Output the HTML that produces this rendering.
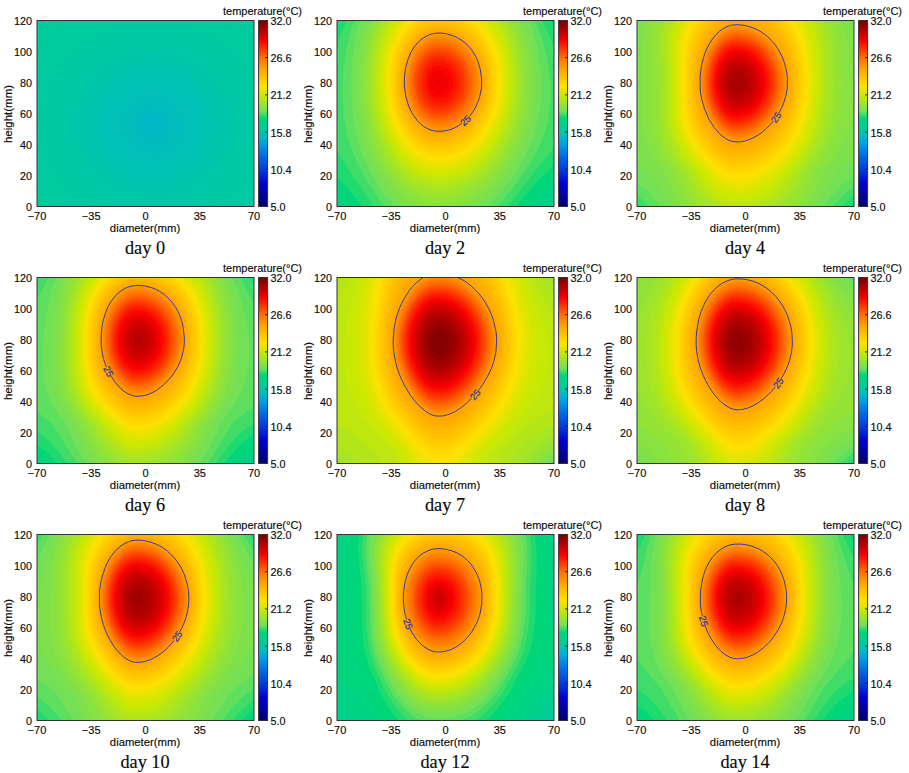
<!DOCTYPE html>
<html><head><meta charset="utf-8"><title>temperature</title>
<style>html,body{margin:0;padding:0;background:#fff;width:909px;height:773px;overflow:hidden}svg{display:block}text{fill:#0a0a0a;stroke:#0a0a0a;stroke-width:0.15px}</style>
</head><body>
<svg width="909" height="773" viewBox="0 0 909 773">
<defs><linearGradient id="cb" x1="0" y1="0" x2="0" y2="1"><stop offset="0.000" stop-color="#730000"/><stop offset="0.110" stop-color="#fa0000"/><stop offset="0.200" stop-color="#ff6e00"/><stop offset="0.270" stop-color="#ffaa00"/><stop offset="0.353" stop-color="#ffe100"/><stop offset="0.400" stop-color="#cde800"/><stop offset="0.490" stop-color="#6ee05a"/><stop offset="0.525" stop-color="#00d778"/><stop offset="0.600" stop-color="#00c8a5"/><stop offset="0.635" stop-color="#00b4d2"/><stop offset="0.674" stop-color="#0096e6"/><stop offset="0.725" stop-color="#006ee6"/><stop offset="0.800" stop-color="#003cdc"/><stop offset="0.875" stop-color="#0000d2"/><stop offset="1.000" stop-color="#00006e"/></linearGradient>
<clipPath id="pc"><rect x="0" y="0" width="217" height="186"/></clipPath></defs>
<g transform="translate(0,0)"><g transform="translate(37,20.5)" clip-path="url(#pc)"><rect x="0" y="0" width="217" height="186" fill="#00b8c9"/><path d="M217.0 186.0L0.0 186.0L0.0 0.0L217.0 0.0L217.0 186.0ZM117.0 110.0L120.1 108.0L121.0 106.0L121.0 104.0L119.0 100.9L117.0 100.0L115.0 100.0L111.9 102.0L111.0 104.0L111.0 106.0L113.0 109.1L115.0 110.0L117.0 110.0Z" fill="#00b9c6"/><path d="M217.0 186.0L0.0 186.0L0.0 0.0L217.0 0.0L217.0 186.0ZM118.6 114.0L122.0 112.2L124.3 109.5L125.4 106.0L125.1 102.5L123.5 99.3L120.5 96.8L117.0 95.7L113.5 96.0L110.0 97.8L107.7 100.5L106.6 104.0L106.9 107.5L108.5 110.7L111.5 113.2L115.0 114.3L118.6 114.0Z" fill="#00bbc3"/><path d="M217.0 186.0L0.0 186.0L0.0 0.0L217.0 0.0L217.0 186.0ZM116.7 118.0L122.0 116.6L125.9 113.5L128.5 109.0L129.1 104.0L127.6 99.0L124.5 95.1L120.0 92.6L115.0 92.0L110.0 93.4L106.1 96.5L103.5 101.0L102.9 106.0L104.4 111.0L107.5 114.9L112.0 117.4L116.7 118.0Z" fill="#00bcc0"/><path d="M217.0 186.0L0.0 186.0L0.0 0.0L217.0 0.0L217.0 186.0ZM119.9 121.5L126.0 118.8L130.5 114.0L132.0 111.0L133.0 107.5L132.7 101.0L129.8 95.0L125.0 90.6L118.5 88.2L112.0 88.5L106.0 91.2L101.5 96.0L100.0 99.0L99.0 102.5L99.3 109.0L102.2 115.0L107.0 119.4L113.5 121.8L119.9 121.5Z" fill="#00bdbd"/><path d="M217.0 186.0L0.0 186.0L0.0 0.0L217.0 0.0L217.0 186.0ZM120.5 126.5L124.5 125.3L128.5 123.2L132.0 120.4L134.8 117.0L136.9 113.0L138.0 109.0L138.4 104.5L137.9 100.5L136.7 96.5L134.4 92.5L131.5 89.1L128.0 86.5L124.0 84.5L120.0 83.4L115.5 83.1L111.0 83.6L107.0 84.9L103.2 87.0L100.0 89.6L97.2 93.0L95.1 97.0L94.0 101.0L93.6 105.5L94.1 109.5L95.3 113.5L97.5 117.4L100.1 120.5L103.5 123.2L107.5 125.3L111.5 126.5L116.0 126.9L120.5 126.5Z" fill="#00beba"/><path d="M217.0 186.0L0.0 186.0L0.0 0.0L217.0 0.0L217.0 186.0ZM119.3 134.0L125.0 132.9L130.7 130.5L135.5 127.3L139.9 123.0L143.0 118.3L145.2 113.0L146.2 107.5L146.1 101.5L144.9 96.0L142.3 90.5L139.0 86.0L134.5 81.9L129.5 78.9L124.0 76.9L118.0 75.9L112.0 76.1L106.5 77.3L101.0 79.6L96.1 83.0L92.0 87.2L88.8 92.0L86.8 97.0L85.8 102.5L85.9 108.5L87.1 114.0L89.4 119.0L92.5 123.5L97.0 127.7L102.0 130.9L107.5 133.0L113.5 134.1L119.3 134.0Z" fill="#00c0b8"/><path d="M217.0 186.0L0.0 186.0L0.0 0.0L217.0 0.0L217.0 186.0ZM121.7 142.5L129.5 140.6L136.5 137.5L142.8 133.0L148.0 127.5L152.0 121.0L154.6 114.0L155.7 106.5L155.3 99.0L153.1 91.5L149.8 85.0L144.9 79.0L139.0 74.1L132.0 70.3L124.5 68.0L117.0 67.1L109.0 67.7L101.5 69.7L94.7 73.0L88.7 77.5L83.6 83.0L79.7 89.5L77.3 96.5L76.3 103.5L76.7 111.0L78.7 118.0L82.0 124.6L86.6 130.5L92.5 135.6L99.0 139.2L106.5 141.8L114.0 142.8L121.7 142.5Z" fill="#00c1b5"/><path d="M217.0 186.0L0.0 186.0L0.0 0.0L217.0 0.0L217.0 186.0ZM122.9 150.5L132.5 148.2L141.0 144.3L148.5 139.0L155.0 132.1L160.0 124.0L163.0 115.5L164.2 106.5L163.6 97.5L161.1 88.5L156.8 80.5L151.0 73.3L143.9 67.5L135.5 62.9L126.5 60.1L117.0 59.0L107.5 59.7L98.5 62.2L90.0 66.3L82.5 71.9L76.6 78.5L72.0 86.1L69.0 94.5L67.8 103.5L68.4 112.5L70.8 121.0L74.8 129.0L80.5 136.1L87.5 142.1L95.5 146.6L104.5 149.6L113.5 150.9L122.9 150.5Z" fill="#00c2b2"/><path d="M217.0 186.0L0.0 186.0L0.0 0.0L217.0 0.0L217.0 186.0ZM122.3 158.0L133.0 155.8L143.4 151.5L152.4 145.5L160.0 138.0L166.0 129.0L169.9 119.5L171.8 109.0L171.6 98.5L169.1 88.0L164.6 78.5L158.3 70.0L150.0 62.6L140.5 57.0L130.5 53.5L119.5 51.8L108.5 52.1L98.0 54.5L88.0 58.8L79.0 65.0L71.6 72.5L65.7 81.5L62.0 91.0L60.2 101.0L60.4 111.5L62.7 121.5L67.1 131.0L73.5 139.7L81.5 147.0L90.5 152.5L101.0 156.4L111.5 158.2L122.3 158.0Z" fill="#00c4af"/><path d="M217.0 186.0L0.0 186.0L0.0 0.0L217.0 0.0L217.0 186.0ZM122.2 165.0L134.5 162.7L146.0 158.1L156.3 151.5L165.1 143.0L172.1 133.0L176.7 122.0L179.0 110.5L178.9 98.5L176.4 87.0L171.5 76.0L164.5 66.3L155.5 57.9L145.0 51.4L133.5 47.1L121.0 44.9L108.5 45.1L96.5 47.6L85.0 52.4L75.0 59.1L66.4 67.5L59.9 77.0L55.3 88.0L53.0 99.5L53.1 111.5L55.6 123.0L60.5 134.0L67.3 143.5L76.0 151.7L86.0 158.1L97.5 162.7L109.5 165.0L122.2 165.0Z" fill="#00c5ac"/><path d="M217.0 186.0L0.0 186.0L0.0 0.0L217.0 0.0L217.0 186.0ZM118.0 172.0L132.0 170.3L145.0 166.1L157.0 159.5L167.2 151.0L175.7 140.5L181.7 129.0L183.9 122.5L185.4 116.0L186.3 103.0L184.6 90.0L180.2 77.5L173.2 66.0L164.0 56.0L153.0 48.0L140.5 42.2L127.0 38.8L113.5 38.0L100.0 39.7L86.8 44.0L75.0 50.5L64.5 59.3L56.0 70.0L50.1 81.5L46.6 94.0L45.7 107.0L47.4 120.0L51.8 132.5L58.5 143.6L67.5 153.6L78.5 161.7L91.0 167.7L104.5 171.1L118.0 172.0Z" fill="#00c6a9"/><path d="M217.0 186.0L0.0 186.0L0.0 0.0L217.0 0.0L217.0 186.0ZM121.6 178.5L129.0 177.6L136.5 176.1L144.0 173.7L151.0 170.7L157.5 167.2L163.7 163.0L169.5 158.2L174.7 153.0L179.5 147.1L183.5 141.0L186.9 134.5L189.5 128.0L191.5 121.0L192.9 113.5L193.4 106.5L193.1 99.0L192.1 91.5L190.3 84.5L187.8 77.5L184.7 71.0L181.0 65.0L176.5 59.0L171.3 53.5L165.7 48.5L159.5 44.1L153.0 40.3L146.0 37.1L139.0 34.6L131.5 32.8L124.0 31.7L109.0 31.6L101.5 32.6L94.0 34.3L87.0 36.7L80.0 39.8L67.5 47.6L62.0 52.2L56.8 57.5L52.1 63.5L48.2 69.5L44.9 76.0L42.3 82.5L40.4 89.5L39.1 96.5L38.6 103.5L38.9 111.0L39.8 118.0L41.5 125.0L44.0 132.0L47.1 138.5L50.7 144.5L55.1 150.5L60.1 156.0L65.7 161.0L71.5 165.3L78.0 169.2L85.0 172.5L92.0 175.1L106.5 178.1L114.0 178.7L121.6 178.5Z" fill="#00c7a6"/><path d="M217.0 186.0L0.0 186.0L0.0 0.0L217.0 0.0L217.0 186.0ZM124.5 185.0L133.0 183.8L141.0 181.8L148.5 179.2L156.0 175.8L163.5 171.5L170.0 166.8L176.1 161.5L181.7 155.5L186.7 149.0L191.0 142.0L194.3 135.0L197.1 127.5L199.0 120.0L200.1 112.0L200.4 104.0L199.9 96.0L198.5 88.0L196.4 80.5L193.5 73.0L189.8 66.0L185.5 59.3L180.4 53.0L174.5 47.0L168.0 41.6L161.1 37.0L154.0 33.2L146.5 30.0L138.5 27.5L130.5 25.8L122.0 24.8L113.5 24.6L105.5 25.2L97.5 26.5L89.5 28.7L82.0 31.4L74.4 35.0L67.5 39.2L61.0 44.0L54.9 49.5L49.5 55.5L44.7 62.0L40.8 68.5L37.5 75.5L34.8 83.0L33.0 90.5L31.8 98.5L31.6 106.5L32.1 114.0L33.5 122.0L35.6 129.5L38.5 136.9L42.0 143.7L46.4 150.5L51.2 156.5L57.0 162.5L63.0 167.6L70.0 172.4L77.0 176.3L84.5 179.6L92.0 182.1L100.0 184.0L108.0 185.1L116.5 185.4L124.5 185.0Z" fill="#00c8a4"/><path d="M217.0 186.0L150.2 186.0L164.5 179.1L177.0 170.2L188.0 159.0L196.5 146.8L202.8 133.0L206.6 118.5L207.7 103.5L206.0 88.5L201.7 74.0L194.9 60.5L185.9 48.5L174.5 37.8L161.5 29.2L147.0 22.8L131.5 19.0L116.0 17.7L100.5 19.0L85.0 22.8L70.5 29.2L57.5 37.8L46.1 48.5L37.1 60.5L30.3 74.0L26.0 88.5L24.3 103.5L25.4 118.5L29.2 133.0L35.5 146.8L44.0 159.0L55.0 170.2L67.5 179.1L81.8 186.0L0.0 186.0L0.0 0.0L217.0 0.0L217.0 186.0Z" fill="#00c9a3"/><path d="M217.0 186.0L167.1 186.0L175.0 181.0L182.5 175.1L189.0 169.0L195.1 162.0L200.5 154.5L205.1 146.5L209.0 138.0L211.8 129.5L213.9 120.5L215.0 111.5L215.2 102.5L214.5 93.5L212.8 84.5L210.4 76.0L207.1 67.5L202.9 59.5L195.9 49.0L187.5 39.5L177.5 30.9L166.5 23.7L154.5 17.9L142.0 13.8L129.0 11.3L116.0 10.5L100.0 11.8L84.5 15.4L69.5 21.5L56.0 29.8L44.0 40.0L33.9 52.0L25.9 65.5L20.3 80.0L17.3 95.0L17.0 110.5L19.2 125.5L23.8 140.0L31.0 153.7L40.5 166.3L52.0 177.2L64.9 186.0L0.0 186.0L0.0 0.0L217.0 0.0L217.0 186.0Z" fill="#00c9a2"/><path d="M50.5 186.0L0.0 186.0L0.0 0.0L217.0 0.0L217.0 70.7L211.5 58.5L204.3 47.0L195.5 36.5L185.5 27.2L174.0 19.1L162.0 12.7L149.0 7.8L135.5 4.6L121.5 3.0L107.5 3.2L93.5 5.1L80.0 8.8L67.0 14.2L55.0 21.0L44.0 29.3L34.5 38.6L28.0 46.6L22.2 55.5L17.3 65.0L13.7 74.5L10.9 84.5L9.3 95.0L8.8 105.5L9.3 115.5L10.9 125.5L13.7 135.5L17.3 145.0L22.2 154.5L28.0 163.4L34.5 171.4L41.5 178.5L50.5 186.0ZM217.0 186.0L181.3 186.0L193.0 176.1L202.8 165.0L210.9 152.5L217.0 139.3L217.0 186.0Z" fill="#00caa0"/><path d="M37.0 186.0L0.0 186.0L0.0 0.0L80.0 0.0L66.0 5.3L53.0 12.3L41.0 20.8L30.0 30.9L20.7 42.0L12.9 54.5L6.9 67.5L2.8 81.0L0.5 95.0L0.1 109.5L1.7 123.5L5.2 137.5L10.6 151.0L17.6 163.5L26.3 175.0L37.0 186.0ZM217.0 50.7L211.3 42.0L204.8 34.0L197.5 26.4L189.5 19.6L181.0 13.5L171.5 8.0L162.0 3.6L152.0 0.0L217.0 0.0L217.0 50.7ZM217.0 186.0L194.8 186.0L207.0 173.5L217.0 159.3L217.0 186.0Z" fill="#00ca9f"/><path d="M0.0 58.7L0.0 0.0L55.4 0.0L46.5 5.2L38.0 11.0L30.0 17.6L22.5 24.9L15.9 32.5L9.7 41.0L4.5 49.5L0.0 58.7ZM217.0 33.6L208.2 23.5L198.5 14.6L188.0 6.8L176.6 0.0L217.0 0.0L217.0 33.6ZM23.0 186.0L0.0 186.0L0.0 151.3L4.5 160.5L9.7 169.0L15.1 176.5L23.0 186.0ZM217.0 186.0L208.7 186.0L217.0 176.4L217.0 186.0Z" fill="#00ca9e"/><path d="M0.0 35.1L0.0 0.0L34.2 0.0L24.5 7.5L15.4 16.0L7.4 25.0L0.0 35.1ZM217.0 16.4L208.0 8.0L197.8 0.0L217.0 0.0L217.0 16.4ZM8.0 186.0L0.0 186.0L0.0 174.9L8.0 186.0Z" fill="#00cb9c"/><path d="M0.0 11.8L0.0 0.0L11.7 0.0L0.0 11.8Z" fill="#00cb9b"/></g><rect x="37" y="20.5" width="217" height="186" fill="none" stroke="#333" stroke-width="1"/><rect x="258.6" y="20.5" width="9" height="186" fill="url(#cb)" stroke="#333" stroke-width="1"/><line x1="265.1" x2="267.6" y1="57.7" y2="57.7" stroke="#222" stroke-width="1"/><line x1="265.1" x2="267.6" y1="94.9" y2="94.9" stroke="#222" stroke-width="1"/><line x1="265.1" x2="267.6" y1="132.1" y2="132.1" stroke="#222" stroke-width="1"/><line x1="265.1" x2="267.6" y1="169.3" y2="169.3" stroke="#222" stroke-width="1"/><text x="270.5" y="25.0" font-size="10.8" text-anchor="start" font-family="Liberation Sans">32.0</text><text x="270.5" y="62.2" font-size="10.8" text-anchor="start" font-family="Liberation Sans">26.6</text><text x="270.5" y="99.4" font-size="10.8" text-anchor="start" font-family="Liberation Sans">21.2</text><text x="270.5" y="136.6" font-size="10.8" text-anchor="start" font-family="Liberation Sans">15.8</text><text x="270.5" y="173.8" font-size="10.8" text-anchor="start" font-family="Liberation Sans">10.4</text><text x="270.5" y="211.0" font-size="10.8" text-anchor="start" font-family="Liberation Sans">5.0</text><text x="302.0" y="15.2" font-size="11" text-anchor="end" font-family="Liberation Sans">temperature(°C)</text><text x="32.1" y="211.0" font-size="10.8" text-anchor="end" font-family="Liberation Sans">0</text><text x="32.1" y="180.0" font-size="10.8" text-anchor="end" font-family="Liberation Sans">20</text><text x="32.1" y="149.0" font-size="10.8" text-anchor="end" font-family="Liberation Sans">40</text><text x="32.1" y="118.0" font-size="10.8" text-anchor="end" font-family="Liberation Sans">60</text><text x="32.1" y="87.0" font-size="10.8" text-anchor="end" font-family="Liberation Sans">80</text><text x="32.1" y="56.0" font-size="10.8" text-anchor="end" font-family="Liberation Sans">100</text><text x="32.1" y="25.0" font-size="10.8" text-anchor="end" font-family="Liberation Sans">120</text><text x="37.0" y="220.2" font-size="11" text-anchor="middle" font-family="Liberation Sans">−70</text><text x="91.2" y="220.2" font-size="11" text-anchor="middle" font-family="Liberation Sans">−35</text><text x="145.5" y="220.2" font-size="11" text-anchor="middle" font-family="Liberation Sans">0</text><text x="199.8" y="220.2" font-size="11" text-anchor="middle" font-family="Liberation Sans">35</text><text x="254.0" y="220.2" font-size="11" text-anchor="middle" font-family="Liberation Sans">70</text><text x="145.0" y="232.4" font-size="11.3" text-anchor="middle" font-family="Liberation Sans">diameter(mm)</text><text transform="translate(11.8,114) rotate(-90)" font-size="11.5" text-anchor="middle" font-family="Liberation Sans">height(mm)</text><text x="145.0" y="253.7" font-size="18.3" text-anchor="middle" font-family="Liberation Serif">day 0</text></g>
<g transform="translate(300,0)"><g transform="translate(37,20.5)" clip-path="url(#pc)"><rect x="0" y="0" width="217" height="186" fill="#00cd96"/><path d="M214.5 186.0L0.0 186.0L0.0 0.0L217.0 0.0L217.0 183.8L214.5 186.0Z" fill="#00cf90"/><path d="M208.5 186.0L0.0 186.0L0.0 0.0L217.0 0.0L217.0 178.5L208.5 186.0Z" fill="#00d18a"/><path d="M202.0 186.0L0.0 186.0L0.0 0.0L217.0 0.0L217.0 172.5L202.0 186.0Z" fill="#00d384"/><path d="M195.0 186.0L3.8 186.0L0.0 182.4L0.0 0.0L217.0 0.0L217.0 165.4L206.5 174.3L195.0 186.0Z" fill="#00d57e"/><path d="M187.5 186.0L14.6 186.0L0.0 171.4L0.0 0.0L217.0 0.0L217.0 156.9L203.0 169.0L187.5 186.0Z" fill="#00d778"/><path d="M179.0 186.0L25.7 186.0L11.5 168.4L0.0 156.5L0.0 0.0L213.7 0.0L217.0 5.3L217.0 145.5L209.0 152.4L200.5 160.9L190.0 172.8L179.5 186.0L179.0 186.0Z" fill="#1fda6f"/><path d="M170.5 186.0L36.8 186.0L17.2 158.0L0.0 130.6L0.0 24.5L9.4 0.0L205.4 0.0L217.0 25.4L217.0 126.9L170.5 186.0Z" fill="#3fdc67"/><path d="M161.0 186.0L47.5 186.0L44.8 182.5L31.2 163.0L20.7 143.5L12.3 122.0L9.8 112.5L7.9 102.0L6.3 88.5L5.5 75.0L5.6 63.0L6.5 49.0L8.1 35.5L10.3 23.5L13.3 11.5L17.1 0.0L198.2 0.0L203.2 12.5L207.3 25.5L210.4 38.5L212.6 52.5L213.7 64.5L213.8 75.5L212.8 88.0L210.8 101.0L208.4 110.5L205.2 119.5L201.0 128.5L194.3 140.5L179.7 162.5L161.0 186.0Z" fill="#5edf5e"/><path d="M150.5 186.0L58.2 186.0L50.0 176.9L42.2 166.5L31.9 149.0L23.6 129.5L18.4 111.5L15.2 92.0L13.8 68.0L15.0 40.5L18.1 19.0L20.4 9.5L23.4 0.0L191.9 0.0L196.3 11.5L199.7 23.5L202.2 36.5L203.8 50.0L204.6 64.0L204.3 76.0L202.9 89.5L200.6 102.5L197.8 113.0L193.9 123.5L189.8 132.5L182.2 146.5L175.3 157.0L167.1 168.0L158.5 178.0L150.5 186.0Z" fill="#73e055"/><path d="M138.5 186.0L69.6 186.0L62.0 179.7L54.5 172.0L47.5 163.2L41.2 153.5L33.9 139.0L26.8 120.0L22.7 102.5L20.2 83.0L19.5 62.0L20.9 35.5L23.9 16.5L28.8 0.0L186.4 0.0L190.6 11.0L193.9 23.0L196.2 36.0L197.7 50.5L198.2 65.0L197.7 78.0L195.9 92.0L193.2 105.0L189.7 116.5L185.2 127.5L178.3 141.0L171.8 151.5L164.0 162.1L155.5 171.7L147.0 179.6L138.5 186.0Z" fill="#7ee14b"/><path d="M121.5 186.0L84.5 186.0L76.5 182.3L66.0 175.0L56.0 165.0L47.4 153.5L39.9 140.0L33.4 124.5L29.0 109.5L25.8 92.5L24.2 74.0L24.2 51.5L25.8 31.0L28.9 14.5L33.6 0.0L181.3 0.0L185.9 11.5L189.4 24.5L191.8 39.0L193.0 55.0L193.2 69.0L192.1 83.0L189.6 97.5L186.0 111.0L180.8 124.5L173.7 138.5L166.7 149.5L159.0 159.4L150.0 168.8L140.5 176.5L131.0 182.2L121.5 186.0Z" fill="#88e241"/><path d="M108.5 182.0L98.0 182.2L88.0 180.4L78.0 176.2L68.5 169.9L59.5 161.4L51.3 151.0L44.7 140.0L38.2 125.5L33.7 112.0L30.4 97.0L28.4 80.5L27.7 64.0L28.3 44.0L30.1 27.5L33.2 13.0L37.9 0.0L176.7 0.0L180.5 8.5L184.4 21.0L187.1 34.5L188.6 49.5L189.1 66.0L188.2 79.5L186.0 93.5L182.8 106.5L178.3 119.0L172.6 131.0L164.8 144.0L156.7 154.5L148.0 163.4L138.5 170.9L129.0 176.3L119.0 180.0L108.5 182.0Z" fill="#93e337"/><path d="M104.0 176.5L94.5 176.0L85.0 173.5L76.0 169.0L67.5 162.8L59.5 154.7L52.6 145.5L45.8 133.5L40.7 122.0L36.7 109.5L33.7 96.0L31.7 81.0L30.9 65.5L31.4 47.0L32.8 31.5L35.4 18.0L39.2 6.0L41.8 0.0L172.3 0.0L177.8 12.0L181.6 25.0L184.1 39.5L185.4 56.0L185.3 71.0L183.7 85.5L180.7 100.0L176.1 114.0L170.2 127.0L162.4 140.0L154.5 150.2L145.5 159.2L136.0 166.3L125.5 171.8L115.0 175.1L104.0 176.5Z" fill="#9de42d"/><path d="M108.0 171.0L98.0 171.2L88.5 169.4L79.0 165.3L70.4 159.5L62.5 152.0L55.0 142.4L47.9 130.0L42.7 118.0L38.5 104.0L35.6 89.0L34.1 73.0L33.9 56.0L34.9 39.0L37.1 24.5L40.6 11.5L45.6 0.0L168.2 0.0L171.9 7.0L175.0 14.5L178.3 25.5L180.6 38.0L182.0 52.0L182.2 67.0L181.2 79.5L179.1 92.0L176.0 104.0L171.7 115.5L166.0 127.0L159.0 138.0L152.0 146.9L144.5 154.3L136.0 160.8L127.0 165.8L117.5 169.2L108.0 171.0Z" fill="#a8e523"/><path d="M105.0 166.5L96.0 166.2L87.5 164.2L79.5 160.7L71.5 155.2L64.0 148.1L57.6 140.0L51.2 129.5L46.3 119.0L42.3 107.5L39.4 95.0L37.4 81.5L36.5 68.0L36.6 51.5L37.8 37.0L39.9 24.5L43.2 13.0L49.1 0.0L164.2 0.0L170.0 10.5L174.2 22.0L177.2 35.0L178.9 49.5L179.3 65.0L178.3 79.0L175.8 93.0L171.8 106.5L166.7 118.5L160.2 130.0L152.1 141.0L144.0 149.4L135.0 156.4L125.5 161.5L115.5 164.9L105.0 166.5Z" fill="#b3e619"/><path d="M107.0 162.0L97.5 162.1L88.5 160.1L80.0 156.4L71.5 150.4L63.6 142.5L56.7 133.0L50.9 122.5L46.1 110.5L42.3 96.5L39.9 81.5L38.9 66.0L39.2 49.0L40.7 34.5L43.4 21.5L47.3 10.0L52.5 0.0L160.4 0.0L166.1 9.5L170.7 20.5L173.5 31.0L175.5 42.5L176.5 55.5L176.5 68.5L175.4 80.0L173.2 91.5L170.3 102.0L166.2 112.5L161.1 122.5L155.2 131.5L148.0 140.4L140.5 147.5L132.5 153.3L124.5 157.5L116.0 160.4L107.0 162.0Z" fill="#bde70f"/><path d="M106.0 158.0L98.0 158.0L90.0 156.5L82.5 153.5L75.0 148.8L68.0 142.5L61.5 134.7L55.8 126.0L51.1 116.5L47.3 106.0L44.4 95.0L42.4 83.0L41.3 70.5L41.2 56.0L42.0 42.0L43.9 30.0L46.6 19.5L50.7 9.0L55.9 0.0L156.6 0.0L162.6 9.0L167.4 19.5L170.8 31.0L173.1 44.0L174.1 59.0L173.7 72.5L171.8 86.0L168.4 99.0L163.8 111.0L158.0 121.9L151.0 131.9L143.0 140.7L134.5 147.6L125.5 152.8L116.0 156.3L106.0 158.0Z" fill="#c8e805"/><path d="M107.5 154.0L98.0 154.2L89.5 152.4L81.0 148.6L73.1 143.0L66.0 135.7L59.0 126.0L53.4 115.5L49.1 104.0L45.8 90.5L43.8 76.0L43.2 60.5L44.0 44.0L46.0 31.0L49.1 19.5L53.5 9.0L59.2 0.0L152.8 0.0L157.1 5.5L160.8 11.5L164.0 18.1L166.7 25.5L169.2 35.5L170.9 46.0L171.7 57.5L171.5 69.0L170.4 79.5L168.3 90.0L165.4 100.0L161.8 109.0L157.1 118.0L151.5 126.4L145.5 133.6L138.2 140.5L131.0 145.7L123.5 149.7L115.5 152.5L107.5 154.0Z" fill="#d2e700"/><path d="M106.0 150.5L97.5 150.5L89.0 148.6L80.5 144.5L73.0 138.8L65.7 131.0L59.5 121.9L54.3 111.5L50.3 100.0L47.2 86.5L45.6 72.5L45.3 57.0L46.3 42.0L48.5 29.5L51.9 18.5L56.6 8.5L62.5 0.0L149.0 0.0L154.1 6.0L158.6 13.0L162.2 20.5L165.2 29.0L167.4 38.5L168.9 49.0L169.4 60.0L169.1 70.5L167.9 80.5L165.8 90.5L162.8 100.0L158.9 109.0L154.3 117.5L148.6 125.5L142.5 132.4L135.7 138.5L129.0 143.0L121.5 146.8L114.0 149.2L106.0 150.5Z" fill="#dde600"/><path d="M106.5 147.0L98.0 147.1L89.5 145.2L81.5 141.4L74.0 135.8L67.0 128.3L60.7 119.0L55.5 108.5L51.6 97.0L48.8 84.0L47.4 70.0L47.3 54.5L48.6 40.0L51.1 28.0L54.7 17.5L59.7 8.0L65.8 0.0L145.2 0.0L151.2 6.5L156.3 14.0L160.4 22.5L163.5 31.5L165.5 40.5L166.8 50.5L167.3 61.5L166.9 71.0L165.7 80.5L163.5 90.0L160.6 99.0L156.9 107.5L152.5 115.5L147.2 123.0L141.4 129.5L135.0 135.1L128.5 139.6L121.5 143.2L114.0 145.7L106.5 147.0Z" fill="#e8e400"/><path d="M107.5 143.5L98.5 143.8L90.5 142.1L82.5 138.4L74.6 132.5L67.6 125.0L61.6 116.0L56.8 106.0L53.0 94.5L50.4 81.5L49.1 67.5L49.3 52.5L50.8 38.5L53.5 27.0L57.5 16.5L62.8 7.5L69.2 0.0L141.2 0.0L148.0 6.6L153.8 14.5L158.3 23.5L161.7 33.5L163.6 42.0L164.8 51.5L165.2 62.0L164.8 71.0L163.6 80.0L161.6 89.0L158.8 97.5L155.3 105.5L151.0 113.1L146.0 120.2L140.5 126.4L134.5 131.8L128.0 136.3L121.5 139.7L114.5 142.2L107.5 143.5Z" fill="#f2e300"/><path d="M105.0 140.5L96.5 140.3L88.5 138.0L80.5 133.7L73.5 127.8L67.0 120.1L61.5 111.0L57.2 101.0L53.8 89.5L51.6 76.5L50.8 63.0L51.4 48.5L53.3 35.5L56.4 24.5L60.7 15.0L66.0 7.0L72.7 0.0L137.0 0.0L145.0 7.0L151.9 16.0L157.0 26.2L160.7 38.0L162.2 46.5L163.1 56.0L163.2 65.0L162.5 74.0L161.0 82.5L158.7 91.0L155.8 99.0L152.1 106.5L147.9 113.5L142.9 120.0L137.5 125.6L131.5 130.5L125.0 134.6L118.5 137.6L112.0 139.5L105.0 140.5Z" fill="#fde100"/><path d="M102.0 137.5L96.0 137.0L90.0 135.4L84.5 132.9L79.0 129.2L74.0 124.7L69.1 119.0L65.0 112.8L61.4 106.0L58.4 98.5L56.0 90.5L54.2 82.0L53.0 73.0L52.7 54.0L53.6 44.5L55.1 36.0L58.4 25.0L63.2 15.0L69.4 6.5L76.5 0.0L132.5 0.0L140.5 6.0L147.4 13.5L152.9 22.5L157.0 32.5L159.9 44.5L161.2 57.5L160.9 70.0L159.0 82.0L155.6 93.5L150.9 104.0L144.9 113.5L137.5 122.0L129.5 128.5L120.5 133.5L111.5 136.4L102.0 137.5Z" fill="#ffdc00"/><path d="M107.5 134.0L98.5 134.3L90.5 132.4L82.7 128.5L75.5 122.6L69.1 115.0L63.7 106.0L59.4 95.5L56.4 84.0L54.6 71.0L54.3 57.5L55.5 44.0L58.0 32.0L61.8 22.0L67.0 13.0L73.4 5.5L80.6 0.0L127.5 0.0L129.5 1.0L134.5 4.2L139.5 8.3L143.6 12.5L147.5 17.6L153.5 29.0L157.5 42.5L159.3 58.5L158.5 74.0L155.0 89.0L149.2 102.5L145.5 108.6L141.0 114.6L136.0 119.9L131.0 124.1L125.5 127.8L119.5 130.8L113.5 132.8L107.5 134.0Z" fill="#ffd500"/><path d="M107.5 131.0L99.0 131.3L91.0 129.5L83.0 125.5L76.0 119.7L69.5 111.7L64.3 102.5L60.2 92.0L57.4 80.0L56.0 67.0L56.2 53.5L57.7 41.0L60.8 29.5L65.0 20.0L70.8 11.5L77.5 4.9L85.5 0.0L121.6 0.0L131.5 5.0L140.5 12.5L147.5 21.7L152.8 33.0L156.2 46.0L157.5 61.0L156.4 75.5L152.7 89.5L147.0 102.0L139.0 113.2L129.5 121.9L124.5 125.2L119.0 127.9L113.5 129.8L107.5 131.0Z" fill="#ffce00"/><path d="M107.5 128.1L98.5 128.3L90.5 126.3L82.5 121.9L75.5 115.7L69.3 107.5L64.2 97.5L60.5 86.2L58.3 74.0L57.6 61.0L58.4 47.5L60.8 35.5L64.5 25.3L69.5 16.5L76.1 9.0L83.5 3.6L92.1 0.0L114.5 0.3L125.0 4.0L134.5 10.1L142.3 18.0L148.3 27.5L152.5 38.5L155.0 51.0L155.6 65.0L154.0 78.0L150.2 90.5L144.5 101.9L137.0 111.8L128.0 119.8L118.0 125.2L107.5 128.1Z" fill="#ffc800"/><path d="M103.0 125.5L94.5 124.6L86.5 121.4L79.0 115.8L72.2 108.0L66.8 98.5L62.8 88.0L60.2 76.0L59.2 63.5L59.8 50.5L61.8 38.5L65.4 28.0L70.3 19.0L76.5 11.5L84.0 5.8L92.5 2.3L101.0 1.0L112.0 2.1L122.0 5.2L131.0 10.3L139.0 17.5L145.1 26.0L149.8 36.5L152.7 48.0L153.8 60.5L153.0 72.5L150.3 84.5L145.7 95.5L139.3 105.5L131.5 113.8L122.5 120.1L113.0 124.0L103.0 125.5Z" fill="#ffc100"/><path d="M104.5 122.5L96.5 122.2L88.5 119.4L81.0 114.4L74.5 107.4L69.0 98.6L64.9 88.5L62.0 77.0L60.8 65.0L61.2 52.5L63.0 41.0L66.3 30.5L71.0 21.5L77.0 14.0L84.0 8.4L92.0 4.8L100.5 3.3L110.5 4.1L120.5 7.0L129.5 12.0L137.0 18.5L143.0 26.6L147.7 36.5L150.7 47.5L152.0 59.0L151.5 70.5L149.1 82.0L144.9 92.5L139.0 102.2L132.0 110.1L123.5 116.4L114.0 120.7L104.5 122.5Z" fill="#ffbb00"/><path d="M105.5 119.6L97.5 119.4L90.0 117.1L82.6 112.5L76.2 106.0L70.7 97.5L66.6 88.0L63.8 77.5L62.5 66.0L62.7 54.0L64.4 42.5L67.5 32.4L72.0 23.5L77.9 16.0L84.5 10.7L92.0 7.1L100.0 5.6L109.5 6.2L119.0 8.9L127.5 13.3L135.0 19.6L141.0 27.3L145.6 36.5L148.7 47.0L150.1 58.0L149.8 69.0L147.7 80.0L143.7 90.5L138.3 99.5L131.5 107.2L123.5 113.4L114.5 117.6L105.5 119.6Z" fill="#ffb400"/><path d="M106.5 116.5L98.5 116.7L91.5 114.8L84.5 110.8L78.0 104.6L72.5 96.6L68.3 87.5L65.6 77.5L64.1 66.5L64.2 55.0L65.8 44.0L68.8 34.0L73.0 25.6L78.5 18.4L85.0 12.9L92.5 9.3L100.0 7.9L109.5 8.5L118.2 11.0L126.5 15.4L133.5 21.2L139.3 28.5L143.7 37.0L146.8 47.0L148.3 57.5L148.1 68.0L146.1 78.5L142.6 88.0L137.5 96.8L131.0 104.4L123.5 110.3L115.0 114.5L106.5 116.5Z" fill="#ffad00"/><path d="M107.0 113.6L99.5 113.9L92.5 112.2L85.5 108.4L79.5 102.9L74.2 95.5L70.1 87.0L67.3 77.5L65.8 67.0L65.8 56.0L67.2 45.5L70.0 36.0L74.0 27.6L79.0 20.8L85.0 15.5L92.0 11.8L99.5 10.2L108.5 10.7L117.0 13.0L124.9 17.0L131.7 22.5L137.4 29.5L141.8 37.5L144.9 47.0L146.4 57.0L146.4 67.0L144.6 77.0L141.4 86.0L136.5 94.5L130.5 101.6L123.5 107.2L115.5 111.3L107.0 113.6Z" fill="#ffa600"/><path d="M103.0 111.0L96.0 110.4L89.5 107.8L83.0 103.1L77.7 97.0L73.3 89.5L70.1 81.5L68.1 73.0L67.2 63.0L67.7 53.0L69.7 42.5L72.6 34.5L76.7 27.0L82.0 20.7L88.0 16.2L94.0 13.5L101.0 12.4L109.5 13.2L117.5 15.6L125.5 20.1L132.0 26.0L136.9 32.5L141.3 41.5L143.9 51.0L144.8 60.5L144.3 69.5L141.9 79.5L138.3 87.5L132.9 95.5L126.5 101.9L119.0 106.8L111.0 109.9L103.0 111.0Z" fill="#ff9d00"/><path d="M106.0 109.0L99.0 109.2L92.6 107.5L86.5 104.0L81.0 98.9L76.4 92.5L72.5 84.5L69.8 75.5L68.5 66.0L68.6 56.0L70.0 46.5L72.5 38.0L76.4 30.0L81.3 23.5L87.0 18.7L93.5 15.5L100.0 14.2L108.0 14.6L116.0 16.8L123.5 20.8L129.8 26.0L135.0 32.5L139.0 40.0L141.8 48.5L143.2 58.0L143.1 67.0L141.4 76.0L138.2 84.5L133.7 92.0L128.0 98.4L121.4 103.5L114.0 107.1L106.0 109.0Z" fill="#ff9500"/><path d="M104.0 107.5L97.5 107.2L91.5 105.2L85.7 101.5L80.5 96.1L76.0 89.1L72.7 81.5L70.6 73.0L69.6 64.0L69.9 54.5L71.5 45.5L74.1 37.5L78.0 30.1L82.9 24.0L88.5 19.6L94.5 16.9L101.0 15.8L109.0 16.5L116.5 18.9L123.5 22.8L129.5 28.1L134.5 34.6L138.4 42.5L140.8 51.0L141.8 60.0L141.3 69.0L139.4 77.5L135.9 85.5L131.3 92.5L125.5 98.5L119.0 103.0L111.5 106.2L104.0 107.5Z" fill="#ff8c00"/><path d="M106.5 105.5L100.0 105.8L94.0 104.5L88.3 101.5L83.0 96.8L78.5 90.8L74.9 83.5L72.4 75.5L71.0 66.5L70.9 57.5L72.1 48.5L74.5 40.2L78.0 32.8L82.5 26.6L87.8 22.0L93.5 19.0L100.0 17.6L107.5 18.0L115.0 20.1L121.5 23.5L127.5 28.4L132.5 34.5L136.3 41.5L138.9 49.5L140.2 57.5L140.1 66.0L138.8 74.0L136.0 81.9L132.0 89.0L126.5 95.4L120.5 100.2L113.5 103.7L106.5 105.5Z" fill="#ff8300"/><path d="M103.0 104.0L97.0 103.5L91.5 101.5L86.0 97.6L81.5 92.6L77.5 86.1L74.7 79.0L72.8 71.0L72.1 63.0L72.5 54.5L74.0 46.2L76.5 38.9L80.0 32.4L84.5 26.8L89.5 22.9L95.0 20.4L101.0 19.4L108.5 20.0L115.5 22.3L122.0 26.0L127.5 30.9L132.1 37.0L135.5 44.0L137.8 52.0L138.7 60.5L138.2 68.5L136.4 76.5L133.1 84.0L128.7 90.5L123.3 96.0L117.0 100.2L110.0 102.9L103.0 104.0Z" fill="#ff7b00"/><path d="M104.5 102.0L99.0 102.0L93.5 100.4L88.0 97.1L83.5 92.7L79.5 86.8L76.5 80.0L74.4 72.5L73.4 64.5L73.6 56.0L75.0 48.0L77.2 41.0L80.5 34.4L84.5 29.2L89.5 25.0L95.0 22.3L100.5 21.3L107.5 21.8L114.5 23.9L120.5 27.2L126.0 31.9L130.5 37.8L133.9 44.5L136.0 51.5L137.0 59.5L136.8 67.0L135.2 74.5L132.5 81.5L128.5 88.0L123.5 93.5L117.5 97.8L111.0 100.7L104.5 102.0Z" fill="#ff7200"/><path d="M105.0 100.0L99.5 100.1L94.0 98.6L89.0 95.7L84.7 91.5L80.8 86.0L77.8 79.5L75.8 72.5L74.8 65.0L74.9 57.0L76.1 49.5L78.2 42.5L81.4 36.0L85.5 30.6L90.0 26.8L95.0 24.3L100.5 23.2L107.0 23.7L113.5 25.6L119.5 28.8L124.4 33.0L128.8 38.5L132.0 44.6L134.2 51.5L135.3 59.0L135.1 66.5L133.7 73.5L131.0 80.5L127.4 86.5L122.9 91.5L117.5 95.6L111.5 98.5L105.0 100.0Z" fill="#ff6800"/><path d="M104.0 98.0L99.0 97.9L94.0 96.5L89.2 93.5L85.0 89.2L81.5 84.0L78.9 78.0L77.0 71.0L76.2 64.0L76.4 56.5L77.6 49.5L79.7 43.0L82.7 37.0L86.5 32.2L91.0 28.5L96.0 26.1L101.0 25.3L107.0 25.8L113.0 27.6L118.5 30.6L123.6 35.0L127.5 40.0L130.6 46.0L132.7 53.0L133.5 60.0L133.2 67.0L131.7 74.0L129.0 80.4L125.5 85.8L121.0 90.6L115.5 94.5L110.0 96.8L104.0 98.0Z" fill="#fe5c00"/><path d="M106.5 95.5L101.0 96.0L96.5 95.2L92.0 93.1L88.0 89.8L84.1 85.0L81.2 79.5L79.0 73.0L77.9 66.5L77.7 59.5L78.5 52.5L80.3 46.0L83.0 39.9L86.5 34.9L90.5 31.2L95.0 28.7L100.0 27.5L106.0 27.8L111.5 29.3L116.5 31.8L121.2 35.5L125.0 40.0L128.2 45.5L130.3 51.5L131.5 58.0L131.6 64.5L130.5 71.0L128.5 77.0L125.5 82.4L121.5 87.3L117.0 91.1L112.0 93.8L106.5 95.5Z" fill="#fe4f00"/><path d="M104.0 93.5L99.5 93.5L95.0 92.2L91.0 89.8L87.5 86.4L84.4 82.0L81.9 76.5L80.2 70.5L79.4 64.0L79.5 57.5L80.5 51.2L82.3 45.5L85.0 40.2L88.2 36.0L92.0 32.8L96.5 30.6L101.0 29.8L106.5 30.2L111.5 31.7L116.5 34.5L120.6 38.0L124.1 42.5L127.0 48.0L128.8 54.0L129.6 60.0L129.4 66.0L128.1 72.0L125.9 77.5L122.9 82.5L119.0 86.7L114.5 90.1L109.5 92.4L104.0 93.5Z" fill="#fd4300"/><path d="M104.5 91.0L100.0 91.1L96.0 90.1L92.5 88.1L89.0 85.0L86.0 80.9L83.6 76.0L82.0 70.5L81.1 64.5L81.1 58.5L82.0 52.5L83.7 47.0L86.0 42.3L89.0 38.3L92.5 35.2L96.5 33.1L100.5 32.2L105.5 32.5L110.5 34.0L115.0 36.4L119.0 39.7L122.4 44.0L124.8 48.5L126.6 54.0L127.4 59.5L127.3 65.0L126.3 70.5L124.5 75.5L121.5 80.5L118.0 84.5L114.0 87.6L109.5 89.8L104.5 91.0Z" fill="#fd3700"/><path d="M102.5 88.5L99.0 88.3L95.4 87.0L92.0 84.7L89.0 81.5L86.5 77.5L84.6 73.0L83.4 68.0L82.9 62.5L83.2 57.0L84.1 52.0L85.9 47.0L88.1 43.0L91.0 39.5L94.2 37.0L98.0 35.4L101.5 34.9L106.0 35.3L110.5 36.8L114.5 39.2L118.0 42.3L121.0 46.4L123.2 51.0L124.6 56.0L125.1 61.0L124.8 66.5L123.5 71.5L121.5 76.0L118.8 80.0L115.5 83.3L111.5 86.0L107.0 87.8L102.5 88.5Z" fill="#fc2b00"/><path d="M103.5 85.5L100.0 85.5L97.0 84.7L94.0 83.0L91.0 80.1L88.5 76.5L86.7 72.5L85.0 63.5L85.8 54.0L89.0 46.0L91.5 42.6L94.5 40.0L97.5 38.5L101.0 37.8L105.0 38.1L109.0 39.3L112.5 41.2L115.8 44.0L118.5 47.5L120.5 51.3L121.9 55.5L122.5 60.0L122.4 64.5L121.5 69.2L119.8 73.5L117.5 77.3L114.5 80.5L111.1 83.0L107.5 84.6L103.5 85.5Z" fill="#fb1f00"/><path d="M104.5 82.0L101.0 82.3L98.5 81.8L95.7 80.5L93.3 78.5L89.4 72.5L87.4 64.5L87.8 56.0L90.5 48.6L92.5 45.7L95.0 43.4L97.5 41.9L100.5 41.2L104.0 41.3L107.5 42.2L110.5 43.7L113.4 46.0L117.6 52.0L119.6 59.5L119.0 67.3L116.0 74.2L111.0 79.3L108.0 81.0L104.5 82.0Z" fill="#fb1200"/><path d="M105.0 78.0L100.0 78.3L95.5 76.0L92.0 71.2L90.1 65.0L90.2 58.0L92.3 51.5L96.0 47.0L100.5 45.0L106.0 45.7L110.7 48.5L114.2 53.0L116.1 59.0L116.0 65.1L113.8 71.0L110.0 75.5L105.0 78.0Z" fill="#fa0600"/><path d="M102.5 73.5L99.5 73.2L96.5 71.0L94.2 67.0L93.4 62.5L93.8 58.0L95.5 53.7L98.1 51.0L101.5 49.9L105.5 50.7L108.7 53.0L111.0 56.6L112.0 61.0L111.5 65.5L109.5 69.4L106.5 72.2L102.5 73.5Z" fill="#f40000"/><path d="M102.0 64.6L100.5 64.1L99.6 62.0L100.0 59.9L101.5 58.8L103.2 59.5L104.1 61.5L103.6 63.5L102.0 64.6Z" fill="#e80000"/><mask id="m1" maskUnits="userSpaceOnUse" x="-10" y="-10" width="240" height="210"><rect x="-10" y="-10" width="240" height="210" fill="#fff"/><rect x="-4.8" y="-3.8" width="9.6" height="7.6" fill="#000" transform="translate(128.5,99.9428) rotate(-43.1527)"/></mask><path d="M106.0 110.6L99.5 110.8L96.5 110.3L93.0 109.3L89.5 107.6L86.5 105.8L83.5 103.4L80.2 100.0L75.2 93.0L71.3 84.5L68.7 75.5L67.4 65.5L67.3 60.5L67.6 55.0L68.7 47.0L71.3 38.0L73.2 33.5L75.3 29.5L78.3 25.0L80.4 22.5L84.0 19.1L86.5 17.3L92.5 14.2L96.0 13.2L99.5 12.6L104.0 12.6L108.5 13.1L116.0 15.2L120.5 17.2L124.0 19.3L128.0 22.3L130.9 25.0L134.3 29.0L136.7 32.5L138.7 36.0L140.8 40.5L143.3 49.0L144.6 58.5L144.7 63.5L144.3 68.5L142.4 77.5L139.2 85.5L136.7 90.0L134.3 93.5L131.9 96.5L128.0 100.4L121.5 105.2L117.5 107.4L114.0 108.8L110.5 109.8L106.0 110.6Z" fill="none" stroke="#3838a4" stroke-width="1.0" mask="url(#m1)"/><text x="0" y="3.4" font-size="9.5" text-anchor="middle" font-family="Liberation Sans" style="fill:#3838a4;stroke:#3838a4;stroke-width:0.3" transform="translate(128.5,99.9428) rotate(-43.1527)">25</text></g><rect x="37" y="20.5" width="217" height="186" fill="none" stroke="#333" stroke-width="1"/><rect x="258.6" y="20.5" width="9" height="186" fill="url(#cb)" stroke="#333" stroke-width="1"/><line x1="265.1" x2="267.6" y1="57.7" y2="57.7" stroke="#222" stroke-width="1"/><line x1="265.1" x2="267.6" y1="94.9" y2="94.9" stroke="#222" stroke-width="1"/><line x1="265.1" x2="267.6" y1="132.1" y2="132.1" stroke="#222" stroke-width="1"/><line x1="265.1" x2="267.6" y1="169.3" y2="169.3" stroke="#222" stroke-width="1"/><text x="270.5" y="25.0" font-size="10.8" text-anchor="start" font-family="Liberation Sans">32.0</text><text x="270.5" y="62.2" font-size="10.8" text-anchor="start" font-family="Liberation Sans">26.6</text><text x="270.5" y="99.4" font-size="10.8" text-anchor="start" font-family="Liberation Sans">21.2</text><text x="270.5" y="136.6" font-size="10.8" text-anchor="start" font-family="Liberation Sans">15.8</text><text x="270.5" y="173.8" font-size="10.8" text-anchor="start" font-family="Liberation Sans">10.4</text><text x="270.5" y="211.0" font-size="10.8" text-anchor="start" font-family="Liberation Sans">5.0</text><text x="302.0" y="15.2" font-size="11" text-anchor="end" font-family="Liberation Sans">temperature(°C)</text><text x="32.1" y="211.0" font-size="10.8" text-anchor="end" font-family="Liberation Sans">0</text><text x="32.1" y="180.0" font-size="10.8" text-anchor="end" font-family="Liberation Sans">20</text><text x="32.1" y="149.0" font-size="10.8" text-anchor="end" font-family="Liberation Sans">40</text><text x="32.1" y="118.0" font-size="10.8" text-anchor="end" font-family="Liberation Sans">60</text><text x="32.1" y="87.0" font-size="10.8" text-anchor="end" font-family="Liberation Sans">80</text><text x="32.1" y="56.0" font-size="10.8" text-anchor="end" font-family="Liberation Sans">100</text><text x="32.1" y="25.0" font-size="10.8" text-anchor="end" font-family="Liberation Sans">120</text><text x="37.0" y="220.2" font-size="11" text-anchor="middle" font-family="Liberation Sans">−70</text><text x="91.2" y="220.2" font-size="11" text-anchor="middle" font-family="Liberation Sans">−35</text><text x="145.5" y="220.2" font-size="11" text-anchor="middle" font-family="Liberation Sans">0</text><text x="199.8" y="220.2" font-size="11" text-anchor="middle" font-family="Liberation Sans">35</text><text x="254.0" y="220.2" font-size="11" text-anchor="middle" font-family="Liberation Sans">70</text><text x="145.0" y="232.4" font-size="11.3" text-anchor="middle" font-family="Liberation Sans">diameter(mm)</text><text transform="translate(11.8,114) rotate(-90)" font-size="11.5" text-anchor="middle" font-family="Liberation Sans">height(mm)</text><text x="145.0" y="253.7" font-size="18.3" text-anchor="middle" font-family="Liberation Serif">day 2</text></g>
<g transform="translate(600,0)"><g transform="translate(37,20.5)" clip-path="url(#pc)"><rect x="0" y="0" width="217" height="186" fill="#00d778"/><path d="M212.5 186.0L0.0 186.0L0.0 0.0L217.0 0.0L217.0 182.0L212.5 186.0Z" fill="#1fda6f"/><path d="M204.5 186.0L2.1 186.0L0.0 184.1L0.0 0.0L217.0 0.0L217.0 174.9L204.5 186.0Z" fill="#3fdc67"/><path d="M196.0 186.0L12.4 186.0L0.0 174.4L0.0 0.0L217.0 0.0L217.0 166.2L207.0 174.5L196.0 186.0Z" fill="#5edf5e"/><path d="M187.0 186.0L23.5 186.0L11.5 171.7L0.0 161.7L0.0 0.0L217.0 0.0L217.0 154.6L209.5 160.1L203.0 166.2L196.5 173.6L187.0 186.0Z" fill="#73e055"/><path d="M178.0 186.0L34.5 186.0L19.5 162.7L11.6 151.5L0.0 142.1L0.0 0.0L214.7 0.0L217.0 4.8L217.0 137.4L209.0 143.2L200.0 151.0L178.0 186.0Z" fill="#7ee14b"/><path d="M168.5 186.0L44.5 186.0L33.8 167.0L26.6 151.0L18.9 141.0L12.9 131.0L8.7 121.5L6.0 111.5L4.8 102.5L4.4 92.0L5.4 29.0L6.3 14.0L8.6 0.0L204.9 0.0L208.7 13.0L211.8 27.0L214.4 42.0L216.2 57.5L216.9 67.5L216.8 77.0L214.2 98.0L210.8 110.5L205.6 122.5L197.3 136.5L186.4 151.0L178.6 169.0L172.8 179.5L168.5 186.0Z" fill="#88e241"/><path d="M159.5 186.0L53.5 186.0L42.9 168.0L35.4 151.0L28.7 142.0L23.7 133.5L19.6 124.0L16.9 114.0L15.7 106.0L15.2 97.0L15.7 57.5L14.4 23.5L14.8 11.0L16.4 0.0L197.6 0.0L200.3 11.0L202.3 23.0L204.4 52.0L204.8 66.0L204.4 77.0L203.2 89.0L201.2 101.0L197.4 115.5L191.8 129.0L185.6 140.0L177.7 151.0L174.4 160.0L170.2 169.0L164.7 178.5L159.5 186.0Z" fill="#93e337"/><path d="M150.0 186.0L61.7 186.0L57.7 180.5L48.9 166.0L42.0 151.0L35.1 142.0L29.7 133.0L25.6 123.5L22.8 113.0L21.1 96.5L21.6 58.0L20.1 23.5L20.6 11.0L22.2 0.0L191.7 0.0L194.3 11.0L196.2 23.0L197.3 36.5L197.9 54.0L198.0 68.0L197.4 79.5L195.9 92.0L193.8 103.5L189.3 119.0L183.3 132.5L177.7 142.0L171.0 151.0L166.7 161.5L161.2 171.5L155.0 180.4L150.0 186.0Z" fill="#9de42d"/><path d="M140.5 186.0L69.6 186.0L64.0 179.4L58.7 172.0L52.7 162.0L47.4 151.0L41.4 143.5L36.7 136.5L32.2 128.0L29.0 119.5L26.9 110.5L25.7 100.5L25.4 89.0L25.9 58.0L24.5 22.0L25.2 10.5L27.1 0.0L186.7 0.0L189.6 11.5L191.4 24.0L192.5 38.5L193.0 57.5L193.0 70.0L192.2 82.0L190.5 94.5L188.1 106.0L183.0 122.0L175.8 136.5L170.8 144.0L165.4 151.0L160.6 161.0L154.7 170.5L147.8 179.0L140.5 186.0Z" fill="#a8e523"/><path d="M129.0 186.0L78.1 186.0L70.5 179.0L63.5 170.5L57.5 161.2L52.1 151.0L43.8 140.5L37.6 130.5L34.2 123.0L31.7 115.0L29.9 106.0L29.1 96.5L29.4 59.0L28.1 23.0L29.0 11.0L31.3 0.0L182.3 0.0L185.4 12.0L187.5 25.5L188.6 41.0L189.1 62.0L188.8 74.0L187.6 86.5L185.6 98.5L183.0 109.5L178.8 121.5L173.8 132.0L167.8 141.5L160.2 151.0L152.5 164.4L147.0 171.4L141.0 177.5L134.5 182.8L129.0 186.0Z" fill="#b3e619"/><path d="M113.0 186.0L89.7 186.0L83.5 183.1L77.5 178.8L71.0 172.5L65.0 165.0L56.5 151.0L49.8 143.0L44.4 135.5L38.0 123.5L35.5 116.5L33.7 109.0L32.5 100.5L32.0 91.5L32.3 59.5L31.3 23.5L32.5 11.0L35.2 0.0L178.2 0.0L181.6 12.0L184.0 26.0L185.2 42.0L185.7 63.5L185.2 76.5L183.6 90.0L181.2 102.5L177.7 114.5L173.1 125.5L167.6 135.5L161.9 143.5L155.4 151.0L150.5 159.0L144.5 166.6L137.5 173.4L129.5 179.2L121.0 183.5L113.0 186.0Z" fill="#bde70f"/><path d="M102.0 182.0L94.5 181.6L87.5 179.4L80.5 175.2L74.0 169.5L68.0 162.5L60.5 151.0L48.1 135.5L43.0 127.0L39.1 118.0L36.2 107.0L34.8 95.0L35.0 58.5L34.0 31.0L35.1 14.5L36.6 7.0L38.8 0.0L174.3 0.0L178.2 12.0L180.8 26.0L182.2 42.5L182.7 64.0L182.0 78.0L180.2 92.0L177.3 105.0L173.3 117.0L168.5 127.5L162.2 137.5L157.0 144.2L150.7 151.0L144.5 159.7L138.0 166.5L130.0 172.7L121.0 177.6L111.5 180.7L102.0 182.0Z" fill="#c8e805"/><path d="M106.0 176.5L98.0 176.9L91.0 175.6L84.0 172.2L77.5 167.2L71.2 160.5L64.5 151.0L52.0 136.0L46.3 127.0L41.9 117.5L38.9 106.5L37.4 94.5L37.3 58.5L36.6 34.0L37.6 17.0L39.1 9.5L41.2 2.5L42.2 0.0L170.7 0.0L174.8 11.5L177.6 25.0L179.3 40.5L180.0 59.5L179.6 73.5L178.0 87.5L175.3 101.0L171.7 113.0L166.6 124.5L160.2 135.0L154.0 142.9L146.1 151.0L138.0 160.5L131.0 166.4L123.0 171.3L114.5 174.7L106.0 176.5Z" fill="#d2e700"/><path d="M103.5 172.0L96.5 172.0L90.0 170.4L83.5 166.9L77.5 162.0L54.3 134.5L48.3 125.0L44.0 115.5L41.1 105.0L39.6 93.0L38.9 36.0L40.0 19.0L41.5 11.5L43.7 4.5L45.5 0.0L167.1 0.0L171.5 11.0L174.6 23.5L176.5 38.0L177.4 56.0L177.2 71.0L175.8 85.0L173.1 99.0L169.3 111.5L163.9 123.5L156.9 134.5L149.8 143.0L135.0 157.8L128.0 163.3L120.0 167.7L112.0 170.6L103.5 172.0Z" fill="#dde600"/><path d="M104.0 167.5L97.0 167.7L91.0 166.3L85.0 163.3L79.0 158.6L64.1 142.5L56.8 133.5L50.7 124.0L46.1 114.0L43.3 103.5L41.8 91.5L41.2 39.0L42.1 22.0L43.5 14.5L45.6 7.5L48.8 0.0L163.6 0.0L168.2 10.5L171.5 22.0L173.7 35.5L174.9 52.0L175.0 67.5L173.8 81.5L171.3 95.5L167.5 108.5L163.4 118.5L158.0 128.0L151.5 136.7L143.5 145.0L131.0 156.1L123.5 161.2L114.0 165.4L104.0 167.5Z" fill="#e8e400"/><path d="M101.5 163.5L95.5 163.2L90.0 161.6L84.5 158.5L79.1 154.0L67.0 141.7L58.6 131.5L52.2 121.5L47.8 111.5L45.2 101.5L43.8 90.0L43.2 40.5L44.2 23.5L45.6 16.5L47.7 9.5L52.0 0.0L160.1 0.0L165.0 10.0L168.7 21.5L171.2 34.5L172.6 50.0L172.8 66.0L171.8 79.5L169.2 94.0L165.4 107.0L160.9 117.5L155.3 127.0L148.5 135.8L140.5 143.7L127.5 154.0L120.5 158.4L111.0 162.0L101.5 163.5Z" fill="#f2e300"/><path d="M101.0 159.5L94.5 159.0L88.5 156.7L83.0 153.1L74.0 145.1L65.9 136.5L58.9 127.5L53.7 119.0L49.8 110.0L47.8 103.0L46.4 95.5L45.4 76.5L45.5 33.0L46.8 22.0L49.3 12.5L52.0 6.0L55.2 0.0L156.5 0.0L161.8 9.5L165.8 20.5L168.6 33.0L170.2 47.5L170.7 63.5L169.9 77.0L167.5 91.0L163.9 104.0L159.5 114.5L154.0 124.1L147.5 132.6L139.5 140.7L130.5 147.8L119.0 154.9L110.0 158.2L101.0 159.5Z" fill="#fde100"/><path d="M102.5 155.5L96.5 155.5L90.5 153.7L83.5 149.5L76.5 143.7L68.4 135.5L61.2 126.5L55.9 118.0L52.1 109.5L49.9 102.5L48.4 95.0L47.2 76.5L47.4 35.5L48.5 25.0L50.9 15.5L54.1 7.5L58.5 0.0L152.8 0.0L158.5 9.0L162.7 19.0L165.8 30.5L167.8 44.0L168.6 59.5L168.2 73.0L166.1 87.0L162.7 100.0L158.6 110.5L153.5 120.0L147.4 128.5L139.8 136.5L130.5 144.0L121.0 149.8L111.5 153.8L102.5 155.5Z" fill="#ffdc00"/><path d="M104.5 151.5L98.0 151.8L92.5 150.7L86.5 147.8L79.5 142.7L71.5 135.0L64.3 126.5L58.7 118.0L54.5 109.3L52.2 102.5L50.5 95.0L49.0 77.5L49.2 38.5L50.1 28.5L52.1 19.5L56.0 9.5L61.8 0.0L149.1 0.0L154.8 8.0L159.5 17.6L162.9 28.5L165.3 41.0L166.5 55.5L166.4 69.5L164.8 82.5L161.9 95.0L158.0 105.9L153.2 115.5L147.5 124.0L140.5 131.9L132.0 139.1L122.5 145.3L113.5 149.3L104.5 151.5Z" fill="#ffd500"/><path d="M102.5 148.0L96.5 148.0L91.0 146.4L85.0 143.2L78.5 138.1L71.3 131.0L64.9 123.0L59.8 115.0L56.0 106.8L53.8 100.0L52.2 92.5L50.8 74.5L51.0 40.0L52.0 30.0L53.9 21.5L58.5 10.2L65.3 0.0L145.0 0.0L151.2 7.5L156.2 16.5L160.1 27.0L162.8 39.0L164.4 53.0L164.6 67.0L163.2 80.0L160.3 92.5L156.4 103.5L151.5 113.4L145.5 122.1L138.5 129.8L130.0 136.8L120.5 142.6L111.5 146.3L102.5 148.0Z" fill="#ffce00"/><path d="M105.5 144.0L98.0 144.4L92.0 143.1L85.0 139.5L77.5 133.5L69.6 125.0L63.2 116.0L58.6 107.0L55.4 97.5L53.4 86.5L52.5 73.0L52.5 48.5L53.5 34.0L55.5 24.3L58.7 15.5L63.0 7.5L68.9 0.0L140.7 0.0L146.9 6.5L152.0 14.0L156.0 22.5L159.2 32.5L161.1 41.5L162.3 51.0L162.7 61.5L162.4 70.5L161.2 79.5L159.2 88.5L156.5 97.0L153.0 105.3L149.0 112.5L144.5 119.0L139.0 125.3L133.0 130.8L126.5 135.5L119.4 139.5L112.5 142.3L105.5 144.0Z" fill="#ffc800"/><path d="M104.5 140.5L97.5 140.8L91.0 139.1L84.0 135.1L77.0 129.2L69.8 121.0L63.7 112.0L59.5 103.1L56.6 93.5L54.8 82.0L54.1 67.0L54.3 47.0L55.7 33.5L58.0 23.8L61.6 15.0L66.6 7.0L72.7 0.0L136.0 0.0L143.5 6.9L149.7 15.5L154.6 25.5L158.2 37.5L159.7 46.0L160.6 55.0L160.8 64.0L160.2 72.5L158.8 81.0L156.8 89.0L154.0 97.0L150.5 104.7L146.5 111.6L142.0 117.7L136.7 123.5L131.0 128.5L124.5 133.0L118.0 136.5L111.0 139.1L104.5 140.5Z" fill="#ffc100"/><path d="M103.0 137.0L97.5 137.1L92.5 136.0L87.5 133.7L82.0 129.8L76.3 124.5L70.8 118.0L66.1 111.0L62.5 104.0L58.2 91.0L56.1 75.0L55.9 51.0L57.8 33.5L60.6 23.5L64.8 14.5L70.4 6.5L76.9 0.0L130.6 0.0L138.0 5.6L144.5 12.7L149.8 21.0L154.0 31.0L157.0 42.5L158.6 55.0L158.7 67.0L157.1 79.0L154.2 90.0L149.8 100.5L144.5 109.7L137.9 118.0L130.0 125.3L121.0 131.2L112.0 135.1L103.0 137.0Z" fill="#ffbb00"/><path d="M105.0 133.1L97.5 133.4L91.0 131.7L84.5 127.9L77.5 121.7L70.8 113.5L65.5 104.5L61.6 95.0L59.2 85.0L57.7 72.0L57.5 56.5L58.5 42.5L60.5 31.5L63.8 22.0L68.5 13.5L74.5 6.0L81.7 0.0L124.2 0.0L129.0 2.6L134.0 6.2L138.5 10.3L142.5 14.8L146.1 20.0L151.8 32.0L155.5 46.0L156.9 61.0L155.8 75.0L152.0 89.3L146.0 102.2L138.0 113.5L133.2 118.5L128.0 122.8L122.5 126.5L116.5 129.7L110.5 131.9L105.0 133.1Z" fill="#ffb400"/><path d="M103.0 129.5L96.0 129.4L89.3 127.0L82.5 122.3L75.5 115.0L69.5 106.4L65.0 97.1L62.0 87.5L60.0 76.5L59.2 63.5L59.7 49.5L61.3 38.0L64.1 28.0L68.5 18.5L74.0 10.7L80.5 4.4L87.8 0.0L115.7 0.0L124.1 3.5L132.0 8.6L140.5 17.0L146.9 27.0L151.6 39.0L154.2 52.0L154.8 65.5L153.0 78.0L148.8 91.0L142.3 103.0L134.0 113.3L124.5 121.2L114.0 126.8L108.5 128.6L103.0 129.5Z" fill="#ffad00"/><path d="M103.5 125.5L96.0 125.5L89.0 122.8L81.5 117.1L74.6 109.0L69.0 99.5L65.0 89.5L62.4 78.5L61.1 66.0L61.3 53.0L63.0 40.8L66.0 30.1L70.2 21.0L76.0 12.7L83.0 6.3L90.5 2.3L98.5 0.7L109.0 1.6L119.0 4.7L128.5 10.0L136.4 17.0L143.0 25.8L148.0 36.0L151.2 47.0L152.7 59.0L152.2 70.5L149.7 81.5L145.2 92.5L139.0 102.6L131.5 111.1L122.5 118.3L113.0 123.2L103.5 125.5Z" fill="#ffa600"/><path d="M102.5 121.5L96.0 121.4L89.5 118.9L83.0 114.0L76.6 106.5L71.2 97.5L66.7 86.5L64.2 76.5L62.9 65.0L63.2 54.0L65.2 41.5L68.7 30.5L72.6 22.5L77.5 15.5L84.5 9.0L91.0 5.5L98.0 4.0L107.0 4.6L117.0 7.5L125.5 12.1L134.2 19.5L140.9 28.0L145.8 37.5L149.3 49.0L150.5 59.5L150.3 68.0L147.9 79.5L143.4 90.0L137.4 99.5L129.2 108.5L120.0 115.5L110.5 119.9L102.5 121.5Z" fill="#ff9d00"/><path d="M101.0 120.0L94.5 119.3L88.0 116.3L81.9 111.0L76.0 103.5L71.0 94.5L67.2 84.5L64.8 74.0L63.9 63.5L64.3 52.5L66.3 41.5L69.5 31.5L73.7 23.0L79.0 15.8L85.0 10.4L92.0 6.8L99.0 5.6L108.5 6.5L118.0 9.7L126.5 14.6L134.1 21.5L140.5 30.0L145.1 39.5L148.1 50.0L149.3 61.0L148.5 71.5L145.8 81.5L141.1 91.5L135.0 100.3L127.0 108.5L118.6 114.5L110.0 118.4L101.0 120.0Z" fill="#ff9500"/><path d="M101.0 118.5L94.5 117.9L88.5 115.1L82.5 110.0L76.5 102.4L71.6 93.5L68.0 84.0L65.7 74.0L64.8 63.5L65.3 52.5L67.1 42.0L70.1 32.5L74.5 23.7L79.5 17.0L85.7 11.5L92.0 8.3L99.0 7.0L108.5 8.0L117.5 11.0L126.0 16.0L133.2 22.5L139.2 30.5L143.9 40.0L146.9 50.5L148.0 61.0L147.3 71.0L144.6 81.0L140.2 90.5L134.0 99.5L126.5 107.3L118.5 113.0L110.0 116.9L101.0 118.5Z" fill="#ff8c00"/><path d="M101.0 117.0L94.5 116.3L88.5 113.5L82.5 108.3L77.1 101.5L72.4 93.0L68.8 83.5L66.6 73.5L65.7 63.5L66.1 53.0L68.0 42.5L71.0 33.1L75.0 25.0L80.0 18.2L86.0 12.9L92.5 9.6L99.0 8.5L108.0 9.4L117.0 12.3L125.0 17.0L132.5 23.8L138.5 31.9L142.9 41.0L145.7 51.0L146.7 61.0L145.9 71.0L143.4 80.5L139.0 90.0L133.2 98.5L126.0 106.0L118.0 111.7L109.5 115.5L101.0 117.0Z" fill="#ff8300"/><path d="M100.0 115.5L94.0 114.6L88.0 111.5L82.4 106.5L77.0 99.3L72.6 91.0L69.4 82.0L67.4 72.5L66.6 62.5L67.2 52.5L69.0 42.5L72.0 33.5L76.0 25.5L81.0 18.9L86.5 14.2L92.5 11.1L99.0 10.0L108.0 10.9L116.5 13.7L124.5 18.4L131.5 24.8L137.3 32.5L141.7 41.5L144.4 51.5L145.4 61.5L144.5 71.5L141.8 81.0L137.5 90.0L131.5 98.5L124.4 105.5L116.5 110.9L108.5 114.2L100.0 115.5Z" fill="#ff7b00"/><path d="M104.5 113.5L97.5 113.8L92.0 112.2L86.0 108.3L80.6 102.5L75.5 94.5L71.7 86.0L69.1 76.5L67.7 66.5L67.8 56.5L69.1 46.5L71.8 37.0L75.5 28.7L80.0 22.0L85.5 16.6L91.5 13.1L98.0 11.6L106.5 12.2L114.5 14.5L122.5 18.8L129.3 24.5L135.0 31.6L139.6 40.0L142.5 49.0L143.9 58.5L143.7 67.5L141.9 76.5L138.4 85.5L133.5 93.7L127.3 101.0L120.0 107.1L112.5 111.2L104.5 113.5Z" fill="#ff7200"/><path d="M103.5 112.0L97.0 112.1L91.5 110.3L86.0 106.5L80.6 100.5L76.0 93.1L72.3 84.5L69.8 75.0L68.7 65.5L68.9 55.5L70.3 46.0L72.9 37.0L76.5 29.3L81.0 22.8L86.5 17.6L92.5 14.3L98.5 13.1L106.5 13.8L114.5 16.2L122.0 20.3L128.6 26.0L134.2 33.0L138.4 41.0L141.3 50.0L142.5 59.0L142.2 68.0L140.3 77.0L136.9 85.5L132.0 93.4L126.0 100.3L118.9 106.0L111.5 109.9L103.5 112.0Z" fill="#ff6800"/><path d="M101.5 110.5L96.0 110.2L90.5 108.0L85.0 103.7L80.0 97.6L75.9 90.5L72.6 82.0L70.5 73.0L69.6 64.0L70.0 54.5L71.5 45.5L74.1 37.0L77.8 29.5L82.5 23.1L87.5 18.7L93.0 15.8L99.0 14.8L107.0 15.5L115.0 18.2L122.0 22.3L128.4 28.0L133.7 35.0L137.6 43.0L140.1 51.5L141.1 60.5L140.6 69.5L138.5 78.0L134.7 86.5L129.7 94.0L123.5 100.6L116.5 105.7L109.0 109.1L101.5 110.5Z" fill="#fe5c00"/><path d="M103.5 108.6L97.5 108.7L92.0 107.0L87.0 103.7L82.0 98.2L77.5 91.0L74.1 83.0L71.9 74.5L70.8 65.5L70.9 56.5L72.2 47.5L74.6 39.0L78.0 31.6L82.5 25.1L87.5 20.5L93.0 17.6L98.5 16.5L106.0 17.1L113.5 19.3L120.5 23.2L126.5 28.3L131.5 34.5L135.6 42.0L138.4 50.5L139.6 59.0L139.3 67.5L137.6 76.0L134.4 84.0L130.0 91.1L124.5 97.5L117.8 103.0L111.0 106.6L103.5 108.6Z" fill="#fe4f00"/><path d="M101.0 107.0L95.5 106.6L90.5 104.3L85.5 100.2L81.3 95.0L77.5 88.3L74.5 80.5L72.6 72.0L71.8 63.5L72.1 55.0L73.6 46.5L76.0 38.7L79.5 31.6L83.6 26.0L88.5 21.7L93.5 19.2L99.0 18.2L106.5 18.9L113.5 21.2L120.1 25.0L126.3 30.5L131.2 37.0L134.9 44.5L137.2 52.5L138.1 61.0L137.5 69.5L135.5 77.4L132.1 85.0L127.4 92.0L121.5 98.1L115.0 102.7L108.0 105.8L101.0 107.0Z" fill="#fd4300"/><path d="M102.5 105.0L97.0 105.0L92.5 103.5L87.5 100.1L83.0 95.1L79.0 88.5L76.0 81.3L74.0 73.5L73.0 65.0L73.1 56.5L74.3 48.5L76.5 40.9L79.7 34.0L83.5 28.4L88.1 24.0L93.0 21.2L98.5 20.0L105.5 20.6L112.5 22.7L119.0 26.3L124.5 31.1L129.2 37.0L133.0 44.1L135.5 52.0L136.5 60.0L136.1 68.0L134.4 75.5L131.3 83.0L127.0 89.9L121.5 95.9L115.5 100.4L109.0 103.5L102.5 105.0Z" fill="#fd3700"/><path d="M103.0 103.0L97.5 103.1L93.0 101.8L88.5 98.8L84.0 94.0L80.2 88.0L77.2 81.0L75.2 73.5L74.2 65.5L74.3 57.5L75.4 49.5L77.5 42.0L80.5 35.3L84.1 30.0L88.5 25.8L93.5 23.0L98.5 21.9L105.5 22.5L112.0 24.5L118.0 27.9L123.4 32.5L128.0 38.3L131.5 45.0L133.7 52.0L134.8 59.5L134.6 67.0L133.0 74.5L130.2 81.5L126.3 88.0L121.5 93.5L115.5 98.3L109.5 101.3L103.0 103.0Z" fill="#fc2b00"/><path d="M102.5 101.0L97.5 101.1L93.0 99.7L88.5 96.6L84.5 92.2L81.0 86.5L78.1 79.5L76.3 72.5L75.4 65.0L75.5 57.5L76.6 50.0L78.5 43.0L81.5 36.5L85.0 31.4L89.1 27.5L93.5 25.0L98.5 23.9L105.0 24.4L111.0 26.2L117.0 29.5L122.0 33.7L126.5 39.3L129.8 45.5L132.0 52.5L133.0 59.5L132.9 66.5L131.5 73.5L128.8 80.5L125.0 86.7L120.4 92.0L114.8 96.5L108.8 99.5L102.5 101.0Z" fill="#fb1f00"/><path d="M101.5 99.0L97.0 98.9L92.5 97.2L88.5 94.2L84.9 90.0L81.5 84.3L79.1 78.0L77.4 71.0L76.7 64.0L76.9 56.5L78.0 49.7L80.0 43.1L82.7 37.5L86.0 32.8L90.0 29.1L94.5 26.7L99.0 25.9L105.0 26.5L111.0 28.4L116.5 31.6L121.5 36.0L125.5 41.3L128.5 47.3L130.5 54.0L131.3 60.5L130.9 67.5L129.4 74.0L126.7 80.5L123.0 86.3L118.5 91.2L113.0 95.2L107.5 97.8L101.5 99.0Z" fill="#fb1200"/><path d="M103.0 96.6L98.5 96.8L94.5 95.9L90.5 93.5L86.6 89.5L83.3 84.5L80.7 78.5L79.0 72.1L78.1 65.5L78.1 58.5L79.0 52.0L80.7 45.5L83.1 40.0L86.4 35.0L90.0 31.5L94.0 29.2L98.5 28.1L104.0 28.5L109.5 30.1L114.9 33.0L119.5 36.9L123.3 41.5L126.3 47.0L128.3 53.0L129.3 59.5L129.1 66.0L128.0 72.0L125.8 78.0L122.5 83.6L118.4 88.5L113.5 92.4L108.5 95.1L103.0 96.6Z" fill="#fa0600"/><path d="M103.5 94.1L98.5 94.4L95.0 93.6L91.5 91.7L88.0 88.3L85.0 84.0L82.4 78.5L80.6 72.5L79.6 66.0L79.5 59.5L80.2 53.5L81.7 47.5L84.0 41.9L87.0 37.2L90.5 33.7L94.5 31.4L98.5 30.4L104.0 30.8L109.0 32.3L113.9 35.0L118.0 38.4L121.7 43.0L124.4 48.0L126.3 53.5L127.2 59.0L127.2 65.0L126.1 71.0L124.2 76.5L121.4 81.5L117.8 86.0L113.5 89.7L108.5 92.6L103.5 94.1Z" fill="#f40000"/><path d="M103.5 91.5L99.0 91.9L95.5 91.2L92.0 89.3L89.0 86.4L86.0 82.2L83.8 77.5L82.1 72.0L81.2 66.0L81.1 60.0L81.7 54.0L83.1 48.5L85.2 43.5L88.0 39.1L91.0 36.1L94.5 33.9L98.5 32.9L103.5 33.3L108.0 34.6L112.5 36.9L116.2 40.0L119.6 44.0L122.2 48.5L124.0 53.5L125.0 59.0L125.0 64.5L124.1 70.0L122.4 75.0L119.7 80.0L116.5 84.0L112.5 87.5L108.0 90.1L103.5 91.5Z" fill="#e80000"/><path d="M101.5 89.1L98.0 89.1L95.0 88.2L92.0 86.2L89.0 83.1L86.5 79.0L84.7 74.5L83.4 69.5L82.8 64.0L83.6 53.5L85.0 48.6L87.0 44.3L89.5 40.7L92.5 37.9L95.5 36.3L99.0 35.6L103.5 36.0L107.5 37.2L111.5 39.4L115.2 42.5L118.0 46.0L120.5 50.7L122.0 55.5L122.7 60.5L122.5 65.5L121.5 70.5L119.5 75.5L117.0 79.6L114.0 83.0L110.0 86.1L106.0 88.0L101.5 89.1Z" fill="#db0000"/><path d="M101.5 86.0L98.5 86.1L95.5 85.3L93.0 83.7L90.4 81.0L88.1 77.5L86.4 73.5L84.6 64.0L85.3 54.5L86.6 50.0L88.5 46.1L90.7 43.0L93.4 40.5L96.0 39.1L99.0 38.5L103.0 38.9L106.7 40.0L110.3 42.0L113.5 44.8L116.1 48.0L118.2 52.0L119.5 56.0L120.1 60.5L120.0 65.0L119.1 69.5L117.5 73.6L115.1 77.5L112.5 80.5L109.0 83.3L105.5 85.0L101.5 86.0Z" fill="#cf0000"/><path d="M101.5 82.6L96.5 82.2L94.0 80.7L91.8 78.5L88.3 72.0L86.7 64.0L87.4 55.5L89.9 48.5L94.0 43.7L96.5 42.4L99.0 41.8L105.5 43.1L108.5 44.7L111.3 47.0L115.3 53.0L117.1 60.5L116.4 68.0L113.1 75.0L108.0 80.0L105.0 81.6L101.5 82.6Z" fill="#c30000"/><path d="M101.0 78.6L98.5 78.6L96.5 78.0L93.0 75.0L90.4 70.0L89.2 63.5L89.6 57.0L91.6 51.5L95.0 47.3L99.0 45.8L104.5 46.8L109.0 50.0L112.3 55.0L113.7 61.0L113.0 67.0L110.5 72.5L106.4 76.5L101.0 78.6Z" fill="#b70000"/><path d="M102.0 73.0L98.5 73.4L96.0 72.0L93.8 69.0L92.6 65.0L92.5 60.0L93.5 55.8L95.7 52.5L98.5 50.9L102.0 51.2L105.2 53.0L107.7 56.0L109.1 60.0L109.1 64.0L107.7 68.0L105.4 71.0L102.0 73.0Z" fill="#aa0000"/><mask id="m2" maskUnits="userSpaceOnUse" x="-10" y="-10" width="240" height="210"><rect x="-10" y="-10" width="240" height="210" fill="#fff"/><rect x="-4.8" y="-3.8" width="9.6" height="7.6" fill="#000" transform="translate(139,96.9228) rotate(-55.1055)"/></mask><path d="M104.0 121.2L97.0 121.3L93.0 120.3L90.5 119.2L86.0 116.3L83.0 113.7L77.2 107.0L72.1 99.0L67.7 89.0L64.7 78.5L63.7 73.0L63.1 67.0L63.2 55.0L64.7 44.0L67.6 33.5L69.7 28.5L72.2 23.5L74.7 19.5L77.7 15.5L81.5 11.6L84.5 9.2L87.0 7.6L91.0 5.7L94.5 4.7L98.5 4.2L102.5 4.3L109.0 5.2L113.0 6.3L118.0 8.1L123.0 10.7L127.5 13.7L130.5 16.1L134.4 20.0L138.3 24.5L140.7 28.0L145.3 36.5L147.3 42.0L148.7 47.0L149.8 52.5L150.4 58.0L150.2 67.5L149.3 73.5L148.3 77.5L146.3 83.5L144.3 88.0L141.3 93.5L138.3 98.0L134.3 103.0L129.5 107.9L125.0 111.8L121.5 114.3L118.0 116.4L113.0 118.8L108.5 120.3L104.0 121.2Z" fill="none" stroke="#3838a4" stroke-width="1.0" mask="url(#m2)"/><text x="0" y="3.4" font-size="9.5" text-anchor="middle" font-family="Liberation Sans" style="fill:#3838a4;stroke:#3838a4;stroke-width:0.3" transform="translate(139,96.9228) rotate(-55.1055)">25</text></g><rect x="37" y="20.5" width="217" height="186" fill="none" stroke="#333" stroke-width="1"/><rect x="258.6" y="20.5" width="9" height="186" fill="url(#cb)" stroke="#333" stroke-width="1"/><line x1="265.1" x2="267.6" y1="57.7" y2="57.7" stroke="#222" stroke-width="1"/><line x1="265.1" x2="267.6" y1="94.9" y2="94.9" stroke="#222" stroke-width="1"/><line x1="265.1" x2="267.6" y1="132.1" y2="132.1" stroke="#222" stroke-width="1"/><line x1="265.1" x2="267.6" y1="169.3" y2="169.3" stroke="#222" stroke-width="1"/><text x="270.5" y="25.0" font-size="10.8" text-anchor="start" font-family="Liberation Sans">32.0</text><text x="270.5" y="62.2" font-size="10.8" text-anchor="start" font-family="Liberation Sans">26.6</text><text x="270.5" y="99.4" font-size="10.8" text-anchor="start" font-family="Liberation Sans">21.2</text><text x="270.5" y="136.6" font-size="10.8" text-anchor="start" font-family="Liberation Sans">15.8</text><text x="270.5" y="173.8" font-size="10.8" text-anchor="start" font-family="Liberation Sans">10.4</text><text x="270.5" y="211.0" font-size="10.8" text-anchor="start" font-family="Liberation Sans">5.0</text><text x="302.0" y="15.2" font-size="11" text-anchor="end" font-family="Liberation Sans">temperature(°C)</text><text x="32.1" y="211.0" font-size="10.8" text-anchor="end" font-family="Liberation Sans">0</text><text x="32.1" y="180.0" font-size="10.8" text-anchor="end" font-family="Liberation Sans">20</text><text x="32.1" y="149.0" font-size="10.8" text-anchor="end" font-family="Liberation Sans">40</text><text x="32.1" y="118.0" font-size="10.8" text-anchor="end" font-family="Liberation Sans">60</text><text x="32.1" y="87.0" font-size="10.8" text-anchor="end" font-family="Liberation Sans">80</text><text x="32.1" y="56.0" font-size="10.8" text-anchor="end" font-family="Liberation Sans">100</text><text x="32.1" y="25.0" font-size="10.8" text-anchor="end" font-family="Liberation Sans">120</text><text x="37.0" y="220.2" font-size="11" text-anchor="middle" font-family="Liberation Sans">−70</text><text x="91.2" y="220.2" font-size="11" text-anchor="middle" font-family="Liberation Sans">−35</text><text x="145.5" y="220.2" font-size="11" text-anchor="middle" font-family="Liberation Sans">0</text><text x="199.8" y="220.2" font-size="11" text-anchor="middle" font-family="Liberation Sans">35</text><text x="254.0" y="220.2" font-size="11" text-anchor="middle" font-family="Liberation Sans">70</text><text x="145.0" y="232.4" font-size="11.3" text-anchor="middle" font-family="Liberation Sans">diameter(mm)</text><text transform="translate(11.8,114) rotate(-90)" font-size="11.5" text-anchor="middle" font-family="Liberation Sans">height(mm)</text><text x="145.0" y="253.7" font-size="18.3" text-anchor="middle" font-family="Liberation Serif">day 4</text></g>
<g transform="translate(0,257)"><g transform="translate(37,20.5)" clip-path="url(#pc)"><rect x="0" y="0" width="217" height="186" fill="#00cf90"/><path d="M212.5 186.0L0.0 186.0L0.0 0.0L217.0 0.0L217.0 182.4L212.5 186.0Z" fill="#00d18a"/><path d="M207.0 186.0L0.0 186.0L0.0 0.0L217.0 0.0L217.0 177.4L207.0 186.0Z" fill="#00d384"/><path d="M201.0 186.0L3.2 186.0L0.0 183.2L0.0 0.0L217.0 0.0L217.0 171.8L209.0 178.3L201.0 186.0Z" fill="#00d57e"/><path d="M194.0 186.0L11.4 186.0L0.0 175.7L0.0 0.0L217.0 0.0L217.0 165.2L206.0 173.9L194.0 186.0Z" fill="#00d778"/><path d="M187.0 186.0L20.6 186.0L10.5 175.2L0.0 166.4L0.0 0.0L217.0 0.0L217.0 157.1L209.0 162.7L202.0 168.7L195.0 176.1L187.0 186.0Z" fill="#1fda6f"/><path d="M179.0 186.0L30.3 186.0L22.0 174.9L14.5 166.2L7.5 159.5L0.0 154.0L0.0 0.0L212.4 0.0L217.0 6.4L217.0 146.1L207.5 152.1L199.0 159.9L191.0 169.4L179.0 186.0Z" fill="#3fdc67"/><path d="M171.0 186.0L39.9 186.0L15.6 147.0L0.0 134.0L0.0 23.0L11.1 0.0L203.3 0.0L217.0 26.4L217.0 128.8L207.0 135.9L194.9 146.5L171.0 186.0Z" fill="#5edf5e"/><path d="M162.5 186.0L49.0 186.0L36.8 165.0L32.5 156.0L28.7 146.5L20.7 136.5L14.4 126.0L10.2 116.0L7.4 104.5L6.2 93.0L5.9 78.0L6.4 63.5L7.8 47.0L9.8 33.5L12.3 21.5L15.4 10.5L19.4 0.0L195.7 0.0L200.7 12.0L204.6 24.0L208.1 37.5L210.6 51.0L212.2 63.5L212.5 72.5L212.0 82.5L210.4 93.5L207.1 107.0L201.9 119.5L193.6 133.0L183.0 146.5L179.1 156.5L174.6 166.0L168.4 177.0L162.5 186.0Z" fill="#73e055"/><path d="M154.0 186.0L57.5 186.0L56.0 183.9L49.6 174.0L44.3 164.5L40.3 156.0L36.6 146.5L29.6 137.5L24.2 128.5L19.9 118.0L17.1 106.5L15.9 95.5L15.5 82.0L15.9 57.5L16.8 40.0L18.1 28.5L19.9 18.5L22.5 9.0L25.8 0.0L189.4 0.0L193.4 10.0L196.6 21.0L198.9 32.0L200.6 45.0L201.7 60.0L201.8 72.0L200.9 84.5L199.1 96.5L195.3 111.5L189.7 125.0L183.2 136.0L175.2 146.5L171.3 157.0L166.7 166.5L160.8 176.5L154.0 186.0Z" fill="#7ee14b"/><path d="M145.0 186.0L65.6 186.0L59.5 178.1L53.8 169.5L47.7 158.5L42.6 146.5L34.7 136.5L29.0 126.5L24.8 115.5L22.3 103.5L21.4 93.0L21.1 80.5L21.5 52.5L22.3 37.0L23.6 26.5L25.3 17.5L27.8 8.5L31.0 0.0L183.9 0.0L187.8 9.5L190.9 20.0L193.2 31.5L194.7 44.5L195.5 61.0L195.4 73.5L194.3 86.5L192.1 99.5L187.8 115.0L181.7 128.5L176.1 137.5L169.1 146.5L164.5 158.0L158.4 169.0L151.6 178.5L145.0 186.0Z" fill="#88e241"/><path d="M135.0 186.0L73.8 186.0L66.7 178.5L59.8 169.5L53.2 158.5L47.5 146.5L40.2 137.5L34.5 128.5L30.0 118.0L27.1 106.5L25.6 93.5L25.4 76.0L25.8 47.0L27.3 29.5L30.4 14.0L35.6 0.0L179.1 0.0L183.2 9.5L186.4 20.0L188.6 31.5L190.1 45.0L190.8 62.0L190.6 75.0L189.2 89.0L186.7 102.5L183.2 114.5L178.2 126.0L171.9 136.5L164.0 146.5L160.3 155.0L156.0 162.7L151.4 169.5L146.0 176.0L140.0 182.1L135.0 186.0Z" fill="#93e337"/><path d="M123.0 186.0L83.3 186.0L80.0 183.8L71.5 176.4L63.7 167.0L57.5 157.5L51.9 146.5L42.2 134.5L35.7 123.0L31.6 111.0L29.3 97.0L28.7 82.0L29.1 50.0L30.1 34.5L32.0 22.0L35.2 10.5L39.7 0.0L174.7 0.0L177.6 6.0L181.3 16.0L184.1 27.5L185.9 40.0L186.9 55.5L187.0 70.0L186.0 83.5L184.0 97.0L181.0 109.0L177.2 119.5L172.4 129.0L166.5 138.0L159.4 146.5L154.6 156.0L149.0 164.4L143.0 171.5L136.5 177.6L129.5 182.7L123.0 186.0Z" fill="#9de42d"/><path d="M104.5 185.0L96.5 184.9L89.0 182.8L81.5 178.7L74.0 172.5L65.8 163.0L60.8 155.5L55.9 146.5L44.9 133.0L40.6 126.0L37.2 118.5L34.0 108.0L32.3 96.5L31.7 84.0L31.8 60.5L32.2 44.5L33.3 32.5L35.3 21.5L38.2 11.5L43.4 0.0L170.6 0.0L175.8 10.5L179.6 22.5L182.1 35.5L183.5 51.0L183.7 68.5L182.6 84.0L180.1 99.5L176.2 113.0L171.9 123.0L166.5 132.4L161.3 139.5L155.1 146.5L147.0 159.6L140.0 167.7L132.0 174.6L123.0 180.0L114.0 183.3L104.5 185.0Z" fill="#a8e523"/><path d="M106.5 179.5L98.5 179.8L91.0 178.2L83.5 174.5L76.5 169.1L69.0 160.9L64.4 154.5L59.6 146.5L48.6 133.5L43.8 126.0L40.2 118.5L37.5 110.5L35.6 101.5L34.6 91.5L34.3 78.5L34.5 53.5L35.2 39.0L37.1 26.0L40.0 15.0L43.2 7.0L46.9 0.0L166.7 0.0L172.1 10.0L176.1 21.0L178.8 33.5L180.4 48.0L180.9 65.5L180.0 81.0L177.7 96.5L174.1 110.0L169.6 121.0L163.9 131.0L158.0 138.9L150.9 146.5L145.4 155.0L139.1 162.5L131.5 169.1L123.5 174.2L115.0 177.7L106.5 179.5Z" fill="#b3e619"/><path d="M103.0 175.0L96.0 174.7L89.5 172.8L83.0 169.2L76.5 163.9L69.6 156.0L63.2 146.5L56.3 139.0L50.8 132.0L45.7 124.0L41.8 115.5L39.0 106.0L37.3 95.0L36.7 83.0L36.7 62.0L37.1 47.0L38.0 35.5L39.8 25.5L42.4 16.0L45.9 7.5L50.1 0.0L163.0 0.0L168.6 9.5L173.0 20.5L175.9 32.5L177.7 47.0L178.3 65.0L177.4 80.5L175.0 96.0L171.3 109.5L166.8 120.5L160.5 131.0L155.5 137.5L146.9 146.5L141.5 154.0L136.0 159.9L128.5 166.0L120.5 170.6L112.0 173.6L103.0 175.0Z" fill="#bde70f"/><path d="M104.5 170.5L97.5 170.5L91.0 168.9L84.5 165.6L78.5 160.9L73.5 155.7L66.7 146.5L53.9 132.0L48.6 124.0L44.5 115.5L41.8 107.5L40.1 99.0L39.1 89.5L38.8 77.0L38.9 55.5L39.6 41.5L41.3 29.5L44.0 19.0L48.0 9.0L53.3 0.0L159.4 0.0L165.3 9.0L169.9 19.5L173.1 31.5L175.0 45.0L175.9 62.5L175.2 77.5L173.2 92.5L169.6 106.5L164.8 118.5L158.3 129.5L152.0 137.5L142.9 146.5L135.2 155.5L128.0 161.5L120.5 166.0L112.5 169.0L104.5 170.5Z" fill="#c8e805"/><path d="M103.0 166.5L97.0 166.3L91.0 164.7L85.0 161.6L79.0 156.8L56.2 131.0L50.5 122.5L46.4 114.0L43.9 106.5L42.2 98.0L41.2 88.5L40.8 76.5L40.9 56.0L41.6 43.0L43.1 31.5L45.7 21.0L50.1 10.0L56.4 0.0L155.9 0.0L162.2 9.0L167.0 19.0L170.4 30.5L172.6 43.5L173.6 60.0L173.1 75.5L171.2 90.5L167.7 104.5L162.8 117.0L155.9 128.5L148.5 137.4L133.5 152.3L126.5 158.1L119.0 162.4L111.0 165.3L103.0 166.5Z" fill="#d2e700"/><path d="M104.0 162.5L98.0 162.6L92.0 161.1L86.5 158.4L81.0 154.4L65.5 138.3L59.0 130.8L52.9 122.0L48.5 113.2L45.9 105.5L44.2 97.5L43.2 88.5L42.7 77.5L42.7 58.0L43.3 45.0L44.8 33.5L47.1 23.5L52.2 11.0L59.4 0.0L152.4 0.0L159.0 8.5L164.0 18.0L167.7 29.0L170.1 41.5L171.4 57.0L171.2 72.5L169.5 87.5L166.2 101.5L162.4 112.0L157.5 121.5L151.6 130.0L144.4 138.0L129.5 151.4L123.0 156.1L113.5 160.6L104.0 162.5Z" fill="#dde600"/><path d="M106.5 158.5L99.5 159.0L93.5 157.9L87.0 154.9L81.0 150.3L67.0 136.5L58.5 126.3L52.0 115.6L47.8 104.5L45.6 93.5L44.6 79.5L44.6 55.0L45.9 38.5L48.2 27.0L51.7 17.0L56.4 8.0L62.3 0.0L148.9 0.0L154.2 6.0L158.9 13.0L162.5 20.5L165.4 29.0L167.5 38.5L168.9 49.0L169.4 61.0L169.2 72.0L168.0 83.0L166.1 93.5L163.4 103.0L160.0 111.8L156.0 119.5L151.0 126.8L145.3 133.5L138.5 140.0L126.5 149.6L121.0 153.3L114.0 156.6L106.5 158.5Z" fill="#e8e400"/><path d="M106.0 155.0L98.0 155.3L91.0 153.3L84.7 149.5L74.5 140.7L65.1 131.0L57.9 121.5L52.7 112.0L49.3 102.0L47.2 90.5L46.3 76.0L46.4 54.0L47.8 38.0L50.2 27.0L54.0 16.8L59.0 7.8L65.3 0.0L145.3 0.0L151.5 6.4L156.5 13.5L160.7 22.0L163.9 31.5L165.8 40.5L167.0 51.0L167.5 62.5L167.1 73.0L165.9 83.5L163.9 93.5L161.3 102.5L157.9 111.0L153.8 118.5L149.0 125.5L143.3 132.0L136.5 138.3L129.5 143.7L119.5 150.4L113.0 153.3L106.0 155.0Z" fill="#f2e300"/><path d="M106.0 151.6L98.5 151.9L91.5 150.0L83.5 145.1L75.0 137.9L66.0 128.5L59.2 119.5L54.2 110.0L50.8 100.0L48.8 88.0L47.9 72.0L48.2 52.0L49.8 37.0L52.5 26.0L56.6 16.0L61.7 7.5L68.3 0.0L141.6 0.0L148.6 6.5L154.5 14.5L159.0 23.5L162.4 34.0L164.2 43.0L165.3 53.0L165.6 63.5L165.2 73.5L163.9 83.5L161.9 93.0L159.2 102.0L155.9 110.0L152.0 117.0L147.1 124.0L141.5 130.3L135.0 136.2L127.0 142.2L118.0 147.5L112.0 150.1L106.0 151.6Z" fill="#fde100"/><path d="M103.5 148.5L98.0 148.5L92.5 147.0L86.5 143.9L79.5 138.7L72.0 131.7L65.2 124.0L60.0 116.6L56.0 109.0L53.6 102.5L51.8 95.5L49.8 78.5L49.8 52.5L50.7 42.5L52.3 33.5L55.3 23.5L59.6 14.5L65.0 6.6L71.4 0.0L137.8 0.0L145.5 6.5L151.9 14.5L157.0 24.0L160.5 34.5L162.9 47.5L163.8 62.0L163.1 75.5L160.8 89.0L157.5 100.4L153.1 110.5L147.5 119.5L141.0 127.3L132.0 135.4L122.0 142.1L112.0 146.7L103.5 148.5Z" fill="#ffdc00"/><path d="M105.0 145.1L97.5 145.1L90.5 142.9L82.5 137.9L74.1 130.5L66.5 122.0L60.4 113.0L56.2 104.0L53.4 94.0L51.6 80.5L51.1 62.0L51.8 47.5L53.8 35.0L56.9 24.5L61.5 15.0L67.5 6.7L74.7 0.0L133.8 0.0L143.0 7.2L150.3 16.0L156.0 27.0L159.7 39.5L161.1 48.0L161.9 57.5L161.9 66.5L161.2 75.5L159.8 84.5L157.8 93.0L155.0 101.1L151.6 108.5L147.5 115.5L143.0 121.4L137.5 127.3L131.5 132.5L125.0 137.1L118.0 141.0L111.5 143.6L105.0 145.1Z" fill="#ffd500"/><path d="M103.0 142.0L97.5 141.9L92.5 140.5L87.0 137.8L81.0 133.5L74.5 127.6L68.6 121.0L63.9 114.5L60.0 107.5L55.6 95.0L53.3 80.0L52.8 57.5L54.6 39.5L57.9 27.0L63.0 16.2L69.9 7.0L78.2 0.0L129.4 0.0L137.8 5.5L145.0 12.5L150.9 21.0L155.2 30.5L158.3 42.0L159.9 55.0L160.0 68.5L158.5 81.5L155.7 93.0L151.5 103.8L146.3 113.0L139.7 121.5L131.0 129.5L121.5 135.9L112.0 140.2L103.0 142.0Z" fill="#ffce00"/><path d="M105.5 138.5L98.0 138.7L91.0 136.7L83.0 131.8L75.0 124.7L68.0 116.5L62.4 107.5L58.5 98.0L56.0 87.5L54.5 73.5L54.4 57.0L55.6 43.5L58.1 32.0L62.0 22.0L67.5 12.9L74.3 5.5L82.0 0.0L124.5 0.0L131.0 3.4L136.0 6.8L140.5 10.8L144.5 15.3L148.0 20.3L153.5 31.7L157.0 45.3L158.4 61.5L157.4 77.0L153.7 92.5L147.9 106.0L144.2 112.0L139.9 117.5L135.0 122.7L129.5 127.4L123.5 131.5L117.5 134.8L111.5 137.1L105.5 138.5Z" fill="#ffc800"/><path d="M104.0 135.5L96.5 135.3L89.5 132.8L81.5 127.4L73.5 119.6L67.0 111.0L62.4 102.5L59.1 93.0L56.9 82.0L55.9 67.5L56.2 52.5L57.8 40.5L60.8 29.5L65.4 19.5L71.5 11.0L78.5 4.6L86.6 0.0L118.5 0.0L126.0 3.0L133.0 7.3L141.5 15.0L148.3 25.0L153.0 36.5L155.9 50.0L156.6 65.0L155.1 79.5L151.0 94.0L145.0 106.4L137.0 117.0L132.0 121.9L126.5 126.2L121.0 129.7L115.0 132.7L109.5 134.5L104.0 135.5Z" fill="#ffc100"/><path d="M106.0 132.0L98.0 132.3L90.5 130.0L82.1 124.5L74.0 116.5L67.5 107.5L63.0 98.4L59.8 88.0L58.0 76.0L57.4 61.5L58.3 47.5L60.6 36.0L64.4 25.5L69.9 16.0L76.8 8.5L84.5 3.2L93.4 0.0L109.8 0.0L116.0 1.4L126.5 5.7L135.5 12.0L142.8 20.0L148.3 29.5L152.3 41.0L154.4 53.5L154.8 67.0L153.1 80.0L149.1 93.0L143.4 104.5L135.8 114.5L126.5 122.8L116.0 129.0L106.0 132.0Z" fill="#ffbb00"/><path d="M104.0 129.0L96.0 128.7L88.0 125.4L79.8 119.0L72.0 110.0L66.5 100.8L62.7 91.0L60.1 79.5L59.0 67.0L59.3 53.5L61.1 41.0L64.4 30.0L69.0 20.8L75.0 12.9L82.5 6.7L90.5 2.9L99.5 1.3L110.5 2.2L120.5 5.2L129.5 10.1L137.5 17.0L143.9 25.5L148.6 35.5L151.7 47.0L153.1 59.5L152.6 71.5L150.2 83.5L145.9 95.0L139.8 105.5L132.0 114.6L123.0 121.8L113.5 126.7L104.0 129.0Z" fill="#ffb400"/><path d="M105.5 125.5L97.5 125.7L90.0 123.1L82.5 117.8L75.0 109.8L69.2 101.0L65.0 91.3L62.1 80.0L60.7 68.0L60.9 55.0L62.5 43.0L65.5 32.4L70.0 22.9L75.8 15.0L82.7 9.0L90.5 5.1L99.0 3.4L109.0 4.1L119.0 6.9L128.0 11.7L135.5 18.1L141.7 26.0L146.5 35.7L149.7 46.5L151.2 58.5L150.9 70.0L148.8 81.0L144.8 92.0L139.1 102.0L132.0 110.7L123.5 117.9L114.5 122.9L105.5 125.5Z" fill="#ffad00"/><path d="M101.0 122.5L94.0 121.4L87.0 117.7L80.0 111.6L73.5 103.2L68.5 94.0L65.1 84.5L63.0 74.0L62.2 63.0L62.9 51.0L65.0 40.1L68.3 30.5L72.9 22.0L78.5 15.1L85.0 10.0L92.5 6.7L100.5 5.5L110.5 6.6L120.0 9.7L128.5 14.8L135.6 21.5L141.5 30.0L145.7 39.5L148.4 50.5L149.4 62.5L148.6 73.0L145.8 83.5L141.1 94.0L135.0 103.0L127.4 111.0L118.5 117.4L109.5 121.2L101.0 122.5Z" fill="#ffa600"/><path d="M105.5 118.6L98.5 118.9L92.0 117.0L85.0 112.4L78.1 105.0L73.1 97.5L68.6 88.0L65.6 78.0L64.1 67.5L64.2 56.0L65.7 45.0L68.7 34.5L72.7 26.0L77.7 19.0L84.0 13.2L92.0 9.1L99.5 7.8L109.5 8.6L117.5 11.1L125.0 15.2L132.9 22.0L138.3 29.0L142.9 38.0L145.8 47.5L147.4 58.5L147.3 68.0L145.4 78.0L141.9 87.0L136.4 96.5L130.0 104.3L122.5 110.9L114.0 116.0L105.5 118.6Z" fill="#ff9d00"/><path d="M105.0 117.0L98.0 117.2L91.5 115.1L85.0 110.6L79.0 104.2L73.5 95.8L69.2 86.5L66.4 76.5L65.1 66.5L65.3 55.5L66.9 44.5L69.8 35.0L73.8 26.5L79.0 19.5L85.0 14.2L92.0 10.7L99.0 9.3L108.0 9.9L116.5 12.4L124.5 16.6L131.5 22.6L137.3 30.0L141.6 38.5L144.7 48.5L146.1 59.0L145.9 68.5L144.0 78.0L140.5 87.0L135.1 96.0L128.5 103.9L121.0 110.2L113.0 114.7L105.0 117.0Z" fill="#ff9500"/><path d="M105.0 115.5L98.0 115.7L92.0 113.8L86.0 109.8L79.9 103.5L74.5 95.5L70.1 86.0L67.4 76.5L66.0 66.5L66.2 56.0L67.8 45.5L70.5 36.0L74.5 27.7L79.5 20.8L85.5 15.5L92.0 12.2L99.0 10.8L107.5 11.3L116.0 13.7L123.9 18.0L130.5 23.6L136.0 30.6L140.5 39.3L143.5 49.0L144.8 59.0L144.6 68.5L142.8 77.5L139.3 86.5L134.3 95.0L128.0 102.6L120.5 108.9L113.0 113.2L105.0 115.5Z" fill="#ff8c00"/><path d="M104.5 114.0L98.0 114.1L92.0 112.2L86.0 108.2L80.0 101.8L74.9 94.0L70.9 85.0L68.2 75.5L67.0 66.0L67.3 55.5L68.8 45.5L71.5 36.5L75.5 28.3L80.5 21.7L86.0 16.9L92.5 13.6L99.5 12.3L108.0 13.0L116.0 15.4L123.5 19.5L130.0 25.2L135.5 32.4L139.5 40.5L142.2 49.5L143.6 59.5L143.3 68.5L141.5 77.5L138.0 86.3L133.1 94.5L126.7 102.0L119.5 108.0L112.0 112.0L104.5 114.0Z" fill="#ff8300"/><path d="M103.5 112.6L97.5 112.4L91.5 110.3L85.5 106.0L80.0 99.9L75.1 92.0L71.5 83.7L69.1 74.5L68.0 65.5L68.3 55.5L69.9 45.5L72.6 37.0L76.5 29.1L81.5 22.5L86.9 18.0L93.0 15.0L99.5 13.8L108.0 14.5L116.0 17.1L123.0 21.0L129.5 26.8L134.8 34.0L138.6 42.0L141.2 51.0L142.3 60.5L141.9 69.5L139.9 78.0L136.4 86.5L131.5 94.5L125.3 101.5L118.4 107.0L111.0 110.8L103.5 112.6Z" fill="#ff7b00"/><path d="M102.5 111.0L96.5 110.6L91.0 108.3L85.3 104.0L80.0 97.9L75.5 90.3L72.1 82.0L70.0 73.5L69.1 64.5L69.5 55.0L71.1 45.5L73.8 37.0L77.5 29.9L82.0 24.0L87.5 19.4L93.5 16.5L100.0 15.4L108.0 16.2L115.5 18.6L122.5 22.6L128.5 28.0L133.7 35.0L137.5 43.0L140.0 52.0L140.9 61.0L140.5 69.5L138.5 78.1L134.9 86.5L130.0 94.2L124.0 100.8L117.0 106.1L110.0 109.4L102.5 111.0Z" fill="#ff7200"/><path d="M105.0 109.0L99.0 109.3L93.5 107.9L88.0 104.5L82.5 99.1L77.7 92.0L74.0 84.0L71.5 75.5L70.3 66.5L70.4 57.0L71.7 48.0L74.0 39.9L77.5 32.4L82.0 26.1L87.0 21.6L93.0 18.4L99.0 17.1L106.5 17.6L114.0 19.7L121.0 23.5L126.8 28.5L131.6 34.5L135.5 42.0L138.1 50.0L139.4 59.0L139.3 67.5L137.8 75.5L134.8 83.5L130.5 91.0L125.0 97.8L118.5 103.3L112.0 106.9L105.0 109.0Z" fill="#ff6800"/><path d="M103.0 107.5L97.5 107.4L92.0 105.4L87.0 101.8L82.0 96.3L77.7 89.5L74.5 82.0L72.3 73.5L71.3 65.0L71.6 56.0L73.0 47.5L75.5 39.5L79.0 32.5L83.5 26.6L88.5 22.5L94.0 19.8L100.0 18.8L107.5 19.5L114.5 21.8L121.0 25.6L126.5 30.5L131.0 36.5L134.7 44.0L137.0 52.0L138.0 61.0L137.7 69.0L135.8 77.0L132.5 85.0L128.0 92.0L122.5 98.1L116.0 103.0L109.5 106.1L103.0 107.5Z" fill="#fe5c00"/><path d="M104.5 105.5L98.5 105.7L93.5 104.2L88.5 101.1L83.5 96.0L79.5 90.0L76.0 82.5L73.7 74.5L72.6 66.0L72.7 57.5L73.9 49.0L76.3 41.0L79.5 34.4L83.5 28.9L88.5 24.4L94.0 21.7L99.5 20.6L106.5 21.1L113.5 23.2L119.5 26.6L125.0 31.4L129.5 37.2L133.0 44.0L135.3 51.5L136.5 59.5L136.3 67.5L134.9 75.0L132.0 82.5L128.0 89.4L122.9 95.5L117.0 100.4L111.0 103.7L104.5 105.5Z" fill="#fe4f00"/><path d="M105.0 103.6L99.5 103.9L94.5 102.7L89.5 99.8L85.0 95.5L80.7 89.5L77.4 82.5L75.1 75.0L73.9 67.0L73.8 58.5L74.9 50.5L77.0 43.0L80.0 36.4L84.0 30.7L88.5 26.5L93.5 23.7L99.0 22.5L105.5 22.8L112.0 24.6L118.0 27.7L123.5 32.3L128.0 38.0L131.4 44.5L133.7 51.5L134.8 59.0L134.8 66.5L133.5 74.0L131.0 81.0L127.4 87.5L122.6 93.5L117.0 98.3L111.0 101.7L105.0 103.6Z" fill="#fd4300"/><path d="M105.0 101.6L99.5 102.0L95.0 100.9L90.0 98.1L85.7 94.0L81.8 88.5L78.5 81.8L76.3 74.5L75.1 67.0L75.1 59.5L76.1 51.5L78.0 44.3L81.0 37.6L84.5 32.5L89.0 28.3L94.0 25.5L99.0 24.4L105.5 24.7L111.5 26.4L117.0 29.3L122.1 33.5L126.5 38.9L129.8 45.0L132.0 51.6L133.2 59.0L133.2 66.5L132.0 73.3L129.7 80.0L126.1 86.5L121.6 92.0L116.5 96.5L111.0 99.7L105.0 101.6Z" fill="#fd3700"/><path d="M105.0 99.5L100.0 99.9L95.4 99.0L90.8 96.5L86.5 92.5L82.6 87.0L79.7 81.0L77.6 74.0L76.5 67.0L76.4 59.5L77.4 52.0L79.3 45.0L82.0 39.0L85.5 34.0L89.5 30.2L94.0 27.6L99.0 26.4L105.0 26.7L111.0 28.4L116.5 31.3L121.0 35.1L125.0 40.0L128.0 45.5L130.3 52.0L131.5 59.0L131.5 66.0L130.4 72.5L128.2 79.0L125.0 84.9L121.0 90.1L116.0 94.5L110.5 97.8L105.0 99.5Z" fill="#fc2b00"/><path d="M104.0 97.5L99.0 97.7L95.0 96.6L91.0 94.3L87.0 90.4L83.5 85.4L80.7 79.5L78.8 73.0L77.8 66.0L77.9 59.0L78.8 52.0L80.7 45.5L83.3 40.0L86.5 35.5L90.5 31.8L95.0 29.4L99.5 28.5L105.0 28.8L110.5 30.4L115.5 33.1L120.1 37.0L124.0 42.0L126.9 47.5L128.8 53.5L129.7 60.0L129.6 66.5L128.5 72.7L126.2 79.0L123.1 84.5L119.0 89.4L114.5 93.2L109.5 95.9L104.0 97.5Z" fill="#fb1f00"/><path d="M105.0 95.0L100.5 95.5L96.5 94.8L92.5 92.9L88.5 89.4L85.0 84.7L82.4 79.5L80.5 73.5L79.4 67.0L79.3 60.5L80.0 54.0L81.5 48.0L84.0 42.3L87.0 37.8L90.5 34.4L94.5 32.0L99.0 30.8L104.0 31.0L109.0 32.2L113.6 34.5L118.1 38.0L121.9 42.5L124.7 47.5L126.6 53.0L127.7 59.0L127.8 65.0L127.0 71.0L125.0 77.0L122.3 82.0L118.9 86.5L114.5 90.6L110.0 93.3L105.0 95.0Z" fill="#fb1200"/><path d="M101.5 93.0L97.5 92.7L94.0 91.2L90.5 88.6L87.4 85.0L84.5 80.0L82.6 75.0L81.3 69.5L80.8 63.5L81.1 57.5L82.1 52.0L84.0 46.5L86.3 42.0L89.5 38.1L92.7 35.5L96.5 33.7L100.5 33.1L105.5 33.7L110.0 35.2L114.5 37.9L118.3 41.5L121.5 46.0L123.8 51.0L125.3 56.5L125.9 62.0L125.5 67.5L124.3 73.0L122.0 78.4L119.0 83.1L115.4 87.0L111.0 90.2L106.5 92.1L101.5 93.0Z" fill="#fa0600"/><path d="M104.0 90.1L100.0 90.4L96.5 89.7L93.0 87.7L90.0 85.0L87.2 81.0L85.0 76.5L83.5 71.5L82.7 66.0L82.6 60.5L83.3 55.0L84.6 50.0L86.6 45.5L89.3 41.5L92.5 38.5L96.0 36.5L99.5 35.7L104.0 36.0L108.0 37.1L112.0 39.2L115.5 42.0L118.5 45.6L121.0 50.0L122.7 55.0L123.5 60.0L123.6 65.0L122.8 70.0L121.1 75.0L118.7 79.5L115.6 83.5L112.0 86.6L108.0 88.8L104.0 90.1Z" fill="#f40000"/><path d="M101.5 87.5L98.0 87.2L95.1 86.0L92.4 84.0L89.8 81.0L87.5 77.1L85.9 73.0L84.4 63.5L85.5 53.9L87.0 49.5L89.0 45.7L91.5 42.6L94.1 40.5L97.0 39.1L100.5 38.5L104.5 38.9L108.5 40.3L112.0 42.5L115.0 45.3L117.6 49.0L119.5 53.0L120.8 57.5L121.2 62.0L121.0 66.5L120.0 71.1L118.2 75.5L115.6 79.5L112.5 82.8L109.0 85.3L105.5 86.8L101.5 87.5Z" fill="#e80000"/><path d="M103.5 84.0L100.0 84.3L97.5 83.8L95.0 82.5L92.5 80.3L90.4 77.5L88.5 73.7L86.6 65.5L87.0 57.0L89.6 49.5L91.6 46.5L94.0 44.1L96.5 42.5L99.5 41.7L102.5 41.8L106.0 42.6L109.0 44.1L112.1 46.5L114.6 49.5L116.5 52.9L118.4 60.5L117.9 68.5L115.0 75.5L110.0 81.0L107.0 82.8L103.5 84.0Z" fill="#db0000"/><path d="M101.5 80.5L97.0 79.7L93.0 76.2L90.1 70.5L88.9 63.5L89.6 57.0L92.0 50.9L96.0 46.7L100.5 45.3L106.0 46.5L110.7 50.0L114.1 55.5L115.4 62.0L114.5 68.9L111.5 74.7L107.0 78.8L101.5 80.5Z" fill="#cf0000"/><path d="M103.0 75.6L99.0 75.7L96.0 73.9L93.5 70.3L92.1 65.0L92.2 59.5L93.9 54.5L96.5 51.4L100.0 49.9L104.0 50.5L107.5 52.8L110.2 56.5L111.5 61.0L111.2 66.0L109.5 70.4L106.5 73.8L103.0 75.6Z" fill="#c30000"/><path d="M102.0 68.6L100.0 68.8L98.5 68.0L96.8 64.5L96.6 62.0L97.2 59.5L98.5 57.7L100.0 56.9L102.0 57.1L103.5 58.0L105.5 61.5L105.0 65.6L103.7 67.5L102.0 68.6Z" fill="#b70000"/><mask id="m3" maskUnits="userSpaceOnUse" x="-10" y="-10" width="240" height="210"><rect x="-10" y="-10" width="240" height="210" fill="#fff"/><rect x="-4.8" y="-3.8" width="9.6" height="7.6" fill="#000" transform="translate(71.5,93.9989) rotate(63.4868)"/></mask><path d="M104.0 118.5L100.0 118.8L96.5 118.4L91.0 116.3L87.0 113.8L84.0 111.3L78.3 105.0L72.7 96.5L70.2 91.5L68.2 86.5L66.7 82.0L65.2 75.5L64.1 66.0L64.3 55.5L65.2 48.0L66.2 43.0L69.2 33.5L71.2 29.0L73.7 24.5L78.7 18.0L81.5 15.4L85.0 12.7L88.5 10.7L92.0 9.3L96.0 8.3L100.0 7.9L105.0 8.1L109.0 8.7L114.5 10.1L118.5 11.7L122.5 13.8L127.0 16.8L133.2 22.5L135.7 25.5L138.8 30.0L141.2 34.5L143.3 39.5L144.8 44.0L146.2 50.0L147.3 60.0L147.3 65.5L146.8 70.5L144.8 79.5L143.3 83.5L140.8 89.0L138.2 93.5L134.8 98.5L131.4 102.5L126.5 107.4L119.5 112.8L116.0 114.8L111.5 116.8L108.0 117.9L104.0 118.5Z" fill="none" stroke="#3838a4" stroke-width="1.0" mask="url(#m3)"/><text x="0" y="3.4" font-size="9.5" text-anchor="middle" font-family="Liberation Sans" style="fill:#3838a4;stroke:#3838a4;stroke-width:0.3" transform="translate(71.5,93.9989) rotate(63.4868)">25</text></g><rect x="37" y="20.5" width="217" height="186" fill="none" stroke="#333" stroke-width="1"/><rect x="258.6" y="20.5" width="9" height="186" fill="url(#cb)" stroke="#333" stroke-width="1"/><line x1="265.1" x2="267.6" y1="57.7" y2="57.7" stroke="#222" stroke-width="1"/><line x1="265.1" x2="267.6" y1="94.9" y2="94.9" stroke="#222" stroke-width="1"/><line x1="265.1" x2="267.6" y1="132.1" y2="132.1" stroke="#222" stroke-width="1"/><line x1="265.1" x2="267.6" y1="169.3" y2="169.3" stroke="#222" stroke-width="1"/><text x="270.5" y="25.0" font-size="10.8" text-anchor="start" font-family="Liberation Sans">32.0</text><text x="270.5" y="62.2" font-size="10.8" text-anchor="start" font-family="Liberation Sans">26.6</text><text x="270.5" y="99.4" font-size="10.8" text-anchor="start" font-family="Liberation Sans">21.2</text><text x="270.5" y="136.6" font-size="10.8" text-anchor="start" font-family="Liberation Sans">15.8</text><text x="270.5" y="173.8" font-size="10.8" text-anchor="start" font-family="Liberation Sans">10.4</text><text x="270.5" y="211.0" font-size="10.8" text-anchor="start" font-family="Liberation Sans">5.0</text><text x="302.0" y="15.2" font-size="11" text-anchor="end" font-family="Liberation Sans">temperature(°C)</text><text x="32.1" y="211.0" font-size="10.8" text-anchor="end" font-family="Liberation Sans">0</text><text x="32.1" y="180.0" font-size="10.8" text-anchor="end" font-family="Liberation Sans">20</text><text x="32.1" y="149.0" font-size="10.8" text-anchor="end" font-family="Liberation Sans">40</text><text x="32.1" y="118.0" font-size="10.8" text-anchor="end" font-family="Liberation Sans">60</text><text x="32.1" y="87.0" font-size="10.8" text-anchor="end" font-family="Liberation Sans">80</text><text x="32.1" y="56.0" font-size="10.8" text-anchor="end" font-family="Liberation Sans">100</text><text x="32.1" y="25.0" font-size="10.8" text-anchor="end" font-family="Liberation Sans">120</text><text x="37.0" y="220.2" font-size="11" text-anchor="middle" font-family="Liberation Sans">−70</text><text x="91.2" y="220.2" font-size="11" text-anchor="middle" font-family="Liberation Sans">−35</text><text x="145.5" y="220.2" font-size="11" text-anchor="middle" font-family="Liberation Sans">0</text><text x="199.8" y="220.2" font-size="11" text-anchor="middle" font-family="Liberation Sans">35</text><text x="254.0" y="220.2" font-size="11" text-anchor="middle" font-family="Liberation Sans">70</text><text x="145.0" y="232.4" font-size="11.3" text-anchor="middle" font-family="Liberation Sans">diameter(mm)</text><text transform="translate(11.8,114) rotate(-90)" font-size="11.5" text-anchor="middle" font-family="Liberation Sans">height(mm)</text><text x="145.0" y="253.7" font-size="18.3" text-anchor="middle" font-family="Liberation Serif">day 6</text></g>
<g transform="translate(300,257)"><g transform="translate(37,20.5)" clip-path="url(#pc)"><rect x="0" y="0" width="217" height="186" fill="#5edf5e"/><path d="M213.0 186.0L0.0 186.0L0.0 0.0L217.0 0.0L217.0 182.6L213.0 186.0Z" fill="#73e055"/><path d="M208.0 186.0L0.0 186.0L0.0 0.0L217.0 0.0L217.0 178.5L208.0 186.0Z" fill="#7ee14b"/><path d="M202.5 186.0L0.0 186.0L0.0 0.0L217.0 0.0L217.0 173.9L202.5 186.0Z" fill="#88e241"/><path d="M196.5 186.0L0.0 186.0L0.0 0.0L217.0 0.0L217.0 168.8L207.5 176.1L196.5 186.0Z" fill="#93e337"/><path d="M190.0 186.0L0.0 186.0L0.0 0.0L217.0 0.0L217.0 162.8L202.5 173.6L190.0 186.0Z" fill="#9de42d"/><path d="M181.5 186.0L7.6 186.0L0.0 179.5L0.0 0.0L210.5 0.0L217.0 6.9L217.0 155.7L206.5 162.4L197.5 169.4L189.9 176.5L181.5 186.0Z" fill="#a8e523"/><path d="M171.0 186.0L22.7 186.0L12.0 175.7L0.0 166.5L0.0 0.0L202.2 0.0L209.5 10.3L217.0 18.5L217.0 146.3L203.5 154.1L191.1 163.5L179.4 175.0L171.5 186.0L171.0 186.0Z" fill="#b3e619"/><path d="M159.5 186.0L44.4 186.0L38.0 176.0L26.9 165.0L13.5 154.2L0.0 146.1L0.0 20.9L6.0 11.5L11.6 0.0L195.3 0.0L207.0 21.8L212.0 29.3L217.0 35.4L217.0 131.8L209.5 135.4L202.5 139.7L195.0 145.4L187.0 152.6L164.8 175.5L159.5 186.0Z" fill="#bde70f"/><path d="M149.0 186.0L61.2 186.0L57.3 175.5L37.2 154.0L24.9 138.5L16.8 125.0L11.3 111.5L8.2 97.5L6.6 80.0L6.9 64.5L9.1 46.5L13.3 26.0L19.8 0.0L189.6 0.0L204.2 37.5L208.2 50.0L210.6 59.5L212.1 68.5L212.4 76.5L211.7 85.0L209.9 95.0L207.9 102.5L205.2 109.5L201.4 117.0L196.4 125.0L188.1 136.5L178.8 148.0L153.5 175.5L149.0 186.0Z" fill="#c8e805"/><path d="M140.0 186.0L70.0 186.0L65.7 175.5L45.2 152.5L38.5 144.0L33.2 136.0L27.1 124.5L22.6 112.0L19.7 98.5L18.1 82.0L17.8 63.0L19.1 41.5L21.7 21.0L25.7 0.0L184.8 0.0L194.8 30.5L197.7 42.5L199.7 54.0L200.6 65.5L200.4 75.5L199.2 86.5L197.0 97.5L194.3 107.0L190.9 116.0L186.8 124.5L181.4 133.5L174.8 143.0L166.7 153.0L145.0 176.0L140.4 186.0L140.0 186.0Z" fill="#d2e700"/><path d="M133.0 186.0L76.5 186.0L71.5 175.5L48.9 149.5L42.3 140.5L36.7 131.5L31.3 120.0L27.7 108.5L25.2 95.5L23.8 80.0L23.6 60.5L24.6 40.0L26.9 20.0L30.3 0.0L180.6 0.0L189.6 29.5L192.3 42.0L193.9 53.5L194.5 65.5L194.2 76.0L192.8 87.5L190.3 99.0L187.3 109.0L183.7 118.0L179.2 127.0L174.1 135.5L167.7 144.5L159.9 154.0L138.6 176.0L133.0 186.0Z" fill="#dde600"/><path d="M126.0 186.0L82.3 186.0L76.3 175.5L59.2 156.0L49.3 143.5L43.5 135.0L38.8 126.5L34.2 115.5L31.0 104.0L28.9 91.0L27.8 76.0L27.8 57.5L28.8 38.5L31.0 19.5L34.3 0.0L176.8 0.0L181.9 16.0L185.7 30.0L188.2 42.5L189.6 54.0L190.1 66.0L189.6 77.0L188.1 88.5L185.5 100.0L182.3 110.0L178.3 119.5L173.6 128.5L167.9 137.5L161.5 146.0L153.8 155.0L133.0 176.0L126.0 186.0Z" fill="#e8e400"/><path d="M118.0 186.0L88.4 186.0L84.6 181.5L80.7 175.5L64.3 157.0L53.5 143.5L45.8 132.0L39.9 120.5L36.1 110.0L33.5 98.5L31.8 85.5L31.1 70.5L31.3 53.0L32.5 35.5L34.7 17.5L37.8 0.0L173.2 0.0L178.4 16.0L182.2 30.0L184.7 42.5L186.1 54.5L186.6 66.5L185.9 78.0L184.2 89.5L181.2 101.5L177.8 111.5L173.3 121.5L168.0 131.0L161.8 140.0L147.5 156.8L128.0 175.5L121.5 183.2L118.0 186.0Z" fill="#f2e300"/><path d="M105.5 186.0L98.4 186.0L92.5 183.1L88.5 179.5L73.5 163.0L60.7 148.0L52.0 136.0L45.2 124.5L40.4 113.0L37.4 102.5L35.4 91.0L34.2 78.0L33.9 63.5L34.4 48.0L35.8 32.0L38.1 15.5L41.1 0.0L169.9 0.0L171.4 4.5L176.4 20.0L180.0 34.0L182.2 47.0L183.3 59.5L183.3 71.5L182.0 83.5L179.6 95.5L175.9 107.5L171.2 118.5L165.5 129.0L158.5 139.2L150.0 149.4L137.0 162.7L117.5 180.2L111.5 184.1L105.5 186.0Z" fill="#fde100"/><path d="M105.0 180.6L99.0 180.6L93.5 178.1L85.0 170.8L74.0 159.3L62.4 145.5L53.7 133.5L47.5 122.5L42.7 111.0L39.8 100.5L37.8 89.0L36.8 76.0L36.5 61.0L37.2 46.0L38.7 30.5L41.1 15.0L44.3 0.0L166.6 0.0L172.2 16.0L176.2 30.0L178.9 43.0L180.4 55.5L180.7 67.5L179.8 79.5L177.6 91.5L174.2 103.5L169.6 115.0L163.8 126.0L156.8 136.5L148.1 147.0L136.0 159.3L123.0 170.5L112.5 177.8L105.0 180.6Z" fill="#ffdc00"/><path d="M104.5 175.5L98.5 175.3L92.0 172.2L84.0 165.5L74.0 155.1L63.5 142.5L55.4 131.0L49.3 120.0L44.7 108.5L41.9 98.0L40.0 86.5L39.1 73.5L39.0 59.0L39.8 44.5L41.4 30.0L44.0 15.0L47.4 0.0L163.3 0.0L169.1 15.5L173.2 29.0L176.1 42.0L177.7 54.0L178.1 66.5L177.4 78.0L175.3 90.0L172.1 101.5L167.5 113.0L161.8 124.0L154.7 134.5L146.0 145.0L134.0 157.0L122.0 166.9L112.5 172.9L104.5 175.5Z" fill="#ffd500"/><path d="M105.5 170.6L99.0 170.7L93.0 168.3L85.5 162.6L76.5 153.7L66.0 141.4L57.6 129.5L51.4 118.5L46.8 107.0L44.0 96.5L42.2 85.0L41.2 71.5L41.2 57.5L42.2 43.5L44.0 29.0L46.8 14.5L50.5 0.0L160.1 0.0L168.6 22.5L171.9 34.0L174.2 45.5L175.5 56.5L175.7 67.0L175.0 77.5L173.2 88.0L170.4 98.5L166.6 108.5L161.8 118.5L156.0 128.0L148.8 137.5L140.5 146.6L130.5 156.0L121.0 163.3L112.5 168.3L105.5 170.6Z" fill="#ffce00"/><path d="M105.5 166.0L99.0 166.1L92.5 163.6L85.0 158.0L76.5 149.7L67.0 138.4L59.0 126.9L53.0 115.8L48.6 104.5L45.9 94.0L44.1 82.0L43.3 69.0L43.5 55.5L44.6 42.0L46.7 28.0L49.7 14.0L53.6 0.0L156.7 0.0L162.7 14.0L167.4 27.0L170.4 38.0L172.3 48.5L173.3 59.0L173.4 69.0L172.4 79.0L170.5 89.0L167.6 99.0L163.9 108.5L159.0 118.1L153.0 127.5L146.0 136.5L138.0 145.0L129.0 153.1L120.0 159.8L112.5 163.9L105.5 166.0Z" fill="#ffc800"/><path d="M105.5 161.6L99.0 161.6L92.5 159.2L85.0 153.9L76.5 145.5L67.5 134.7L59.9 123.5L54.2 112.5L50.2 101.5L47.7 91.0L46.0 79.0L45.4 66.0L45.7 53.0L47.1 40.0L49.4 26.5L52.8 13.0L56.9 0.0L153.2 0.0L160.8 16.5L166.2 31.5L168.7 41.5L170.4 51.0L171.2 61.0L171.0 70.5L170.0 80.0L168.0 89.5L165.0 99.0L161.3 108.0L156.3 117.5L150.5 126.3L143.5 135.0L136.0 142.8L127.5 150.3L119.5 155.9L112.0 159.7L105.5 161.6Z" fill="#ffc100"/><path d="M106.0 157.1L99.5 157.3L93.0 155.2L85.5 150.1L77.5 142.5L68.8 132.0L61.5 121.0L56.0 110.3L51.9 99.0L49.4 88.0L47.9 76.5L47.4 64.0L48.0 51.0L49.5 38.5L52.2 25.5L56.0 12.2L60.5 0.0L149.3 0.0L158.5 18.1L164.7 35.0L167.0 44.3L168.4 53.5L169.0 62.5L168.7 71.5L167.6 80.5L165.6 89.5L162.6 98.5L159.0 107.0L154.4 115.5L148.8 124.0L142.4 132.0L135.0 139.6L127.0 146.5L119.5 151.7L112.5 155.2L106.0 157.1Z" fill="#ffbb00"/><path d="M103.0 153.0L97.5 152.5L92.0 150.4L85.7 146.0L79.0 139.8L72.0 131.6L65.5 122.4L60.4 113.5L56.2 104.0L53.4 95.5L51.4 86.5L50.0 76.5L49.5 66.5L49.7 56.5L50.6 46.5L52.4 36.0L54.7 26.0L59.0 12.8L64.5 0.0L145.1 0.0L152.0 11.6L157.5 22.7L161.9 34.0L164.8 45.0L166.4 56.0L166.8 67.0L165.8 77.5L163.5 88.0L159.5 99.7L154.0 111.0L147.1 121.5L139.0 131.3L129.5 140.3L120.0 147.1L111.0 151.4L103.0 153.0Z" fill="#ffb400"/><path d="M103.5 148.5L98.0 148.2L93.0 146.4L87.5 143.0L81.5 137.8L75.0 130.7L69.0 122.7L63.7 114.0L59.5 105.3L56.5 97.1L54.3 89.0L52.7 80.5L51.8 71.5L51.6 62.5L52.1 53.0L55.2 34.5L61.0 16.5L65.0 7.7L69.2 0.0L140.0 0.0L147.5 10.5L153.5 20.9L158.3 31.5L161.7 42.0L163.8 52.5L164.6 63.5L164.0 73.9L162.1 84.0L158.5 95.4L153.5 106.2L147.0 116.7L139.0 126.7L130.0 135.4L120.5 142.5L112.0 146.6L103.5 148.5Z" fill="#ffad00"/><path d="M106.0 143.6L99.0 143.7L92.5 141.5L85.0 136.4L77.5 128.8L70.2 119.0L64.0 108.3L59.2 97.0L56.0 85.5L54.3 74.5L53.7 63.0L54.5 51.5L56.5 40.0L59.6 29.0L64.0 18.3L69.5 8.2L75.4 0.0L133.4 0.0L142.5 10.1L150.5 22.0L156.6 34.5L160.5 47.5L162.2 62.0L162.1 69.5L161.2 76.5L157.5 90.7L151.0 104.8L146.5 112.1L141.5 118.8L135.5 125.5L129.5 131.2L123.5 135.9L117.5 139.6L111.5 142.2L106.0 143.6Z" fill="#ffa600"/><path d="M106.5 138.5L99.0 138.7L92.5 136.6L85.0 131.3L77.6 123.5L71.1 114.5L64.6 102.5L59.6 89.0L57.1 78.0L56.1 67.0L56.6 53.5L58.7 42.0L61.6 32.5L66.6 21.5L72.1 13.0L79.0 5.3L85.7 0.0L121.9 0.0L129.5 4.6L134.5 8.5L141.5 15.5L148.8 25.5L152.4 32.0L155.3 39.0L158.9 52.5L159.8 65.0L158.4 78.0L154.4 91.0L147.9 104.0L138.4 117.0L128.5 126.9L123.0 131.2L117.5 134.6L112.0 137.0L106.5 138.5Z" fill="#ff9d00"/><path d="M103.5 137.0L96.5 136.3L89.5 132.9L82.0 126.5L74.9 118.0L68.4 107.5L63.2 96.0L59.5 84.2L57.5 72.5L57.2 61.5L58.2 50.0L60.7 39.0L64.5 28.5L69.5 19.0L75.5 10.9L82.2 4.5L89.5 0.0L117.1 0.0L125.5 4.0L133.3 9.5L142.6 19.0L150.1 30.5L155.4 43.5L158.1 57.0L158.2 70.0L155.9 82.5L151.0 95.5L144.0 107.5L134.5 119.3L124.0 128.6L118.5 132.2L113.5 134.6L108.5 136.2L103.5 137.0Z" fill="#ff9500"/><path d="M106.5 135.0L99.0 135.2L92.0 132.8L84.5 127.3L77.0 119.0L70.0 108.3L64.4 96.5L60.6 84.5L58.5 72.1L58.2 60.5L59.5 48.5L62.4 37.0L66.5 26.7L72.0 17.3L78.5 9.5L86.0 3.5L93.4 0.0L112.1 0.0L114.0 0.5L124.5 5.0L134.5 12.3L143.0 21.7L149.7 32.5L154.5 44.9L156.9 57.5L156.9 69.5L154.9 81.5L150.6 93.5L144.2 105.0L135.8 116.0L126.0 125.4L116.0 131.8L111.0 133.9L106.5 135.0Z" fill="#ff8c00"/><path d="M105.5 133.5L98.0 133.4L94.5 132.3L90.5 130.3L83.0 124.1L75.5 115.0L68.9 104.0L63.8 92.0L60.6 79.5L59.2 67.0L59.6 55.0L61.7 43.0L65.5 31.5L70.6 21.5L77.0 12.9L84.5 6.1L92.5 1.9L100.5 0.3L110.5 1.2L120.5 4.6L130.0 10.4L138.3 18.0L145.4 27.5L150.7 38.0L154.3 49.5L155.8 61.5L155.3 73.0L152.7 84.5L148.0 96.0L141.5 106.8L133.2 117.0L124.0 125.2L114.5 130.9L105.5 133.5Z" fill="#ff8300"/><path d="M103.5 132.0L96.5 131.3L89.0 127.5L81.5 120.8L74.5 111.6L68.5 100.8L64.0 89.1L61.3 77.5L60.2 65.5L60.8 53.5L63.1 42.0L66.9 31.0L72.0 21.5L78.5 13.1L85.5 7.1L93.0 3.3L101.0 1.8L111.0 2.9L120.5 6.2L129.8 12.0L138.0 19.8L145.0 29.4L150.1 40.0L153.4 51.5L154.5 63.0L153.7 74.5L151.0 85.5L146.0 97.0L139.4 107.5L131.0 117.3L121.5 125.2L112.5 130.0L103.5 132.0Z" fill="#ff7b00"/><path d="M105.5 130.1L98.0 130.0L91.0 127.1L84.0 121.5L76.8 113.0L70.6 102.5L65.7 91.0L62.7 79.5L61.3 67.5L61.6 56.0L63.5 44.5L67.1 33.5L72.0 23.7L78.0 15.5L85.0 9.2L92.5 5.1L100.5 3.4L110.0 4.3L119.5 7.4L128.5 12.9L136.5 20.2L143.4 29.5L148.5 39.5L151.8 50.5L153.2 61.5L152.6 72.5L150.2 83.5L145.8 94.5L139.6 105.0L131.9 114.5L123.0 122.4L114.0 127.6L105.5 130.1Z" fill="#ff7200"/><path d="M103.0 128.5L96.0 127.6L89.0 124.0L82.0 117.5L75.5 108.9L70.0 98.8L65.8 87.5L63.3 76.5L62.3 65.0L63.0 53.5L65.2 42.5L69.0 32.0L73.9 23.0L80.0 15.3L87.0 9.5L94.0 6.2L101.5 5.0L111.0 6.1L120.0 9.4L128.8 15.0L136.5 22.4L143.0 31.5L147.7 41.5L150.8 52.5L151.8 63.5L151.0 74.5L148.1 85.5L143.5 96.1L137.0 106.3L129.0 115.4L120.5 122.2L111.5 126.8L103.0 128.5Z" fill="#ff6800"/><path d="M105.0 126.5L98.0 126.4L91.0 123.4L84.0 117.7L77.5 109.7L71.9 100.0L67.4 89.0L64.7 78.0L63.5 66.5L63.9 55.5L65.9 44.5L69.2 34.5L74.0 25.2L79.8 17.5L86.5 11.7L93.5 8.1L101.0 6.7L110.0 7.6L119.0 10.7L127.5 15.9L135.0 22.9L141.3 31.5L146.0 41.0L149.1 51.5L150.4 62.0L149.8 72.5L147.5 83.0L143.3 93.5L137.5 103.2L130.0 112.3L122.0 119.3L113.5 124.2L105.0 126.5Z" fill="#fe5c00"/><path d="M106.0 124.5L99.0 124.7L92.5 122.4L85.5 117.2L79.0 109.6L73.2 100.0L68.8 89.5L65.9 78.5L64.6 67.5L64.9 56.5L66.7 46.0L69.9 36.0L74.4 27.0L80.0 19.4L86.5 13.5L93.5 9.8L100.5 8.4L109.5 9.2L118.0 12.1L126.0 16.8L133.4 23.5L139.5 31.5L144.4 41.0L147.5 50.9L148.9 61.0L148.5 71.5L146.4 81.5L142.5 91.8L137.0 101.4L130.0 110.1L122.0 117.3L114.0 122.1L106.0 124.5Z" fill="#fe4f00"/><path d="M106.0 122.6L99.0 122.7L92.6 120.5L86.0 115.6L80.0 108.7L74.5 99.8L70.1 89.5L67.2 79.0L65.8 68.0L66.0 57.5L67.7 47.0L70.6 37.5L75.0 28.5L80.5 21.0L86.5 15.5L93.5 11.6L100.5 10.2L109.0 10.9L117.5 13.7L125.0 18.1L132.2 24.5L138.3 32.5L143.0 41.5L146.0 51.0L147.4 61.0L147.0 71.0L145.0 81.0L141.2 91.0L136.0 100.2L129.4 108.5L121.7 115.5L114.0 120.1L106.0 122.6Z" fill="#fd4300"/><path d="M106.0 120.6L99.0 120.7L93.0 118.7L87.0 114.4L80.8 107.5L75.5 99.0L71.2 89.0L68.3 78.5L67.0 68.0L67.2 57.5L68.8 47.5L71.8 38.0L76.0 29.5L81.1 22.5L87.1 17.0L93.5 13.5L100.5 12.0L109.0 12.7L117.0 15.4L124.5 19.8L131.4 26.0L137.1 33.5L141.5 42.0L144.5 51.4L145.8 61.0L145.5 71.0L143.6 80.5L140.0 90.0L135.0 98.9L128.6 107.0L121.5 113.5L114.0 118.1L106.0 120.6Z" fill="#fd3700"/><path d="M106.0 118.5L99.5 118.8L93.5 116.8L87.5 112.6L81.5 106.0L76.5 98.0L72.4 88.5L69.6 78.5L68.3 68.0L68.4 58.0L69.9 48.5L72.7 39.5L76.8 31.0L81.8 24.0L87.5 18.8L94.0 15.2L100.5 13.9L108.5 14.5L116.0 16.9L123.5 21.3L130.0 27.0L135.5 34.1L140.0 42.5L142.9 51.5L144.2 61.0L143.9 70.5L142.1 80.0L138.7 89.0L134.0 97.5L128.0 105.2L121.0 111.7L113.5 116.2L106.0 118.5Z" fill="#fc2b00"/><path d="M105.0 116.6L99.0 116.6L93.0 114.4L87.0 109.9L81.6 103.5L76.8 95.5L73.1 86.5L70.7 77.0L69.5 67.0L69.8 57.5L71.3 48.5L74.0 39.8L78.0 31.8L83.0 25.1L88.5 20.2L94.5 17.0L101.0 15.8L108.5 16.5L116.0 19.0L123.0 23.1L129.5 29.1L135.0 36.5L139.0 44.5L141.5 53.0L142.6 62.0L142.2 71.5L140.2 80.5L136.7 89.5L132.0 97.5L126.0 104.8L119.4 110.5L112.4 114.5L105.0 116.6Z" fill="#fb1f00"/><path d="M103.5 114.5L97.5 114.0L92.0 111.5L86.5 107.0L81.5 100.7L77.2 93.0L73.9 84.5L71.8 75.5L70.9 66.0L71.2 57.0L72.8 48.0L75.5 40.0L79.3 32.5L84.0 26.4L89.5 21.7L95.0 18.9L101.0 17.8L108.5 18.5L115.7 21.0L122.5 25.1L128.5 30.7L133.6 37.5L137.5 45.5L140.0 54.0L140.9 62.5L140.4 71.5L138.4 80.5L135.0 89.0L130.2 97.0L124.2 104.0L117.5 109.5L110.5 113.0L103.5 114.5Z" fill="#fb1200"/><path d="M105.0 112.0L99.5 112.1L94.0 110.3L88.5 106.4L83.5 100.7L79.1 93.5L75.7 85.5L73.4 76.5L72.3 67.5L72.4 59.0L73.7 50.5L76.1 42.5L79.7 35.0L84.0 29.0L89.0 24.3L94.5 21.3L100.5 19.9L107.5 20.5L114.5 22.7L121.0 26.5L126.7 31.5L131.7 38.0L135.5 45.4L138.0 53.4L139.1 61.5L138.8 70.0L137.1 78.5L134.0 86.9L129.7 94.5L124.0 101.5L118.0 106.7L111.5 110.3L105.0 112.0Z" fill="#fa0600"/><path d="M105.5 109.6L99.5 109.7L94.5 108.1L89.5 104.7L84.7 99.5L80.5 92.7L77.0 84.5L74.8 76.0L73.8 67.5L73.9 59.0L75.1 51.0L77.5 43.2L80.7 36.5L85.0 30.5L89.5 26.4L95.0 23.3L100.5 22.1L107.5 22.7L114.0 24.8L120.0 28.3L125.5 33.1L130.0 39.0L133.7 46.0L136.1 53.5L137.2 61.5L137.0 69.5L135.5 77.5L132.6 85.5L128.7 92.5L123.6 99.0L118.0 104.0L112.0 107.6L105.5 109.6Z" fill="#f40000"/><path d="M105.5 107.0L100.0 107.3L95.5 106.0L90.5 102.8L85.9 98.0L81.8 91.5L78.5 84.0L76.4 76.0L75.3 68.0L75.4 60.0L76.4 52.5L78.5 45.1L81.6 38.5L85.5 32.8L90.0 28.5L95.0 25.7L100.5 24.4L107.0 24.9L113.0 26.8L118.7 30.0L124.0 34.6L128.5 40.4L132.0 47.0L134.2 54.0L135.3 61.5L135.0 69.5L133.6 77.0L131.0 84.2L127.3 91.0L122.5 97.1L117.0 102.0L111.5 105.2L105.5 107.0Z" fill="#e80000"/><path d="M104.5 104.5L99.5 104.6L95.0 103.1L90.5 99.9L86.0 94.8L82.5 89.0L79.5 81.6L77.7 74.0L76.9 66.5L77.1 59.0L78.2 52.0L80.4 45.0L83.4 39.0L87.1 34.0L91.5 30.1L96.0 27.8L101.0 26.8L107.0 27.4L112.5 29.1L118.0 32.3L123.0 36.8L127.0 42.0L130.3 48.5L132.3 55.0L133.2 62.0L133.0 69.5L131.6 76.5L129.0 83.5L125.4 90.0L120.9 95.5L115.7 100.0L110.0 103.1L104.5 104.5Z" fill="#db0000"/><path d="M105.5 101.5L100.5 101.9L96.5 100.9L92.0 98.1L88.0 94.0L84.4 88.5L81.5 82.0L79.6 75.0L78.7 68.0L78.6 61.0L79.5 54.0L81.4 47.5L84.0 41.8L87.5 36.8L91.5 33.0L96.0 30.4L100.5 29.4L106.0 29.8L111.5 31.4L116.5 34.2L121.0 38.1L124.9 43.0L128.0 48.8L130.0 55.0L131.0 61.5L130.9 68.5L129.7 75.0L127.5 81.5L124.3 87.5L120.0 93.0L115.5 97.0L110.5 100.0L105.5 101.5Z" fill="#cf0000"/><path d="M105.0 98.6L100.5 98.8L96.5 97.8L92.5 95.2L89.0 91.6L85.7 86.5L83.1 80.5L81.3 74.0L80.5 67.5L80.5 61.0L81.4 54.5L83.0 48.8L85.5 43.4L88.5 39.0L92.2 35.5L96.5 33.1L100.5 32.2L105.5 32.5L110.5 33.9L115.2 36.5L119.5 40.2L123.0 44.5L125.9 50.0L127.7 55.5L128.7 61.5L128.5 68.0L127.5 74.0L125.5 80.0L122.5 85.7L118.8 90.5L114.5 94.4L110.0 97.0L105.0 98.6Z" fill="#c30000"/><path d="M103.5 95.5L99.5 95.4L96.0 94.1L92.5 91.6L89.4 88.0L86.5 83.1L84.5 78.0L83.0 72.0L82.4 66.0L82.6 60.0L83.5 54.5L85.0 49.5L87.5 44.5L90.5 40.5L93.5 37.9L97.0 36.0L101.0 35.1L106.0 35.6L110.5 37.1L114.5 39.5L118.4 43.0L121.5 47.1L123.9 52.0L125.4 57.0L126.2 62.5L125.9 68.5L124.8 74.0L122.8 79.5L120.0 84.5L116.5 88.8L112.5 92.1L108.0 94.4L103.5 95.5Z" fill="#b70000"/><path d="M101.5 92.0L98.0 91.3L95.0 89.7L92.0 86.9L89.6 83.5L85.9 74.5L84.6 64.0L85.8 54.5L87.4 50.0L89.5 46.1L92.0 42.9L95.0 40.5L98.0 39.0L101.5 38.4L106.0 39.0L110.0 40.4L114.0 43.0L117.0 46.0L119.8 50.0L121.8 54.5L123.0 59.0L123.4 64.0L122.9 69.5L121.7 74.5L119.6 79.5L117.0 83.5L113.8 87.0L110.0 89.7L106.0 91.4L101.5 92.0Z" fill="#aa0000"/><path d="M104.5 87.6L101.0 87.9L98.5 87.3L95.5 85.6L93.0 83.1L89.1 76.0L87.2 67.0L87.6 58.0L90.5 50.0L92.5 47.0L95.1 44.5L98.0 42.9L101.0 42.2L104.5 42.5L108.0 43.5L111.0 45.2L114.0 47.8L118.1 54.0L120.1 62.0L119.5 70.5L116.3 78.5L114.0 81.7L111.0 84.5L108.0 86.4L104.5 87.6Z" fill="#9e0000"/><path d="M102.5 83.0L100.0 82.9L98.0 82.1L94.0 78.3L91.1 72.0L90.0 65.0L90.6 58.5L93.0 52.4L97.0 48.1L101.5 46.6L107.0 47.8L111.9 51.5L115.1 57.0L116.4 63.5L115.5 70.5L112.5 76.8L108.0 81.1L105.5 82.4L102.5 83.0Z" fill="#920000"/><path d="M103.0 76.5L100.0 76.4L97.0 74.1L95.0 70.5L94.0 65.9L94.2 61.0L95.5 57.0L98.0 53.8L101.0 52.5L104.6 53.0L108.0 55.2L110.5 59.0L111.4 63.0L111.0 67.8L109.2 72.0L106.5 75.0L103.0 76.5Z" fill="#850000"/><mask id="m4" maskUnits="userSpaceOnUse" x="-10" y="-10" width="240" height="210"><rect x="-10" y="-10" width="240" height="210" fill="#fff"/><rect x="-4.8" y="-3.8" width="9.6" height="7.6" fill="#000" transform="translate(138.156,117) rotate(-49.5528)"/></mask><path d="M120.7 0.0L126.0 2.6L130.0 5.2L134.5 8.8L138.0 12.1L141.7 16.0L145.3 20.5L149.3 26.5L151.7 31.0L154.2 36.5L156.2 42.0L158.7 52.5L159.4 57.5L159.6 64.0L158.9 74.5L157.8 80.0L156.3 85.5L154.3 91.0L151.8 96.5L145.8 107.0L141.9 112.5L137.3 118.0L129.0 126.2L124.5 129.9L118.5 133.8L114.5 135.8L110.5 137.3L106.0 138.4L101.5 138.6L98.5 138.4L96.0 137.8L92.5 136.3L88.5 133.9L81.8 128.0L78.2 124.0L73.6 118.0L67.2 107.5L62.6 97.5L60.2 90.5L58.7 85.0L56.7 74.0L56.2 68.0L56.2 61.5L57.2 50.0L59.2 40.5L62.7 30.0L66.8 21.5L72.7 12.5L75.6 9.0L80.0 4.7L84.5 1.2L86.6 0.0Z" fill="none" stroke="#3838a4" stroke-width="1.0" mask="url(#m4)"/><text x="0" y="3.4" font-size="9.5" text-anchor="middle" font-family="Liberation Sans" style="fill:#3838a4;stroke:#3838a4;stroke-width:0.3" transform="translate(138.156,117) rotate(-49.5528)">25</text></g><rect x="37" y="20.5" width="217" height="186" fill="none" stroke="#333" stroke-width="1"/><rect x="258.6" y="20.5" width="9" height="186" fill="url(#cb)" stroke="#333" stroke-width="1"/><line x1="265.1" x2="267.6" y1="57.7" y2="57.7" stroke="#222" stroke-width="1"/><line x1="265.1" x2="267.6" y1="94.9" y2="94.9" stroke="#222" stroke-width="1"/><line x1="265.1" x2="267.6" y1="132.1" y2="132.1" stroke="#222" stroke-width="1"/><line x1="265.1" x2="267.6" y1="169.3" y2="169.3" stroke="#222" stroke-width="1"/><text x="270.5" y="25.0" font-size="10.8" text-anchor="start" font-family="Liberation Sans">32.0</text><text x="270.5" y="62.2" font-size="10.8" text-anchor="start" font-family="Liberation Sans">26.6</text><text x="270.5" y="99.4" font-size="10.8" text-anchor="start" font-family="Liberation Sans">21.2</text><text x="270.5" y="136.6" font-size="10.8" text-anchor="start" font-family="Liberation Sans">15.8</text><text x="270.5" y="173.8" font-size="10.8" text-anchor="start" font-family="Liberation Sans">10.4</text><text x="270.5" y="211.0" font-size="10.8" text-anchor="start" font-family="Liberation Sans">5.0</text><text x="302.0" y="15.2" font-size="11" text-anchor="end" font-family="Liberation Sans">temperature(°C)</text><text x="32.1" y="211.0" font-size="10.8" text-anchor="end" font-family="Liberation Sans">0</text><text x="32.1" y="180.0" font-size="10.8" text-anchor="end" font-family="Liberation Sans">20</text><text x="32.1" y="149.0" font-size="10.8" text-anchor="end" font-family="Liberation Sans">40</text><text x="32.1" y="118.0" font-size="10.8" text-anchor="end" font-family="Liberation Sans">60</text><text x="32.1" y="87.0" font-size="10.8" text-anchor="end" font-family="Liberation Sans">80</text><text x="32.1" y="56.0" font-size="10.8" text-anchor="end" font-family="Liberation Sans">100</text><text x="32.1" y="25.0" font-size="10.8" text-anchor="end" font-family="Liberation Sans">120</text><text x="37.0" y="220.2" font-size="11" text-anchor="middle" font-family="Liberation Sans">−70</text><text x="91.2" y="220.2" font-size="11" text-anchor="middle" font-family="Liberation Sans">−35</text><text x="145.5" y="220.2" font-size="11" text-anchor="middle" font-family="Liberation Sans">0</text><text x="199.8" y="220.2" font-size="11" text-anchor="middle" font-family="Liberation Sans">35</text><text x="254.0" y="220.2" font-size="11" text-anchor="middle" font-family="Liberation Sans">70</text><text x="145.0" y="232.4" font-size="11.3" text-anchor="middle" font-family="Liberation Sans">diameter(mm)</text><text transform="translate(11.8,114) rotate(-90)" font-size="11.5" text-anchor="middle" font-family="Liberation Sans">height(mm)</text><text x="145.0" y="253.7" font-size="18.3" text-anchor="middle" font-family="Liberation Serif">day 7</text></g>
<g transform="translate(600,257)"><g transform="translate(37,20.5)" clip-path="url(#pc)"><rect x="0" y="0" width="217" height="186" fill="#00d778"/><path d="M215.5 186.0L0.0 186.0L0.0 0.0L217.0 0.0L217.0 185.0L215.5 186.0Z" fill="#1fda6f"/><path d="M210.0 186.0L0.0 186.0L0.0 0.0L217.0 0.0L217.0 180.0L210.0 186.0Z" fill="#3fdc67"/><path d="M203.5 186.0L0.0 186.0L0.0 0.0L217.0 0.0L217.0 174.4L203.5 186.0Z" fill="#5edf5e"/><path d="M196.0 186.0L0.0 186.0L0.0 0.0L211.6 0.0L217.0 5.2L217.0 167.9L206.0 176.4L196.0 186.0Z" fill="#73e055"/><path d="M187.0 186.0L8.5 186.0L0.0 178.7L0.0 0.0L204.1 0.0L217.0 13.5L217.0 160.0L208.5 165.7L201.2 171.5L195.0 177.3L187.0 186.0Z" fill="#7ee14b"/><path d="M177.5 186.0L23.0 186.0L12.4 175.0L0.0 165.4L0.0 0.0L197.0 0.0L207.5 13.8L217.0 24.0L217.0 149.7L204.5 157.3L193.4 166.0L185.5 174.7L177.5 186.0Z" fill="#88e241"/><path d="M167.0 186.0L39.1 186.0L32.0 174.1L26.4 166.0L11.5 153.9L0.0 145.8L0.0 13.0L9.4 0.0L190.7 0.0L207.5 26.3L217.0 38.8L217.0 133.8L209.0 138.4L200.5 144.8L191.0 153.2L177.9 166.0L167.0 186.0Z" fill="#93e337"/><path d="M158.0 186.0L51.5 186.0L42.5 166.0L25.7 150.0L14.3 136.5L9.2 129.0L5.4 122.0L2.2 114.5L0.0 107.2L0.0 48.8L3.2 38.0L7.8 26.0L13.8 13.0L20.6 0.0L185.2 0.0L192.9 13.5L199.7 27.0L205.7 40.5L210.1 52.5L212.7 62.0L214.1 70.5L214.4 78.5L213.6 87.5L211.8 97.0L209.7 105.0L206.8 112.5L202.8 120.5L196.2 131.0L187.8 142.5L178.2 154.0L166.9 166.0L158.0 186.0Z" fill="#9de42d"/><path d="M149.5 186.0L60.3 186.0L51.3 166.0L34.3 149.0L23.7 135.5L19.6 128.5L16.4 121.5L13.7 114.0L11.8 106.0L9.7 87.5L9.4 63.0L10.9 48.0L14.5 32.5L20.3 16.5L28.2 0.0L180.3 0.0L187.2 12.5L192.7 24.5L197.2 36.5L200.2 47.5L202.1 58.0L202.8 68.5L202.5 79.0L201.1 90.5L198.9 101.5L196.3 110.5L192.8 119.5L188.7 128.0L182.7 138.0L176.2 147.0L168.2 156.5L159.2 166.0L153.0 180.0L150.0 186.0L149.5 186.0Z" fill="#a8e523"/><path d="M142.5 186.0L67.2 186.0L57.5 166.0L38.7 146.5L32.7 139.0L27.8 131.5L24.5 125.0L21.6 118.0L17.9 103.0L16.2 85.0L16.1 60.0L17.6 45.5L21.2 30.5L26.7 15.0L33.9 0.0L175.9 0.0L177.4 2.5L183.3 13.5L188.3 25.0L192.1 36.5L194.8 48.0L196.3 59.0L196.6 70.0L195.9 82.0L194.1 94.0L191.8 104.0L188.9 113.5L185.2 122.5L180.9 131.0L175.4 140.0L169.1 148.5L161.8 157.0L153.0 166.0L147.5 177.5L142.5 186.0Z" fill="#b3e619"/><path d="M135.5 186.0L73.3 186.0L68.2 177.5L62.5 166.0L41.8 144.0L35.8 136.0L30.7 127.5L25.4 114.5L22.2 100.0L20.8 82.0L20.9 58.0L22.6 43.5L26.2 29.0L31.7 14.0L38.6 0.0L172.0 0.0L177.7 10.0L182.6 20.5L186.6 31.5L189.6 42.5L191.4 53.5L192.1 64.5L191.8 76.0L190.6 87.5L188.2 100.0L185.7 109.0L182.4 118.0L178.6 126.5L174.1 134.5L168.8 142.5L162.9 150.0L147.8 166.0L141.5 177.4L135.5 186.0Z" fill="#bde70f"/><path d="M128.0 186.0L79.1 186.0L73.2 177.5L66.8 166.0L52.5 151.0L44.4 141.5L37.6 132.0L32.8 123.0L28.3 110.5L25.7 96.5L24.6 78.0L24.9 55.5L26.8 41.5L30.6 27.0L35.8 13.5L42.7 0.0L168.3 0.0L173.4 8.5L177.7 17.0L181.9 27.5L185.0 38.0L187.2 48.5L188.3 59.5L188.4 71.0L187.5 82.5L185.6 94.5L182.7 106.0L179.7 115.0L176.3 123.0L172.1 131.0L167.4 138.5L156.7 152.0L143.0 166.0L135.0 178.4L130.0 184.4L128.0 186.0Z" fill="#c8e805"/><path d="M120.5 186.0L85.5 186.0L78.0 177.6L70.8 166.0L54.8 149.0L46.1 138.5L39.4 128.5L34.5 118.5L30.8 106.5L28.7 93.0L27.8 73.0L28.3 53.5L30.4 40.0L34.3 26.0L39.7 12.5L46.3 0.0L164.9 0.0L171.6 11.0L177.2 23.0L180.6 33.0L183.2 43.5L184.8 54.0L185.4 64.5L185.0 76.0L183.6 87.5L181.2 99.5L177.9 110.5L174.6 119.0L170.7 127.0L166.3 134.5L161.0 142.0L151.2 153.5L138.4 166.0L129.0 178.5L120.5 186.0Z" fill="#d2e700"/><path d="M108.5 186.0L94.7 186.0L89.5 183.3L84.0 178.7L79.5 173.4L74.6 166.0L57.7 148.0L47.9 136.0L40.4 124.0L35.4 112.0L32.7 100.5L31.1 86.5L30.7 63.0L31.6 50.0L34.0 37.0L38.0 24.0L43.2 11.5L49.6 0.0L161.6 0.0L166.3 7.0L170.7 15.0L174.3 23.0L177.4 31.5L180.2 42.0L181.9 52.5L182.6 63.0L182.3 74.0L181.1 85.5L178.7 97.5L175.6 108.5L171.7 118.5L167.4 127.0L162.5 135.0L156.5 143.0L149.6 151.0L134.0 166.0L128.5 172.8L123.0 178.1L116.0 183.0L108.5 186.0Z" fill="#dde600"/><path d="M105.5 181.6L100.0 182.0L95.0 181.0L90.0 178.4L85.5 174.8L78.3 166.0L64.0 151.0L54.0 139.4L46.8 129.5L41.4 119.5L38.2 111.5L35.9 102.5L34.4 93.0L33.6 81.5L33.3 63.5L33.7 54.5L35.3 43.5L37.9 32.5L44.2 15.5L48.2 7.5L52.8 0.0L158.4 0.0L165.7 11.0L171.5 22.5L175.8 34.5L178.7 47.5L180.0 60.5L179.8 74.0L178.1 88.0L174.8 102.0L170.6 114.0L165.4 125.0L159.0 135.2L151.3 145.0L142.0 154.7L121.0 174.3L113.5 179.0L105.5 181.6Z" fill="#e8e400"/><path d="M104.5 177.0L99.5 177.2L95.0 176.2L90.5 173.9L86.0 170.2L68.0 151.5L57.1 139.0L49.1 128.0L43.4 117.5L40.4 109.5L38.1 100.5L36.7 91.0L36.0 79.5L35.7 63.5L36.2 54.5L37.7 43.5L40.3 33.0L43.3 24.0L46.8 15.5L51.0 7.5L55.7 0.0L155.3 0.0L162.5 10.2L168.5 21.5L173.2 34.0L176.2 46.5L177.6 59.5L177.5 73.0L175.8 87.0L172.7 100.5L168.5 112.5L163.3 123.5L156.6 134.0L148.6 144.0L137.0 155.6L119.5 170.4L112.0 174.9L104.5 177.0Z" fill="#f2e300"/><path d="M104.5 172.6L98.5 172.7L93.5 171.1L89.0 168.2L80.5 160.7L68.6 148.5L58.3 136.5L51.2 126.5L46.0 116.9L42.9 109.0L40.7 100.5L39.2 91.5L38.4 80.5L38.4 55.5L39.8 45.0L42.1 35.0L45.1 25.5L48.9 16.5L53.4 8.0L58.6 0.0L152.2 0.0L159.7 10.0L165.8 21.0L170.4 32.5L173.7 45.0L175.3 58.0L175.4 71.0L173.9 84.5L171.0 98.0L166.9 110.0L161.8 121.0L155.3 131.5L147.3 141.5L136.0 152.8L123.5 163.0L113.0 169.9L104.5 172.6Z" fill="#fde100"/><path d="M103.0 168.5L97.5 168.3L92.5 166.3L86.0 161.8L78.5 155.1L68.0 144.1L59.2 133.5L52.6 124.0L47.9 115.0L45.0 107.3L42.8 99.0L41.4 90.0L40.6 79.5L40.6 55.5L41.9 45.5L44.2 35.5L47.2 26.0L51.3 16.5L56.0 7.9L61.5 0.0L149.1 0.0L156.7 9.5L163.0 20.0L167.9 31.5L171.3 44.0L173.1 56.5L173.4 69.5L172.1 82.5L169.2 96.0L165.2 108.0L159.8 119.5L153.3 130.0L145.0 140.2L133.5 151.4L121.5 160.6L111.0 166.5L103.0 168.5Z" fill="#ffdc00"/><path d="M102.0 164.5L97.0 164.1L91.5 161.8L85.0 157.3L77.5 150.5L68.5 140.9L60.4 131.0L54.4 122.0L50.0 113.5L47.1 106.0L45.0 98.0L43.5 89.0L42.7 79.0L42.7 56.0L43.9 46.5L45.9 37.0L49.3 26.5L53.4 17.0L58.5 8.0L64.3 0.0L145.9 0.0L153.5 8.7L160.1 19.0L165.3 30.5L168.9 42.5L171.0 55.0L171.4 67.5L170.3 80.5L167.5 94.0L163.3 106.5L157.9 118.0L151.3 128.5L143.0 138.5L132.0 149.0L120.5 157.6L110.5 162.7L102.0 164.5Z" fill="#ffd500"/><path d="M102.5 160.5L97.5 160.3L92.0 158.2L86.0 154.3L79.0 148.3L70.5 139.4L62.8 130.0L56.7 121.0L52.2 112.5L49.3 105.0L47.2 97.5L45.8 89.0L44.8 79.5L44.6 57.5L45.7 48.0L47.5 39.0L50.9 28.0L55.4 17.5L61.0 8.0L67.2 0.0L142.7 0.0L150.5 8.4L157.1 18.0L162.6 29.0L166.4 40.5L168.7 52.5L169.5 65.0L168.6 77.5L166.2 90.5L162.3 103.0L157.0 114.8L150.5 125.3L142.5 135.2L132.0 145.4L121.0 153.5L111.5 158.4L102.5 160.5Z" fill="#ffce00"/><path d="M104.0 156.5L98.5 156.5L93.5 155.1L88.0 152.1L81.5 146.9L73.5 139.0L65.9 130.0L59.6 121.0L54.9 112.5L52.0 105.5L49.7 98.0L47.1 81.0L46.6 59.0L47.4 50.0L49.0 41.5L52.5 29.5L57.5 18.0L63.5 8.0L70.1 0.0L139.3 0.0L147.4 8.0L154.1 17.0L159.7 27.5L163.8 38.5L166.4 50.0L167.5 62.0L167.0 74.0L165.0 86.5L161.5 98.8L156.6 110.5L150.5 121.0L143.0 130.8L133.0 140.8L122.5 148.9L113.0 154.0L104.0 156.5Z" fill="#ffc800"/><path d="M105.0 152.5L98.0 152.6L91.0 150.1L83.0 144.5L74.0 135.7L65.3 125.0L58.7 114.5L54.0 104.0L50.9 93.0L49.0 79.5L48.5 63.5L49.2 52.0L51.3 40.5L55.0 28.5L60.0 17.5L66.0 8.0L73.2 0.0L135.6 0.0L145.4 9.0L153.5 20.0L159.7 32.5L163.7 46.0L165.0 54.0L165.6 62.5L165.4 70.5L164.4 79.0L162.7 87.5L160.2 96.0L157.0 104.2L153.1 112.0L148.5 119.5L143.5 126.1L137.5 132.8L131.0 138.8L124.0 144.2L117.5 148.1L111.0 151.0L105.0 152.5Z" fill="#ffc100"/><path d="M105.5 148.6L98.5 148.8L91.5 146.6L83.5 141.1L75.0 132.8L66.7 122.5L60.3 112.0L55.7 101.5L52.7 90.0L50.9 77.0L50.5 62.0L51.5 50.0L53.8 38.5L57.7 27.0L63.0 16.3L69.5 7.0L76.5 0.0L131.6 0.0L137.0 4.0L142.0 8.6L146.8 14.0L151.1 20.0L154.8 26.5L157.9 33.5L162.1 48.0L163.2 55.5L163.7 63.5L162.4 79.0L160.7 87.0L158.2 95.0L155.0 103.0L151.5 110.0L147.0 117.2L142.0 123.8L136.3 130.0L130.0 135.8L123.5 140.7L117.5 144.4L111.5 147.0L105.5 148.6Z" fill="#ffbb00"/><path d="M102.0 145.0L97.5 144.8L92.5 143.2L87.5 140.3L82.0 135.9L76.2 130.0L70.5 123.1L65.5 115.8L61.4 108.5L56.4 95.5L53.5 80.9L52.5 63.0L53.9 47.5L57.6 33.0L63.5 19.5L71.0 8.5L75.5 3.9L80.3 0.0L127.1 0.0L135.9 6.0L143.5 13.4L150.0 22.3L155.3 32.5L159.1 43.5L161.2 55.0L161.7 66.5L160.5 78.3L157.5 90.4L152.9 102.0L146.7 113.0L139.0 123.0L129.9 132.0L120.0 139.1L111.0 143.3L102.0 145.0Z" fill="#ffb400"/><path d="M102.0 141.0L97.5 140.7L93.0 139.4L88.5 136.9L83.5 133.1L78.2 128.0L73.0 121.8L68.3 115.0L64.2 108.0L59.1 95.5L55.9 82.0L54.6 66.0L55.5 51.0L58.6 36.5L64.0 23.0L71.0 12.0L75.0 7.5L79.5 3.5L84.7 0.0L121.5 0.0L130.5 4.9L138.5 11.5L145.9 20.0L151.6 29.5L156.0 40.2L158.7 51.5L159.7 63.0L159.0 74.5L156.4 86.5L152.0 98.2L146.0 109.1L138.7 119.0L129.5 128.2L120.0 135.1L111.0 139.3L102.0 141.0Z" fill="#ffad00"/><path d="M105.5 136.5L98.0 136.7L91.0 134.2L83.5 128.8L75.5 120.1L68.5 109.7L63.3 99.0L59.5 87.4L57.3 75.0L56.8 62.5L57.7 50.5L60.3 38.5L64.3 27.5L69.5 17.9L76.0 9.8L83.0 3.9L91.0 0.0L113.5 0.0L124.5 4.3L134.4 11.0L143.0 20.0L149.9 31.0L154.6 43.0L157.2 56.0L157.5 69.0L155.5 81.4L151.2 94.0L144.7 106.0L136.0 117.4L126.0 126.7L115.5 133.3L110.5 135.3L105.5 136.5Z" fill="#ffa600"/><path d="M106.0 132.0L98.0 132.3L94.5 131.4L90.5 129.5L83.0 123.6L75.6 115.0L69.1 104.5L64.1 93.0L60.6 80.5L59.1 68.5L59.2 57.5L61.1 44.0L64.2 33.5L69.6 22.0L76.3 13.0L83.5 6.7L91.5 2.7L99.5 1.2L110.5 2.1L120.0 5.1L129.0 10.1L137.6 17.5L144.4 26.0L149.8 36.0L153.8 48.5L155.4 60.0L154.9 72.5L152.9 82.0L148.3 94.0L142.5 104.0L134.5 114.1L125.0 122.9L115.5 128.8L110.5 130.9L106.0 132.0Z" fill="#ff9d00"/><path d="M104.0 130.6L96.5 130.2L89.5 127.1L82.0 120.8L75.0 112.0L68.9 101.5L64.3 90.0L61.4 78.5L60.1 66.5L60.5 54.5L62.6 42.5L66.2 31.5L71.0 22.0L77.0 14.1L84.0 8.0L92.0 4.1L100.0 2.7L110.5 3.7L120.5 7.0L129.5 12.2L137.6 19.5L144.4 28.5L149.5 38.9L152.8 50.0L154.1 62.0L153.5 73.0L150.9 84.0L146.3 95.0L139.8 105.5L131.5 115.2L122.3 123.0L113.0 128.2L104.0 130.6Z" fill="#ff9500"/><path d="M103.5 129.0L96.5 128.7L89.5 125.5L82.5 119.6L75.5 110.9L69.5 100.5L65.1 89.5L62.2 78.0L61.0 66.5L61.5 54.5L63.5 43.0L67.0 32.2L71.7 23.0L77.5 15.3L84.5 9.3L92.0 5.5L100.0 4.1L110.0 5.0L120.0 8.3L128.9 13.5L136.7 20.5L143.5 29.5L148.4 39.5L151.6 50.5L152.9 62.0L152.3 73.0L149.6 84.0L145.0 94.9L138.7 105.0L130.5 114.5L121.5 122.0L112.5 126.8L103.5 129.0Z" fill="#ff8c00"/><path d="M103.0 127.5L96.0 126.9L89.5 123.9L82.5 117.9L75.8 109.5L70.1 99.5L65.8 88.5L63.1 77.5L62.0 66.0L62.5 54.5L64.5 43.2L67.8 33.0L72.5 23.8L78.5 16.0L85.0 10.5L92.5 6.9L100.0 5.6L110.0 6.5L119.5 9.6L128.5 14.9L136.0 21.7L142.5 30.5L147.4 40.5L150.5 51.5L151.6 62.5L150.9 73.5L148.3 84.0L143.8 94.5L137.5 104.5L129.5 113.7L120.5 121.0L111.5 125.6L103.0 127.5Z" fill="#ff8300"/><path d="M105.5 125.6L98.0 125.7L91.5 123.4L84.8 118.5L78.2 111.0L72.0 101.0L67.5 90.5L64.5 79.5L63.1 68.0L63.3 56.5L65.0 45.5L68.0 35.5L72.5 26.0L78.0 18.4L84.5 12.5L92.0 8.6L99.5 7.1L109.0 7.8L118.0 10.6L126.5 15.3L134.3 22.0L140.6 30.0L145.5 39.5L148.7 49.5L150.2 60.5L149.9 71.0L147.8 81.5L143.9 91.5L138.1 101.5L130.8 110.5L122.5 117.9L114.0 122.9L105.5 125.6Z" fill="#ff7b00"/><path d="M104.5 124.0L97.5 124.0L91.0 121.5L84.5 116.4L78.2 109.0L72.5 99.5L68.3 89.5L65.4 78.5L64.1 67.5L64.3 56.5L66.1 45.5L69.2 35.5L73.5 26.7L79.0 19.2L85.5 13.5L92.5 10.0L99.5 8.6L109.0 9.4L118.0 12.2L126.4 17.0L133.8 23.5L139.9 31.5L144.5 40.5L147.6 50.5L149.0 61.5L148.5 72.0L146.2 82.0L142.2 92.0L136.5 101.5L129.0 110.4L121.0 117.2L112.5 121.9L104.5 124.0Z" fill="#ff7200"/><path d="M102.5 122.5L96.0 121.9L89.9 119.0L83.5 113.6L77.5 105.9L72.5 97.0L68.5 86.8L66.0 76.1L65.0 65.5L65.5 55.0L67.4 44.5L70.6 35.0L75.0 26.6L80.5 19.5L86.5 14.6L93.0 11.4L100.0 10.2L109.0 11.0L118.0 13.9L126.0 18.6L133.2 25.0L139.1 33.0L143.6 42.0L146.5 52.0L147.6 62.5L146.9 73.0L144.5 83.0L140.2 93.0L134.4 102.0L127.0 110.4L119.0 116.7L110.5 120.9L102.5 122.5Z" fill="#ff6800"/><path d="M105.0 120.5L98.0 120.6L92.0 118.5L86.0 114.1L80.0 107.4L74.5 98.6L70.4 89.0L67.5 78.5L66.2 68.0L66.4 57.5L68.0 47.0L70.8 37.5L75.0 29.0L80.0 22.1L86.0 16.7L92.5 13.2L99.5 11.8L108.0 12.4L116.6 15.0L124.5 19.4L131.5 25.4L137.4 33.0L141.8 41.5L144.8 51.0L146.2 61.0L145.8 71.0L143.8 80.5L140.1 90.0L135.0 98.8L128.5 106.9L121.0 113.5L113.0 118.1L105.0 120.5Z" fill="#fe5c00"/><path d="M102.0 119.0L96.0 118.3L90.0 115.4L84.0 110.2L78.5 103.0L73.8 94.5L70.3 85.0L68.0 75.0L67.2 65.0L67.7 55.0L69.5 45.5L72.5 36.6L76.5 28.9L81.5 22.5L87.5 17.5L94.0 14.4L100.5 13.4L109.0 14.3L117.1 17.0L124.7 21.5L131.5 27.7L137.0 35.2L141.2 44.0L143.8 53.5L144.8 63.0L144.1 73.0L141.7 82.5L137.5 92.0L132.0 100.5L125.0 108.2L117.5 113.9L109.9 117.5L102.0 119.0Z" fill="#fe4f00"/><path d="M103.5 117.0L97.5 116.8L91.5 114.5L85.5 109.7L80.0 103.0L75.4 95.0L71.8 86.0L69.4 76.5L68.4 66.5L68.7 56.5L70.3 47.0L73.1 38.5L77.0 30.6L82.0 24.1L87.5 19.4L93.5 16.4L100.0 15.1L108.0 15.8L116.0 18.4L123.5 22.7L130.0 28.4L135.4 35.5L139.5 43.8L142.1 52.5L143.3 62.0L142.8 71.5L140.8 80.5L137.2 89.5L132.0 98.0L125.6 105.5L118.5 111.3L111.0 115.2L103.5 117.0Z" fill="#fd4300"/><path d="M104.0 115.0L98.0 115.0L92.5 113.0L86.5 108.6L81.3 102.5L76.5 94.5L73.0 85.9L70.6 76.5L69.6 67.0L69.8 57.5L71.3 48.0L74.0 39.5L77.8 32.0L82.5 25.7L87.9 21.0L94.0 18.0L100.0 16.9L108.0 17.6L115.5 20.0L122.5 24.0L129.0 29.8L134.1 36.5L138.1 44.5L140.6 53.0L141.7 62.0L141.3 71.0L139.3 80.0L135.9 88.5L131.2 96.5L125.3 103.5L118.5 109.2L111.5 113.1L104.0 115.0Z" fill="#fd3700"/><path d="M104.0 113.1L98.0 113.0L92.5 111.0L87.0 106.9L82.0 101.1L77.5 93.5L74.0 85.0L71.8 76.0L70.8 67.0L71.0 58.0L72.4 49.0L75.0 40.6L78.5 33.5L83.0 27.4L88.0 23.0L94.0 19.9L100.0 18.7L107.5 19.4L115.0 21.8L122.0 25.8L127.8 31.0L132.8 37.5L136.6 45.0L139.0 53.0L140.1 62.0L139.7 71.0L137.8 79.5L134.5 87.8L130.0 95.4L124.4 102.0L117.9 107.5L111.0 111.2L104.0 113.1Z" fill="#fc2b00"/><path d="M103.5 111.0L98.0 110.9L92.5 108.9L87.4 105.0L82.5 99.2L78.3 92.0L75.1 84.0L73.0 75.5L72.0 66.5L72.2 58.0L73.6 49.5L76.0 41.8L79.5 34.7L83.7 29.0L88.8 24.5L94.5 21.6L100.0 20.6L107.5 21.3L114.3 23.5L120.5 27.0L126.5 32.2L131.3 38.5L135.0 45.7L137.4 53.5L138.5 62.0L138.1 70.5L136.3 79.0L133.1 87.0L128.5 94.5L123.0 101.0L116.8 106.0L110.0 109.5L103.5 111.0Z" fill="#fb1f00"/><path d="M102.0 109.0L97.0 108.6L92.0 106.3L87.0 102.2L82.5 96.5L78.7 89.5L75.9 82.0L74.0 73.5L73.3 65.0L73.7 57.0L75.1 49.0L77.5 41.9L81.0 35.1L85.0 30.0L90.0 25.9L95.0 23.5L100.5 22.6L107.5 23.3L114.5 25.7L120.5 29.3L126.0 34.4L130.5 40.5L133.8 47.5L135.9 55.0L136.8 63.0L136.3 71.0L134.5 79.0L131.1 87.0L126.7 94.0L121.0 100.3L115.0 104.8L108.5 107.8L102.0 109.0Z" fill="#fb1200"/><path d="M104.5 106.5L99.0 106.7L94.5 105.4L89.5 102.1L85.0 97.3L81.1 91.0L78.0 84.0L75.8 76.0L74.8 68.0L74.8 60.0L75.9 52.0L78.0 44.6L81.0 38.2L85.0 32.6L89.4 28.5L94.5 25.8L99.5 24.7L106.0 25.1L112.5 27.0L118.5 30.3L123.9 35.0L128.3 40.5L131.7 47.0L133.9 54.0L134.9 61.5L134.7 69.0L133.3 76.5L130.6 84.0L126.9 90.5L122.0 96.6L116.5 101.4L110.5 104.8L104.5 106.5Z" fill="#fa0600"/><path d="M105.0 104.1L99.5 104.4L95.0 103.2L90.5 100.4L86.2 96.0L82.5 90.3L79.4 83.5L77.3 76.0L76.2 68.0L76.2 60.5L77.2 53.0L79.1 46.0L82.0 39.8L85.7 34.5L90.0 30.5L94.5 28.0L99.5 26.9L105.5 27.2L111.5 28.9L117.0 31.8L122.1 36.0L126.2 41.0L129.6 47.0L131.9 54.0L133.0 61.0L132.9 68.5L131.6 75.5L129.4 82.0L125.9 88.5L121.5 94.2L116.5 98.8L111.0 102.1L105.0 104.1Z" fill="#f40000"/><path d="M105.0 101.6L100.0 102.0L95.8 101.0L91.5 98.5L87.4 94.5L83.7 89.0L80.8 82.5L78.8 75.5L77.7 68.0L77.7 61.0L78.6 54.0L80.3 47.5L83.0 41.5L86.5 36.4L90.5 32.7L95.0 30.2L99.5 29.2L105.5 29.5L111.0 31.1L116.3 34.0L121.0 38.0L125.0 42.9L128.0 48.5L130.0 54.5L131.0 61.0L130.9 68.0L129.8 74.5L127.6 81.0L124.4 87.0L120.2 92.5L115.5 96.7L110.5 99.7L105.0 101.6Z" fill="#e80000"/><path d="M104.0 99.1L99.5 99.3L95.5 98.2L91.5 95.6L87.6 91.5L84.4 86.5L81.9 80.5L80.2 74.0L79.3 67.0L79.3 60.5L80.2 54.0L82.0 47.9L84.6 42.5L87.8 38.0L91.5 34.6L95.5 32.5L100.0 31.5L105.5 32.0L110.5 33.5L115.5 36.3L119.8 40.0L123.5 44.7L126.3 50.0L128.2 56.0L129.0 62.0L128.8 68.5L127.6 74.5L125.5 80.5L122.5 86.0L118.5 91.0L114.0 94.9L109.0 97.6L104.0 99.1Z" fill="#db0000"/><path d="M105.0 96.0L100.5 96.5L97.0 95.9L93.0 93.7L89.6 90.5L86.5 86.1L84.0 80.9L82.2 75.0L81.1 68.5L81.0 62.0L81.6 56.0L83.1 50.5L85.4 45.0L88.1 41.0L91.6 37.5L95.5 35.2L99.5 34.2L104.5 34.4L109.5 35.9L114.0 38.3L117.9 41.5L121.2 45.5L124.0 50.5L125.7 55.5L126.6 61.0L126.6 67.0L125.8 72.5L124.0 78.1L121.2 83.5L117.9 88.0L114.0 91.6L109.5 94.4L105.0 96.0Z" fill="#cf0000"/><path d="M104.5 93.0L100.5 93.4L97.0 92.7L93.5 90.8L90.5 87.9L87.8 84.0L85.5 79.2L83.9 74.0L83.0 68.0L82.8 62.5L83.4 57.0L84.8 51.5L86.8 47.0L89.4 43.0L92.5 40.0L96.0 37.9L99.5 37.0L104.0 37.2L108.5 38.5L112.5 40.6L116.0 43.4L119.1 47.0L121.5 51.2L123.2 56.0L124.1 61.0L124.2 66.0L123.5 71.5L121.9 76.5L119.4 81.5L116.5 85.5L112.9 89.0L108.9 91.5L104.5 93.0Z" fill="#c30000"/><path d="M101.5 90.0L98.5 89.8L95.5 88.5L92.5 86.1L90.0 83.0L86.4 75.0L84.9 65.0L85.9 55.5L89.2 47.5L91.5 44.5L94.5 42.0L97.5 40.6L100.5 40.1L104.5 40.5L108.5 41.8L112.2 44.0L115.4 47.0L117.9 50.5L119.9 54.5L121.1 59.0L121.6 63.5L121.2 68.5L120.2 73.0L118.4 77.5L116.0 81.5L113.0 84.8L109.5 87.5L105.5 89.3L101.5 90.0Z" fill="#b70000"/><path d="M102.5 86.1L99.5 86.1L97.0 85.3L92.5 81.5L88.9 74.5L87.3 66.0L87.8 58.0L90.5 50.7L92.5 47.8L95.0 45.5L97.5 44.2L100.0 43.6L103.5 43.9L106.5 44.7L109.5 46.3L112.5 48.7L114.8 51.5L116.7 55.0L118.4 62.5L117.7 70.5L114.4 78.0L112.0 81.0L109.0 83.5L106.0 85.1L102.5 86.1Z" fill="#aa0000"/><path d="M102.0 81.5L99.5 81.5L97.5 80.8L93.9 77.5L91.2 72.0L90.0 65.0L90.6 58.5L92.9 53.0L96.5 49.1L100.5 47.8L105.5 48.8L110.2 52.0L113.4 57.0L114.8 63.0L114.1 69.5L111.3 75.5L107.0 79.7L102.0 81.5Z" fill="#9e0000"/><path d="M101.5 75.5L98.6 75.0L96.3 73.0L94.5 69.4L93.7 65.0L94.1 60.5L95.5 56.9L97.6 54.5L100.5 53.4L104.0 54.1L107.0 56.2L109.1 59.5L110.0 63.5L109.5 67.6L107.7 71.5L105.0 74.2L101.5 75.5Z" fill="#920000"/><mask id="m5" maskUnits="userSpaceOnUse" x="-10" y="-10" width="240" height="210"><rect x="-10" y="-10" width="240" height="210" fill="#fff"/><rect x="-4.8" y="-3.8" width="9.6" height="7.6" fill="#000" transform="translate(141.245,105.5) rotate(-54.9149)"/></mask><path d="M103.5 132.1L100.0 132.3L96.5 131.8L92.5 130.3L89.0 128.3L84.5 124.8L81.6 122.0L77.7 117.5L74.8 113.5L70.7 107.0L68.6 103.0L66.2 98.0L63.7 91.5L62.2 86.5L60.6 80.0L59.7 74.0L59.1 67.0L59.2 60.0L59.7 53.5L61.7 42.0L63.3 36.5L65.7 30.0L67.8 25.5L70.7 20.5L74.2 15.5L77.4 12.0L81.0 8.7L84.5 6.2L88.0 4.3L92.0 2.7L96.0 1.7L100.0 1.3L106.5 1.6L110.0 2.2L116.0 3.7L121.0 5.7L126.0 8.3L131.0 11.7L134.5 14.6L138.8 19.0L141.7 22.5L145.2 27.5L147.7 32.0L150.3 37.5L152.2 43.0L153.8 49.0L154.8 55.0L155.3 62.0L155.3 67.5L154.7 73.0L153.8 78.0L151.9 85.0L149.3 91.5L146.8 96.5L143.3 102.5L139.8 107.5L134.8 113.5L131.0 117.4L126.0 121.8L122.0 124.8L117.0 127.9L111.5 130.3L106.0 131.8L103.5 132.1Z" fill="none" stroke="#3838a4" stroke-width="1.0" mask="url(#m5)"/><text x="0" y="3.4" font-size="9.5" text-anchor="middle" font-family="Liberation Sans" style="fill:#3838a4;stroke:#3838a4;stroke-width:0.3" transform="translate(141.245,105.5) rotate(-54.9149)">25</text></g><rect x="37" y="20.5" width="217" height="186" fill="none" stroke="#333" stroke-width="1"/><rect x="258.6" y="20.5" width="9" height="186" fill="url(#cb)" stroke="#333" stroke-width="1"/><line x1="265.1" x2="267.6" y1="57.7" y2="57.7" stroke="#222" stroke-width="1"/><line x1="265.1" x2="267.6" y1="94.9" y2="94.9" stroke="#222" stroke-width="1"/><line x1="265.1" x2="267.6" y1="132.1" y2="132.1" stroke="#222" stroke-width="1"/><line x1="265.1" x2="267.6" y1="169.3" y2="169.3" stroke="#222" stroke-width="1"/><text x="270.5" y="25.0" font-size="10.8" text-anchor="start" font-family="Liberation Sans">32.0</text><text x="270.5" y="62.2" font-size="10.8" text-anchor="start" font-family="Liberation Sans">26.6</text><text x="270.5" y="99.4" font-size="10.8" text-anchor="start" font-family="Liberation Sans">21.2</text><text x="270.5" y="136.6" font-size="10.8" text-anchor="start" font-family="Liberation Sans">15.8</text><text x="270.5" y="173.8" font-size="10.8" text-anchor="start" font-family="Liberation Sans">10.4</text><text x="270.5" y="211.0" font-size="10.8" text-anchor="start" font-family="Liberation Sans">5.0</text><text x="302.0" y="15.2" font-size="11" text-anchor="end" font-family="Liberation Sans">temperature(°C)</text><text x="32.1" y="211.0" font-size="10.8" text-anchor="end" font-family="Liberation Sans">0</text><text x="32.1" y="180.0" font-size="10.8" text-anchor="end" font-family="Liberation Sans">20</text><text x="32.1" y="149.0" font-size="10.8" text-anchor="end" font-family="Liberation Sans">40</text><text x="32.1" y="118.0" font-size="10.8" text-anchor="end" font-family="Liberation Sans">60</text><text x="32.1" y="87.0" font-size="10.8" text-anchor="end" font-family="Liberation Sans">80</text><text x="32.1" y="56.0" font-size="10.8" text-anchor="end" font-family="Liberation Sans">100</text><text x="32.1" y="25.0" font-size="10.8" text-anchor="end" font-family="Liberation Sans">120</text><text x="37.0" y="220.2" font-size="11" text-anchor="middle" font-family="Liberation Sans">−70</text><text x="91.2" y="220.2" font-size="11" text-anchor="middle" font-family="Liberation Sans">−35</text><text x="145.5" y="220.2" font-size="11" text-anchor="middle" font-family="Liberation Sans">0</text><text x="199.8" y="220.2" font-size="11" text-anchor="middle" font-family="Liberation Sans">35</text><text x="254.0" y="220.2" font-size="11" text-anchor="middle" font-family="Liberation Sans">70</text><text x="145.0" y="232.4" font-size="11.3" text-anchor="middle" font-family="Liberation Sans">diameter(mm)</text><text transform="translate(11.8,114) rotate(-90)" font-size="11.5" text-anchor="middle" font-family="Liberation Sans">height(mm)</text><text x="145.0" y="253.7" font-size="18.3" text-anchor="middle" font-family="Liberation Serif">day 8</text></g>
<g transform="translate(0,514)"><g transform="translate(37,20.5)" clip-path="url(#pc)"><rect x="0" y="0" width="217" height="186" fill="#00d57e"/><path d="M211.5 186.0L0.0 186.0L0.0 0.0L217.0 0.0L217.0 181.6L211.5 186.0Z" fill="#00d778"/><path d="M204.0 186.0L1.9 186.0L0.0 184.3L0.0 0.0L217.0 0.0L217.0 174.5L204.0 186.0Z" fill="#1fda6f"/><path d="M195.0 186.0L12.6 186.0L0.0 174.6L0.0 0.0L212.3 0.0L217.0 6.1L217.0 165.8L206.5 174.3L195.0 186.0Z" fill="#3fdc67"/><path d="M185.5 186.0L24.8 186.0L12.5 172.1L0.0 161.7L0.0 10.0L6.3 0.0L206.3 0.0L217.0 15.8L217.0 154.7L209.1 160.0L202.0 166.3L195.0 174.0L185.5 186.0Z" fill="#5edf5e"/><path d="M175.5 186.0L37.2 186.0L20.0 160.0L9.5 150.7L0.0 143.4L0.0 26.0L12.6 0.0L200.6 0.0L217.0 29.2L217.0 139.0L206.0 147.4L192.7 159.5L175.5 186.0Z" fill="#73e055"/><path d="M165.0 186.0L48.4 186.0L34.9 160.0L19.9 142.5L10.2 128.0L4.7 116.0L1.4 103.0L0.0 86.6L0.1 75.0L1.3 64.5L5.2 44.0L9.3 26.5L13.5 12.5L18.2 0.0L195.4 0.0L205.8 24.0L217.0 55.0L217.0 105.1L212.8 115.5L206.7 126.0L195.1 142.0L180.0 159.5L171.4 176.0L165.5 186.0L165.0 186.0Z" fill="#7ee14b"/><path d="M155.5 186.0L57.9 186.0L50.6 173.0L44.4 160.0L32.0 145.0L23.9 132.5L18.3 120.0L14.9 107.5L13.4 95.5L12.8 80.5L14.5 40.5L15.7 29.0L17.5 19.0L19.9 9.5L23.3 0.0L190.5 0.0L195.4 12.0L199.7 25.0L202.8 37.5L205.3 51.0L206.9 64.0L207.2 73.5L206.6 84.0L204.8 96.0L200.3 113.0L197.1 121.0L193.1 129.0L183.5 144.0L170.6 159.5L163.4 173.5L155.5 186.0Z" fill="#88e241"/><path d="M145.5 186.0L66.2 186.0L58.6 174.0L51.1 159.5L41.0 147.5L34.0 137.5L28.0 126.5L23.8 115.0L21.2 103.0L20.0 88.5L19.8 70.0L20.9 30.0L23.4 14.5L27.9 0.0L185.9 0.0L190.2 11.0L193.8 23.0L196.5 35.5L198.3 49.0L199.4 64.5L199.4 75.0L198.4 87.0L196.2 99.5L193.9 108.5L191.0 117.0L187.6 125.0L183.4 133.0L174.6 146.0L163.1 159.5L154.5 174.4L149.0 182.1L145.5 186.0Z" fill="#93e337"/><path d="M135.5 186.0L74.1 186.0L65.4 174.5L56.9 159.5L44.5 144.5L36.2 132.0L31.2 121.5L27.8 110.5L25.8 99.0L24.8 85.0L24.9 41.5L25.4 28.5L27.8 13.5L32.2 0.0L181.6 0.0L185.9 11.0L189.3 23.0L191.7 35.5L193.2 49.5L194.0 65.5L193.7 77.0L192.3 90.0L189.7 103.0L186.9 112.5L183.6 121.0L179.5 129.5L174.7 137.5L166.6 148.5L156.6 159.5L151.4 168.0L146.0 175.3L140.0 182.1L135.5 186.0Z" fill="#9de42d"/><path d="M124.5 186.0L82.6 186.0L76.5 180.5L70.7 173.5L61.9 159.5L52.1 148.0L45.3 139.0L37.4 125.5L33.5 115.5L30.8 105.0L29.3 93.0L28.7 78.5L28.7 40.0L29.3 27.5L31.7 13.0L36.2 0.0L177.5 0.0L181.9 11.0L185.3 23.0L187.6 36.0L189.0 50.5L189.6 66.5L189.1 79.0L187.3 93.0L184.3 106.0L181.1 115.5L177.2 124.5L172.5 133.0L166.8 141.5L159.4 150.5L150.7 159.5L145.1 167.5L139.5 174.1L132.0 181.0L124.5 186.0Z" fill="#a8e523"/><path d="M105.0 186.0L96.8 186.0L91.5 184.6L85.0 181.1L78.4 175.5L72.5 168.7L66.4 159.5L56.5 148.0L49.2 138.5L42.7 128.0L38.1 118.0L35.3 109.0L33.4 99.5L32.4 89.0L32.0 76.5L32.3 30.5L34.0 18.0L37.3 6.5L40.0 0.0L173.6 0.0L178.6 12.0L182.2 25.0L184.5 39.5L185.7 57.0L185.8 72.0L184.5 86.5L181.8 100.5L177.8 113.5L171.9 126.5L164.0 139.0L156.7 148.0L145.3 159.5L136.5 169.8L129.0 176.3L121.5 181.0L113.5 184.3L105.0 186.0Z" fill="#b3e619"/><path d="M104.0 180.5L97.0 180.5L91.0 178.7L85.0 175.3L79.0 170.1L70.6 159.5L59.2 146.5L52.3 137.5L45.5 126.5L40.7 116.0L38.1 107.5L36.3 98.0L35.3 87.5L34.9 75.0L35.2 31.5L36.8 19.5L39.9 8.5L43.6 0.0L169.8 0.0L175.0 11.5L178.6 24.0L181.1 38.0L182.4 54.0L182.6 70.0L181.5 84.0L178.9 98.5L175.0 111.5L168.6 125.5L160.5 138.0L151.6 148.5L139.9 159.5L134.4 165.5L127.5 171.3L120.0 175.9L112.0 179.0L104.0 180.5Z" fill="#bde70f"/><path d="M104.5 175.5L98.0 175.6L92.0 174.1L86.0 170.8L80.5 166.2L64.6 148.5L55.9 137.5L48.5 126.0L43.4 115.0L40.7 106.5L39.0 97.5L37.9 87.5L37.5 75.5L37.8 33.0L39.3 21.5L42.2 11.0L47.1 0.0L166.2 0.0L171.3 10.5L175.2 22.5L177.8 35.5L179.3 50.5L179.8 67.0L178.9 81.0L176.6 95.0L172.8 108.5L168.3 119.5L162.3 130.0L155.3 139.5L146.5 149.1L130.0 163.9L123.5 168.7L114.0 173.3L104.5 175.5Z" fill="#c8e805"/><path d="M104.5 171.0L98.5 171.2L93.0 169.9L87.5 167.1L81.8 162.5L69.0 149.3L58.9 137.0L51.3 125.5L45.8 114.0L43.3 106.0L41.4 97.0L40.4 87.5L39.9 75.5L40.2 35.0L41.6 23.5L44.2 13.5L47.0 6.5L50.5 0.0L162.5 0.0L167.8 10.0L172.0 21.5L174.8 34.0L176.5 48.5L177.2 65.5L176.5 79.0L174.3 93.0L170.7 106.0L166.3 117.0L160.5 127.5L153.5 137.1L145.0 146.3L135.5 154.7L122.0 164.8L113.5 168.9L104.5 171.0Z" fill="#d2e700"/><path d="M102.5 167.0L96.0 166.6L90.0 164.3L85.0 160.9L75.5 152.4L66.1 142.0L58.1 131.5L52.2 122.0L47.7 112.0L45.2 104.0L43.5 95.5L42.5 86.0L42.0 74.0L42.4 36.0L43.8 25.0L46.3 15.5L49.6 7.5L53.8 0.0L158.9 0.0L164.5 9.5L168.9 20.5L172.0 33.0L174.0 47.0L174.8 63.5L174.2 77.0L172.1 91.0L168.5 104.5L164.0 115.5L158.2 126.0L151.0 135.7L142.5 144.7L131.5 154.0L119.5 161.8L111.0 165.5L102.5 167.0Z" fill="#dde600"/><path d="M104.0 163.0L97.5 163.0L92.0 161.4L85.5 157.5L78.0 151.2L69.0 141.7L61.0 131.5L54.7 121.5L50.2 112.0L47.6 104.0L45.7 95.5L44.6 86.5L44.1 75.5L44.4 38.5L45.6 28.0L47.9 18.5L51.7 9.0L57.1 0.0L155.3 0.0L161.1 9.0L165.8 19.5L169.1 31.0L171.3 44.0L172.4 59.5L172.2 74.0L170.3 88.0L167.1 101.0L162.9 112.0L157.5 122.2L151.0 131.5L142.8 140.5L133.0 149.1L122.5 156.3L112.5 161.0L104.0 163.0Z" fill="#e8e400"/><path d="M102.5 159.5L96.5 159.2L90.5 157.0L84.0 152.9L77.0 146.7L69.0 138.0L61.7 128.5L56.0 119.1L51.8 110.0L49.3 102.0L47.6 94.0L46.0 74.0L46.3 40.0L47.6 29.5L49.8 20.5L54.0 10.0L60.4 0.0L151.6 0.0L157.8 8.5L162.8 18.5L166.4 29.5L168.9 42.5L170.2 57.5L170.2 72.0L168.5 86.0L165.3 99.0L161.2 110.0L155.6 120.5L149.0 129.9L141.0 138.6L131.0 147.1L121.0 153.6L111.5 157.8L102.5 159.5Z" fill="#f2e300"/><path d="M103.5 156.0L97.5 156.0L92.0 154.3L86.0 151.0L79.0 145.2L71.1 137.0L64.0 127.8L58.2 118.5L53.9 109.5L51.4 102.0L49.6 94.0L47.8 75.5L48.1 42.5L49.2 32.5L51.0 24.0L53.2 17.5L56.0 11.5L59.6 5.5L63.7 0.0L147.9 0.0L154.3 8.0L159.7 17.5L163.6 28.0L166.4 40.0L168.1 54.5L168.3 69.0L167.0 82.0L164.2 95.0L160.4 106.0L155.3 116.5L148.9 126.0L141.0 135.0L131.5 143.3L121.5 150.0L112.0 154.2L103.5 156.0Z" fill="#fde100"/><path d="M105.5 152.5L99.0 152.9L93.5 151.7L87.5 148.7L81.5 144.2L74.0 136.9L66.8 128.0L60.9 119.0L56.4 110.0L53.6 102.5L51.7 95.0L50.4 86.5L49.6 77.0L49.7 46.0L50.6 36.0L52.3 27.5L54.6 20.0L58.0 12.6L62.1 6.0L67.1 0.0L144.0 0.0L150.8 7.5L156.2 16.0L160.6 26.0L163.8 37.5L165.9 51.0L166.5 65.5L165.6 78.5L163.2 91.0L159.7 102.0L154.9 112.5L149.0 121.9L141.9 130.5L133.0 138.8L123.5 145.6L114.5 150.1L105.5 152.5Z" fill="#ffdc00"/><path d="M104.5 149.5L98.5 149.7L93.0 148.4L87.0 145.3L81.0 140.7L74.0 133.6L67.6 125.5L62.1 117.0L57.9 108.5L55.3 101.5L53.4 94.0L51.3 76.5L51.3 48.0L52.2 38.5L53.7 30.0L56.3 21.5L60.0 13.7L64.7 6.5L70.4 0.0L140.0 0.0L147.2 7.0L153.3 15.5L157.9 25.0L161.4 36.0L163.8 49.0L164.7 63.0L164.1 75.5L161.9 88.0L158.5 99.5L153.8 110.0L148.0 119.4L141.0 128.0L132.0 136.4L122.5 143.0L113.5 147.3L104.5 149.5Z" fill="#ffd500"/><path d="M104.5 146.5L98.5 146.7L93.5 145.6L88.0 142.9L82.0 138.5L75.5 132.1L69.4 124.5L64.0 116.3L59.8 108.0L57.1 101.0L55.1 93.5L52.9 77.0L52.8 51.5L53.6 41.5L54.9 33.5L57.6 24.0L61.8 15.0L67.2 7.0L73.9 0.0L135.7 0.0L143.3 6.5L149.8 14.5L154.9 23.5L158.8 34.0L161.6 46.5L162.8 59.5L162.6 72.0L160.8 84.5L157.6 96.0L153.2 106.5L147.5 116.3L140.5 125.1L132.0 133.3L122.5 140.0L113.5 144.3L104.5 146.5Z" fill="#ffce00"/><path d="M105.0 143.6L97.5 143.7L91.0 141.6L84.0 137.2L76.5 130.0L69.0 120.5L63.1 110.5L58.9 100.5L56.0 89.5L54.4 76.5L54.1 60.5L54.9 45.0L56.9 33.0L60.0 23.3L64.5 14.5L70.5 6.6L77.6 0.0L131.0 0.0L136.5 3.7L141.4 8.0L145.5 12.5L149.4 18.0L155.4 30.0L159.4 44.5L161.2 61.5L160.3 77.5L156.6 93.0L153.8 100.5L150.4 107.5L146.1 114.5L141.5 120.6L136.0 126.5L130.0 131.8L124.0 136.1L117.5 139.7L111.0 142.2L105.0 143.6Z" fill="#ffc800"/><path d="M102.5 141.0L97.5 140.9L92.5 139.5L87.5 136.8L82.5 133.0L77.0 127.5L71.5 120.6L66.9 113.5L63.0 106.0L58.5 93.0L56.1 78.0L55.6 58.5L57.1 40.5L60.3 28.0L65.5 16.9L73.0 7.1L81.6 0.0L125.8 0.0L134.5 5.3L142.0 12.1L148.4 20.5L153.2 30.0L156.8 41.0L159.0 53.5L159.6 66.5L158.4 78.5L155.5 90.5L151.2 101.5L145.6 111.5L138.7 120.5L130.0 128.8L121.0 135.0L111.5 139.3L102.5 141.0Z" fill="#ffc100"/><path d="M105.0 138.0L97.5 138.1L90.5 135.8L83.5 131.0L76.2 123.5L69.4 114.0L64.0 103.7L60.3 93.0L58.0 81.5L57.0 68.0L57.3 53.0L58.8 40.5L61.6 30.0L65.8 20.5L71.5 12.0L78.5 4.9L86.2 0.0L119.6 0.0L126.5 3.0L133.0 7.1L137.7 11.0L142.0 15.5L149.0 25.8L154.1 38.0L157.2 52.0L158.0 66.5L156.4 80.5L152.2 94.5L146.1 107.0L137.5 118.5L127.0 128.2L121.5 131.9L116.0 134.8L110.5 136.8L105.0 138.0Z" fill="#ffbb00"/><path d="M103.5 135.5L96.0 135.2L89.0 132.3L81.5 126.3L74.3 118.0L68.1 108.0L63.5 97.5L60.4 86.5L58.7 74.0L58.3 60.5L59.4 47.0L61.6 36.0L65.2 26.0L70.5 16.7L77.0 9.1L84.5 3.4L92.4 0.0L111.1 0.0L115.2 1.0L126.1 5.5L135.9 12.5L143.9 21.5L149.9 32.0L154.0 44.1L156.2 57.5L156.1 71.0L153.9 84.0L149.4 96.5L143.0 108.1L134.5 118.6L124.5 127.2L114.0 132.9L108.5 134.7L103.5 135.5Z" fill="#ffb400"/><path d="M102.5 133.0L98.5 133.0L95.0 132.3L87.5 128.6L80.0 121.9L72.8 112.5L67.2 102.0L63.2 91.0L60.7 79.0L59.7 66.5L60.2 53.0L62.0 41.0L65.3 30.5L70.0 21.0L76.0 13.0L83.5 6.5L91.5 2.6L99.5 1.2L110.5 2.2L121.0 5.5L130.5 11.0L138.5 18.2L145.3 27.5L150.3 38.0L153.6 50.0L154.9 62.5L154.2 74.5L151.4 86.5L146.5 98.4L139.9 109.0L131.5 118.5L122.0 126.0L112.0 131.0L102.5 133.0Z" fill="#ffad00"/><path d="M101.5 130.5L94.5 129.6L87.5 125.9L80.0 119.0L73.5 110.1L68.2 100.0L64.3 89.0L61.9 77.5L61.0 65.5L61.6 53.0L63.6 41.5L67.0 31.0L71.6 22.0L77.5 14.3L84.5 8.4L92.0 4.7L100.0 3.4L110.5 4.4L120.5 7.7L129.5 13.0L137.7 20.5L144.2 29.5L149.2 40.0L152.3 51.5L153.4 63.5L152.6 75.0L149.7 86.5L144.6 98.0L138.0 108.2L129.5 117.4L120.5 124.3L111.0 128.8L101.5 130.5Z" fill="#ffa600"/><path d="M101.0 128.0L97.5 127.8L94.0 126.9L87.5 123.3L81.3 117.5L74.6 108.5L69.6 99.0L65.6 88.0L63.1 76.5L62.2 64.5L63.1 51.5L65.2 41.5L68.7 31.5L73.2 23.0L78.6 16.0L85.5 10.1L92.5 6.7L100.0 5.5L110.5 6.6L119.5 9.7L128.0 14.6L136.2 22.0L142.3 30.0L147.8 41.0L150.9 52.0L152.0 63.5L151.2 74.0L148.3 85.5L143.4 96.5L136.4 107.0L128.0 115.9L118.5 122.8L109.0 126.8L101.0 128.0Z" fill="#ff9d00"/><path d="M105.5 126.1L98.0 126.3L91.5 124.2L84.9 119.5L78.2 112.0L72.4 102.5L67.7 91.5L64.7 80.0L63.3 68.5L63.5 57.0L65.1 46.0L68.2 35.5L72.6 26.0L78.0 18.4L84.5 12.3L91.5 8.5L99.0 6.9L108.5 7.7L118.0 10.5L126.9 15.5L134.4 22.0L140.8 30.0L145.8 39.5L149.1 49.5L150.7 60.5L150.3 71.5L148.2 82.0L144.1 92.5L138.5 102.1L131.2 111.0L123.0 118.2L114.5 123.3L105.5 126.1Z" fill="#ff9500"/><path d="M101.0 125.0L94.5 124.0L88.0 120.5L82.0 115.0L76.0 106.9L71.0 97.4L67.3 87.0L64.9 76.0L64.1 65.0L64.6 54.0L66.6 43.5L70.0 33.5L74.4 25.0L79.8 18.0L86.0 12.8L93.0 9.4L100.0 8.2L109.5 9.2L119.0 12.4L127.5 17.5L135.0 24.5L141.2 33.0L145.7 42.5L148.5 52.5L149.6 63.5L148.7 74.5L145.9 85.0L141.2 95.5L134.8 105.0L127.0 113.4L118.5 119.6L110.0 123.5L101.0 125.0Z" fill="#ff8c00"/><path d="M100.5 123.5L94.5 122.5L88.0 118.9L81.7 113.0L76.0 105.0L71.2 95.5L67.8 85.5L65.7 75.0L64.9 64.5L65.6 54.0L67.5 43.8L70.6 34.5L75.0 26.0L80.5 19.0L86.5 13.9L93.0 10.8L100.0 9.6L109.5 10.6L118.5 13.7L127.0 18.8L134.2 25.5L140.0 33.5L144.6 43.0L147.4 53.5L148.4 64.0L147.5 74.5L144.6 85.0L140.0 95.1L133.7 104.5L126.0 112.5L117.5 118.6L109.0 122.3L100.5 123.5Z" fill="#ff8300"/><path d="M105.0 121.6L98.0 121.8L92.0 119.9L85.5 115.2L79.6 108.5L74.2 99.5L70.0 89.5L67.3 79.0L66.0 68.5L66.1 58.0L67.6 47.5L70.5 37.5L74.5 29.0L79.5 21.8L85.5 16.2L92.0 12.6L99.0 11.1L108.0 11.8L116.5 14.3L124.5 18.7L131.9 25.0L137.9 32.5L142.5 41.2L145.6 51.0L147.0 61.0L146.7 71.0L144.6 81.0L141.0 90.5L135.5 100.0L128.5 108.4L121.0 114.8L113.0 119.3L105.0 121.6Z" fill="#ff7b00"/><path d="M104.5 120.1L98.0 120.2L92.0 118.2L86.0 114.0L80.0 107.1L75.0 98.9L70.9 89.0L68.1 78.5L66.9 68.0L67.1 57.5L68.6 47.5L71.4 38.0L75.5 29.5L80.5 22.5L86.0 17.5L92.5 13.9L99.0 12.6L107.5 13.2L116.0 15.7L124.0 20.1L131.0 26.0L136.9 33.5L141.4 42.0L144.4 51.5L145.7 61.0L145.4 71.0L143.5 80.5L139.8 90.0L134.5 99.1L128.0 107.0L120.5 113.4L112.5 117.8L104.5 120.1Z" fill="#ff7200"/><path d="M103.5 118.5L97.5 118.5L91.5 116.3L85.5 111.7L80.0 105.1L75.2 97.0L71.4 87.5L69.0 77.5L67.8 67.0L68.1 57.0L69.7 47.0L72.6 38.0L76.5 30.0L81.5 23.2L87.0 18.4L93.0 15.3L99.5 14.0L108.0 14.8L116.0 17.3L123.5 21.5L130.5 27.6L136.2 35.0L140.5 43.3L143.3 52.5L144.4 62.0L144.0 71.5L141.9 81.0L138.1 90.5L132.9 99.0L126.5 106.5L119.0 112.6L111.5 116.5L103.5 118.5Z" fill="#ff6800"/><path d="M101.0 117.0L95.0 116.1L89.5 113.2L84.0 108.2L79.0 101.5L74.6 93.0L71.5 84.1L69.5 74.5L68.8 65.0L69.3 55.5L70.9 46.5L73.7 38.0L77.6 30.5L82.5 24.1L87.9 19.5L94.0 16.5L100.0 15.6L108.5 16.5L116.5 19.2L123.7 23.5L130.3 29.5L135.5 36.5L139.6 45.0L142.2 54.0L143.1 63.5L142.4 73.0L140.0 82.5L136.0 91.6L130.5 99.9L123.9 107.0L116.5 112.4L109.0 115.7L101.0 117.0Z" fill="#fe5c00"/><path d="M104.0 115.0L98.0 115.1L92.5 113.3L87.0 109.4L81.5 103.1L77.0 95.5L73.4 86.5L71.0 77.1L69.9 67.5L70.1 58.0L71.5 48.8L74.0 40.4L77.8 32.5L82.5 26.0L87.5 21.5L93.5 18.3L99.5 17.2L107.5 17.9L115.0 20.2L122.0 24.2L128.5 29.8L133.8 36.5L137.7 44.0L140.4 52.5L141.6 61.5L141.3 70.5L139.5 79.5L136.0 88.4L131.2 96.5L125.4 103.5L118.5 109.2L111.5 113.0L104.0 115.0Z" fill="#fe4f00"/><path d="M105.0 113.0L99.0 113.4L93.5 111.9L88.0 108.3L83.0 102.9L78.3 95.5L74.7 87.0L72.3 78.0L71.1 68.5L71.1 59.5L72.3 50.5L74.7 42.0L78.1 34.5L82.5 28.1L87.5 23.3L93.0 20.2L99.0 18.9L106.5 19.4L114.0 21.6L121.0 25.4L127.0 30.5L132.3 37.0L136.3 44.5L138.9 52.5L140.1 61.0L139.9 70.0L138.2 78.5L135.1 87.0L130.8 94.5L125.2 101.5L119.0 106.9L112.0 110.9L105.0 113.0Z" fill="#fd4300"/><path d="M102.0 111.5L96.5 111.1L91.5 108.9L86.5 104.8L81.6 98.5L77.5 91.0L74.7 83.0L72.8 74.5L72.0 65.5L72.4 57.0L73.9 48.5L76.5 40.6L80.0 33.8L84.0 28.5L89.0 24.2L94.5 21.5L100.0 20.6L107.5 21.3L114.5 23.7L121.1 27.5L127.0 32.8L131.7 39.0L135.4 46.5L137.8 54.5L138.7 63.0L138.2 71.5L136.2 80.0L132.9 88.0L128.0 95.7L122.3 102.0L115.7 107.0L109.0 110.1L102.0 111.5Z" fill="#fd3700"/><path d="M102.5 109.5L97.5 109.3L92.5 107.4L87.5 103.6L83.0 98.2L79.0 91.1L76.1 83.5L74.1 75.0L73.2 66.5L73.5 58.0L74.8 50.0L77.1 42.5L80.3 36.0L84.2 30.5L89.0 26.1L94.0 23.5L99.5 22.4L106.5 23.0L113.5 25.1L120.0 28.8L125.5 33.7L130.4 40.0L133.9 47.0L136.1 54.5L137.1 62.5L136.6 71.0L134.8 79.0L131.6 87.0L127.2 94.0L122.0 100.0L115.5 105.0L109.0 108.1L102.5 109.5Z" fill="#fc2b00"/><path d="M101.5 107.5L96.5 107.0L92.0 105.0L87.2 101.0L83.0 95.6L79.5 89.0L76.8 81.5L75.1 73.5L74.4 65.5L74.8 57.5L76.1 50.0L78.3 43.0L81.5 36.7L85.5 31.4L90.0 27.5L95.0 25.1L100.0 24.2L107.0 25.0L113.5 27.2L119.5 30.7L124.8 35.5L129.3 41.5L132.5 48.1L134.6 55.5L135.4 63.5L134.9 71.5L133.0 79.2L129.9 86.5L125.5 93.4L120.4 99.0L114.3 103.5L108.0 106.3L101.5 107.5Z" fill="#fb1f00"/><path d="M104.5 105.0L99.0 105.3L94.5 104.1L90.0 101.2L86.0 97.1L82.1 91.0L79.0 84.0L77.0 76.5L75.9 68.5L75.8 60.5L76.8 53.0L78.7 46.0L81.5 39.6L85.0 34.4L89.5 30.0L94.0 27.5L99.0 26.3L105.5 26.7L111.5 28.4L117.3 31.5L122.5 35.8L126.8 41.0L130.1 47.0L132.5 54.0L133.6 61.0L133.5 68.5L132.1 76.0L129.6 83.0L126.1 89.5L121.5 95.3L116.1 100.0L110.5 103.2L104.5 105.0Z" fill="#fb1200"/><path d="M102.5 103.0L98.0 102.9L93.5 101.3L89.5 98.3L85.5 93.6L82.0 87.5L79.5 81.0L77.9 74.0L77.1 66.5L77.2 59.5L78.3 52.5L80.2 46.0L83.0 40.2L86.5 35.3L90.5 31.6L95.0 29.2L99.5 28.3L105.5 28.8L111.5 30.6L117.0 33.7L121.9 38.0L126.0 43.3L129.0 49.2L131.0 55.8L131.8 62.5L131.5 69.5L130.0 76.7L127.3 83.5L123.7 89.5L119.0 95.0L114.0 98.9L108.5 101.6L102.5 103.0Z" fill="#fa0600"/><path d="M103.0 100.5L98.5 100.6L94.5 99.3L90.5 96.5L86.9 92.5L83.6 87.0L81.1 81.0L79.4 74.0L78.6 67.0L78.6 60.0L79.6 53.5L81.5 47.0L84.0 41.8L87.4 37.0L91.0 33.7L95.0 31.5L99.5 30.5L105.0 30.9L110.5 32.6L115.8 35.5L120.5 39.5L124.0 44.0L127.0 49.6L128.9 55.5L129.9 62.0L129.6 69.0L128.3 75.5L126.0 81.7L122.6 87.5L118.5 92.5L113.6 96.5L108.5 99.1L103.0 100.5Z" fill="#f40000"/><path d="M102.0 98.0L98.0 97.9L94.0 96.3L90.4 93.5L87.0 89.4L84.1 84.0L82.0 78.3L80.6 72.0L80.0 65.5L80.2 59.5L81.2 53.5L83.0 47.8L85.5 42.7L88.5 38.7L92.0 35.6L96.0 33.6L100.0 32.9L105.5 33.4L110.5 35.1L115.0 37.7L119.3 41.5L122.7 46.0L125.5 51.5L127.1 57.0L127.8 63.0L127.4 69.5L126.1 75.5L123.7 81.5L120.5 86.7L116.5 91.2L112.0 94.6L107.0 97.0L102.0 98.0Z" fill="#e80000"/><path d="M103.5 95.0L99.5 95.3L96.0 94.4L92.5 92.3L89.3 89.0L86.5 84.7L84.2 79.5L82.6 73.5L81.8 67.5L81.8 61.5L82.5 55.7L84.0 50.3L86.1 45.5L88.8 41.5L92.0 38.4L95.5 36.4L99.5 35.5L104.5 35.9L109.0 37.2L113.5 39.7L117.4 43.0L120.6 47.0L123.0 51.6L124.6 56.5L125.5 62.0L125.4 67.5L124.4 73.0L122.5 78.5L119.8 83.5L116.5 87.7L112.5 91.2L108.0 93.7L103.5 95.0Z" fill="#db0000"/><path d="M102.5 92.1L99.0 92.1L96.0 91.2L93.0 89.3L90.0 86.1L87.5 82.0L85.5 77.1L83.6 66.5L84.3 56.5L85.5 51.9L87.5 47.4L90.0 43.7L93.0 40.8L96.0 39.1L99.5 38.3L104.0 38.6L108.0 39.8L112.0 42.0L115.6 45.0L118.5 48.6L120.8 53.0L122.3 57.5L123.0 62.5L122.8 68.0L121.8 73.0L120.0 77.8L117.5 82.2L114.3 86.0L110.6 89.0L106.5 91.1L102.5 92.1Z" fill="#cf0000"/><path d="M102.5 88.6L99.5 88.7L96.5 87.9L94.0 86.3L91.3 83.5L87.5 76.0L85.7 66.5L86.2 57.5L89.0 49.5L93.5 44.0L96.5 42.2L99.5 41.5L103.5 41.8L107.0 42.8L110.5 44.7L113.5 47.1L116.0 50.2L118.1 54.0L119.5 58.0L120.2 62.5L120.1 67.0L119.3 71.5L117.6 76.0L115.5 79.8L112.9 83.0L109.5 85.8L106.0 87.6L102.5 88.6Z" fill="#c30000"/><path d="M102.0 84.6L99.5 84.6L97.0 83.9L94.5 82.2L92.5 79.9L89.4 73.5L88.0 65.5L88.7 58.0L91.1 51.5L95.0 47.0L97.5 45.7L100.0 45.2L106.0 46.3L111.5 50.1L115.3 56.0L116.9 63.0L116.1 70.5L113.0 77.2L108.0 82.3L105.0 83.8L102.0 84.6Z" fill="#b70000"/><path d="M101.0 79.5L97.5 78.8L94.1 75.5L92.0 70.9L91.1 65.0L91.5 59.5L93.5 54.4L96.5 51.1L100.0 49.9L105.0 50.9L109.0 53.9L111.8 58.5L112.8 63.5L112.0 69.5L109.5 74.5L105.5 78.1L101.0 79.5Z" fill="#aa0000"/><path d="M102.0 71.2L100.0 71.5L98.1 70.5L96.7 68.5L96.0 66.0L95.9 63.0L96.7 60.0L98.0 58.2L100.0 57.3L102.0 57.5L104.0 58.7L105.5 60.7L106.2 63.0L106.2 65.5L105.3 68.0L104.0 69.9L102.0 71.2Z" fill="#9e0000"/><mask id="m6" maskUnits="userSpaceOnUse" x="-10" y="-10" width="240" height="210"><rect x="-10" y="-10" width="240" height="210" fill="#fff"/><rect x="-4.8" y="-3.8" width="9.6" height="7.6" fill="#000" transform="translate(140,101.807) rotate(-56.3811)"/></mask><path d="M104.5 127.6L101.0 127.9L97.5 127.7L94.0 126.8L90.0 124.8L87.0 122.8L83.3 119.5L79.7 115.5L76.7 111.5L71.1 102.0L68.7 96.5L66.6 91.0L65.2 86.0L63.7 79.5L62.7 72.5L62.4 67.0L62.7 55.5L63.7 48.5L64.8 43.5L67.8 34.0L70.2 28.5L72.7 24.0L75.8 19.5L78.3 16.5L84.0 11.3L88.0 8.8L91.5 7.2L95.0 6.2L99.0 5.6L103.5 5.7L108.0 6.3L112.5 7.3L118.0 9.2L122.5 11.3L126.5 13.7L130.5 16.7L135.1 21.0L138.2 24.5L142.2 30.0L144.8 34.5L147.3 40.0L150.2 49.5L151.3 55.0L151.8 61.0L151.8 67.0L151.3 72.5L149.3 82.0L147.3 88.0L144.8 93.5L141.8 99.0L138.9 103.5L135.8 107.5L131.4 112.5L128.0 115.7L123.0 119.8L117.5 123.2L113.0 125.3L108.5 126.8L104.5 127.6Z" fill="none" stroke="#3838a4" stroke-width="1.0" mask="url(#m6)"/><text x="0" y="3.4" font-size="9.5" text-anchor="middle" font-family="Liberation Sans" style="fill:#3838a4;stroke:#3838a4;stroke-width:0.3" transform="translate(140,101.807) rotate(-56.3811)">25</text></g><rect x="37" y="20.5" width="217" height="186" fill="none" stroke="#333" stroke-width="1"/><rect x="258.6" y="20.5" width="9" height="186" fill="url(#cb)" stroke="#333" stroke-width="1"/><line x1="265.1" x2="267.6" y1="57.7" y2="57.7" stroke="#222" stroke-width="1"/><line x1="265.1" x2="267.6" y1="94.9" y2="94.9" stroke="#222" stroke-width="1"/><line x1="265.1" x2="267.6" y1="132.1" y2="132.1" stroke="#222" stroke-width="1"/><line x1="265.1" x2="267.6" y1="169.3" y2="169.3" stroke="#222" stroke-width="1"/><text x="270.5" y="25.0" font-size="10.8" text-anchor="start" font-family="Liberation Sans">32.0</text><text x="270.5" y="62.2" font-size="10.8" text-anchor="start" font-family="Liberation Sans">26.6</text><text x="270.5" y="99.4" font-size="10.8" text-anchor="start" font-family="Liberation Sans">21.2</text><text x="270.5" y="136.6" font-size="10.8" text-anchor="start" font-family="Liberation Sans">15.8</text><text x="270.5" y="173.8" font-size="10.8" text-anchor="start" font-family="Liberation Sans">10.4</text><text x="270.5" y="211.0" font-size="10.8" text-anchor="start" font-family="Liberation Sans">5.0</text><text x="302.0" y="15.2" font-size="11" text-anchor="end" font-family="Liberation Sans">temperature(°C)</text><text x="32.1" y="211.0" font-size="10.8" text-anchor="end" font-family="Liberation Sans">0</text><text x="32.1" y="180.0" font-size="10.8" text-anchor="end" font-family="Liberation Sans">20</text><text x="32.1" y="149.0" font-size="10.8" text-anchor="end" font-family="Liberation Sans">40</text><text x="32.1" y="118.0" font-size="10.8" text-anchor="end" font-family="Liberation Sans">60</text><text x="32.1" y="87.0" font-size="10.8" text-anchor="end" font-family="Liberation Sans">80</text><text x="32.1" y="56.0" font-size="10.8" text-anchor="end" font-family="Liberation Sans">100</text><text x="32.1" y="25.0" font-size="10.8" text-anchor="end" font-family="Liberation Sans">120</text><text x="37.0" y="220.2" font-size="11" text-anchor="middle" font-family="Liberation Sans">−70</text><text x="91.2" y="220.2" font-size="11" text-anchor="middle" font-family="Liberation Sans">−35</text><text x="145.5" y="220.2" font-size="11" text-anchor="middle" font-family="Liberation Sans">0</text><text x="199.8" y="220.2" font-size="11" text-anchor="middle" font-family="Liberation Sans">35</text><text x="254.0" y="220.2" font-size="11" text-anchor="middle" font-family="Liberation Sans">70</text><text x="145.0" y="232.4" font-size="11.3" text-anchor="middle" font-family="Liberation Sans">diameter(mm)</text><text transform="translate(11.8,114) rotate(-90)" font-size="11.5" text-anchor="middle" font-family="Liberation Sans">height(mm)</text><text x="145.0" y="253.7" font-size="18.3" text-anchor="middle" font-family="Liberation Serif">day 10</text></g>
<g transform="translate(300,514)"><g transform="translate(37,20.5)" clip-path="url(#pc)"><rect x="0" y="0" width="217" height="186" fill="#00c9a2"/><path d="M213.0 186.0L0.0 186.0L0.0 0.0L217.0 0.0L217.0 182.9L213.0 186.0Z" fill="#00cb9c"/><path d="M206.5 186.0L0.0 186.0L0.0 0.0L217.0 0.0L217.0 177.0L206.5 186.0Z" fill="#00cd96"/><path d="M199.0 186.0L0.0 186.0L0.0 0.0L217.0 0.0L217.0 170.1L208.0 177.4L199.0 186.0Z" fill="#00cf90"/><path d="M190.5 186.0L2.6 186.0L0.0 183.8L0.0 0.0L217.0 0.0L217.0 161.7L203.9 172.0L190.5 186.0Z" fill="#00d18a"/><path d="M181.0 186.0L18.9 186.0L10.0 176.9L0.0 168.7L0.0 2.2L1.2 0.0L217.0 0.0L217.0 150.6L208.0 156.8L200.0 163.9L192.0 172.5L181.0 186.0Z" fill="#00d384"/><path d="M171.0 186.0L36.3 186.0L22.5 165.2L15.0 155.1L8.0 147.9L0.0 142.5L0.0 33.2L2.5 28.7L4.8 22.5L10.5 0.0L209.8 0.0L217.0 21.9L217.0 132.5L209.5 137.7L201.8 144.5L171.0 186.0Z" fill="#00d57e"/><path d="M160.5 186.0L50.3 186.0L41.3 172.0L34.2 158.0L29.3 144.5L22.8 129.5L18.8 114.0L17.6 105.0L17.0 94.0L17.3 55.5L15.6 22.5L15.8 11.0L17.1 0.0L203.1 0.0L205.2 11.0L206.6 23.0L209.0 70.0L208.3 88.0L205.7 106.0L201.6 119.0L195.3 132.0L187.5 144.5L182.2 155.0L176.2 165.0L167.9 177.0L160.5 186.0Z" fill="#00d778"/><path d="M150.0 186.0L61.6 186.0L52.0 174.0L43.3 159.0L37.6 144.5L33.2 135.0L29.4 124.0L26.8 112.5L24.9 92.5L24.7 55.0L21.3 19.5L21.3 9.5L22.2 0.0L197.5 0.0L199.1 10.5L199.7 21.5L198.8 74.5L197.3 94.0L194.3 110.5L191.4 120.0L187.7 129.0L179.1 144.5L172.4 158.0L162.0 173.0L150.0 186.0Z" fill="#1fda6f"/><path d="M138.5 186.0L72.0 186.0L66.5 181.3L61.0 175.5L51.7 162.5L46.9 153.5L36.8 131.0L33.4 120.5L31.1 109.5L29.4 91.0L29.0 55.0L25.5 19.5L25.5 9.5L26.5 0.0L192.7 0.0L194.1 10.0L194.6 21.0L193.2 54.0L192.9 77.5L190.9 97.5L187.3 114.0L184.3 123.0L180.3 132.0L164.4 160.0L158.7 167.5L152.4 174.5L145.5 180.9L138.5 186.0Z" fill="#3fdc67"/><path d="M124.0 186.0L83.0 185.7L73.5 179.9L65.0 172.2L57.2 162.5L50.7 151.5L42.6 135.0L39.3 127.0L36.1 116.5L34.0 105.0L32.7 88.5L32.3 55.5L28.9 20.0L29.1 9.5L30.2 0.0L188.4 0.0L190.0 10.0L190.5 21.5L189.1 54.0L188.6 78.5L186.1 100.0L184.2 109.0L181.5 118.0L177.9 127.0L173.6 135.5L162.5 154.0L155.5 163.5L148.5 170.8L140.5 177.4L132.0 182.7L124.0 186.0Z" fill="#5edf5e"/><path d="M108.5 184.0L98.5 184.3L89.5 182.5L80.5 178.6L72.0 172.7L64.5 165.2L57.9 156.5L47.4 137.5L43.1 128.5L40.3 120.5L38.2 112.5L35.7 95.0L35.0 56.5L31.8 20.0L32.2 9.5L33.6 0.0L184.5 0.0L186.3 10.5L187.0 22.0L185.1 80.0L183.9 92.0L182.1 102.5L179.6 112.5L176.2 122.0L170.3 134.0L159.2 151.5L153.2 159.5L146.5 166.4L138.0 173.1L128.5 178.5L118.5 182.1L108.5 184.0Z" fill="#73e055"/><path d="M105.0 179.5L96.0 179.2L87.5 177.0L79.5 173.0L71.5 167.0L65.0 160.2L59.0 152.0L49.4 135.5L44.4 124.5L40.0 109.0L37.8 91.5L37.2 57.0L34.4 21.0L34.9 10.0L36.8 0.0L180.9 0.0L183.0 10.5L183.9 22.5L182.2 78.5L181.1 90.5L179.1 102.0L176.5 112.0L173.0 121.5L166.7 134.0L155.8 150.0L149.8 157.5L143.0 164.0L134.5 170.2L125.0 175.0L115.0 178.1L105.0 179.5Z" fill="#7ee14b"/><path d="M108.0 175.0L98.5 175.3L90.5 173.7L82.0 170.1L74.0 164.5L67.5 158.1L61.5 150.3L52.0 135.0L46.6 123.5L43.9 115.5L41.9 107.5L39.7 89.0L39.2 57.0L36.8 22.0L37.5 10.5L39.8 0.0L177.4 0.0L179.9 10.5L181.0 23.0L179.9 75.0L178.8 87.5L177.1 98.5L174.7 108.5L171.5 118.0L166.8 128.0L161.3 137.0L150.8 151.0L143.2 159.0L135.0 165.3L126.5 170.0L117.5 173.2L108.0 175.0Z" fill="#88e241"/><path d="M104.5 171.5L96.5 171.2L88.5 169.2L80.5 165.2L73.1 159.5L65.8 151.5L56.8 138.5L51.4 129.0L47.4 119.5L43.9 107.0L42.0 94.0L41.2 81.5L40.9 56.5L39.0 29.5L39.5 13.5L40.7 6.5L42.6 0.0L174.1 0.0L177.0 10.5L178.4 23.0L177.6 73.0L176.7 85.5L175.0 97.0L172.5 107.5L169.2 117.0L164.4 127.0L158.5 136.3L147.5 150.0L140.4 157.0L132.5 162.7L123.5 167.3L114.0 170.2L104.5 171.5Z" fill="#93e337"/><path d="M104.5 168.0L96.5 167.7L89.0 165.8L81.5 162.1L74.1 156.5L67.5 149.4L58.2 136.5L52.8 127.0L48.8 117.5L45.5 105.5L43.6 92.5L42.9 80.0L42.6 56.5L40.9 31.0L40.9 22.5L41.6 14.5L42.9 7.5L45.0 1.0L45.4 0.0L170.9 0.0L174.2 10.5L175.9 23.0L176.3 35.0L175.6 70.0L174.8 83.0L173.2 94.5L170.8 105.0L167.4 115.0L162.8 125.0L156.7 134.5L145.5 147.9L139.0 154.1L131.0 159.8L122.5 164.0L113.5 166.8L104.5 168.0Z" fill="#9de42d"/><path d="M107.5 164.5L99.0 164.8L91.5 163.4L84.0 160.2L77.0 155.4L70.0 148.5L61.1 137.0L55.3 127.5L51.0 118.0L48.4 110.0L46.4 101.5L44.5 82.5L44.1 58.0L42.7 26.0L43.7 14.5L46.3 4.5L48.2 0.0L167.7 0.0L170.7 7.5L172.8 16.5L173.9 26.5L174.1 39.0L173.7 70.0L172.8 82.5L170.5 97.5L166.6 111.0L162.0 121.5L156.3 131.0L149.6 139.5L139.5 149.9L132.5 155.3L124.5 159.8L116.0 162.9L107.5 164.5Z" fill="#a8e523"/><path d="M107.0 161.5L99.0 161.7L91.5 160.3L84.5 157.2L77.6 152.5L71.5 146.6L62.1 135.0L56.6 126.0L52.3 116.5L49.7 108.5L47.8 100.0L45.9 80.5L44.4 27.5L45.4 16.5L48.0 6.5L50.9 0.0L164.5 0.0L167.9 7.5L170.2 16.0L171.6 26.0L172.1 38.0L171.8 68.5L171.1 81.0L168.8 96.0L165.2 109.0L160.7 119.5L154.6 129.5L147.8 138.0L138.5 147.1L131.5 152.6L123.5 157.0L115.5 159.9L107.0 161.5Z" fill="#b3e619"/><path d="M107.5 158.5L99.5 158.8L92.0 157.5L85.0 154.5L78.0 149.6L69.0 140.5L62.5 132.1L56.9 122.5L52.5 112.0L49.5 100.5L47.7 87.5L46.0 31.5L46.5 22.0L47.9 14.0L50.4 6.5L53.7 0.0L161.3 0.0L164.1 5.0L166.3 10.5L168.7 20.0L169.9 31.0L170.0 71.0L169.2 82.0L167.6 92.5L165.4 102.0L162.3 111.0L158.0 120.0L153.0 128.1L147.0 135.6L139.9 142.5L132.0 149.0L124.5 153.5L116.0 156.8L107.5 158.5Z" fill="#bde70f"/><path d="M105.0 156.0L98.0 155.9L91.5 154.5L85.0 151.6L78.5 147.0L70.8 139.5L64.4 131.5L58.8 122.5L54.6 113.0L52.2 105.5L50.3 97.0L48.5 78.0L47.5 31.0L48.5 20.5L50.7 11.5L53.2 5.5L56.5 0.0L158.1 0.0L162.2 7.0L165.4 15.5L167.3 25.0L168.3 36.5L168.4 65.5L167.9 77.5L165.9 92.0L162.5 105.0L158.4 115.0L153.3 124.0L147.0 132.3L139.5 139.9L130.5 146.9L123.0 151.2L114.0 154.5L105.0 156.0Z" fill="#c8e805"/><path d="M108.0 153.0L99.5 153.4L92.5 152.1L85.0 148.7L78.0 143.6L70.5 136.2L63.8 127.5L58.5 118.1L54.5 108.0L51.7 96.5L50.1 83.5L49.0 32.0L50.0 22.5L52.0 14.0L55.1 6.5L59.3 0.0L154.7 0.0L159.5 7.1L163.0 15.5L165.2 24.5L166.4 35.0L166.7 70.0L165.9 80.5L164.4 90.5L162.3 99.5L159.4 108.0L155.5 116.4L150.8 124.0L145.0 131.4L138.5 137.8L131.5 143.2L123.5 148.1L116.0 151.2L108.0 153.0Z" fill="#d2e700"/><path d="M107.0 150.5L99.0 150.8L92.0 149.3L85.0 146.0L77.5 140.4L70.2 133.0L64.0 124.5L58.9 115.0L55.2 105.0L52.7 94.0L51.2 81.0L50.3 42.5L50.6 31.5L51.8 22.0L54.2 13.5L57.5 6.5L62.3 0.0L151.2 0.0L157.5 8.5L161.7 18.5L163.6 27.0L164.8 37.5L165.1 71.0L164.2 81.5L162.6 91.0L160.3 100.0L157.5 107.9L153.6 116.0L148.8 123.5L143.0 130.5L136.5 136.7L129.5 141.8L121.5 146.3L114.5 149.0L107.0 150.5Z" fill="#dde600"/><path d="M106.5 148.0L98.5 148.2L91.5 146.5L84.0 142.7L77.0 137.3L70.0 129.9L64.0 121.3L59.3 112.0L55.8 102.0L53.5 90.5L52.2 77.5L51.6 43.0L52.1 31.0L53.7 21.5L56.3 13.5L60.4 6.0L65.5 0.0L147.5 0.0L151.9 4.5L155.4 9.5L158.1 15.0L160.3 21.5L162.1 30.0L163.2 40.0L163.6 71.0L162.7 81.0L161.2 90.0L158.8 99.0L155.9 107.0L152.0 114.9L147.4 122.0L142.0 128.6L135.5 134.7L128.5 139.8L121.5 143.7L114.0 146.5L106.5 148.0Z" fill="#e8e400"/><path d="M106.5 145.6L98.5 145.7L91.5 144.0L84.0 140.1L77.0 134.6L70.4 127.5L64.5 118.9L59.9 109.5L56.6 99.5L54.4 88.0L53.3 74.5L52.9 43.5L53.7 30.5L55.6 21.0L58.6 13.0L63.0 6.0L68.8 0.0L143.5 0.0L149.0 5.0L153.2 10.5L156.6 17.0L159.1 24.5L160.7 33.0L161.7 43.0L162.0 71.5L161.1 81.0L159.5 90.0L157.2 98.5L154.4 106.0L150.7 113.5L146.0 120.7L140.5 127.2L134.5 132.8L128.0 137.5L121.0 141.4L113.5 144.1L106.5 145.6Z" fill="#f2e300"/><path d="M107.0 143.0L99.0 143.3L92.0 141.7L84.5 137.9L77.5 132.5L70.7 125.0L65.0 116.4L60.5 107.0L57.4 97.0L55.4 85.5L54.3 71.5L54.2 43.5L55.3 30.0L57.6 20.5L61.1 12.5L66.0 5.8L72.4 0.0L139.2 0.0L145.6 5.0L151.0 11.4L155.0 18.9L157.8 27.5L159.3 35.5L160.3 45.5L160.5 71.5L159.6 80.5L158.0 89.5L155.8 97.5L152.9 105.0L149.1 112.5L144.8 119.0L139.8 125.0L134.0 130.5L127.5 135.2L121.0 138.8L114.0 141.5L107.0 143.0Z" fill="#fde100"/><path d="M107.5 140.5L99.5 140.9L92.5 139.4L85.0 135.8L78.0 130.3L71.0 122.5L65.5 114.0L61.2 104.5L58.1 94.0L56.2 82.0L55.4 68.0L55.5 43.0L57.0 29.5L59.7 20.0L63.8 12.0L69.5 5.3L76.5 0.0L134.2 0.0L142.0 5.0L148.6 12.0L153.4 20.5L156.7 31.0L158.0 39.0L158.9 49.0L159.0 72.0L156.5 89.0L154.2 97.0L151.5 104.0L147.9 111.0L143.6 117.5L138.5 123.5L133.0 128.6L127.0 133.0L120.5 136.6L114.0 139.1L107.5 140.5Z" fill="#ffdc00"/><path d="M103.5 138.5L98.0 138.3L92.5 137.0L87.0 134.5L81.5 130.7L76.0 125.6L71.3 120.0L67.0 113.4L63.5 106.3L59.2 93.0L56.9 77.0L56.6 49.0L58.0 32.4L61.0 21.5L65.9 12.5L72.5 5.5L81.1 0.0L128.3 0.0L137.0 4.4L144.0 10.2L149.4 17.5L153.4 26.5L156.1 38.0L157.6 53.0L157.7 69.0L156.1 83.0L153.3 94.5L149.3 104.5L144.0 113.6L137.6 121.5L130.0 128.3L121.5 133.6L112.5 137.1L103.5 138.5Z" fill="#ffd500"/><path d="M104.5 136.0L97.0 135.8L89.5 133.3L82.0 128.5L75.0 121.7L69.0 113.5L64.2 104.0L60.9 94.0L58.7 82.5L57.7 68.0L57.9 47.0L59.1 35.0L61.4 25.5L65.5 16.8L71.0 9.8L78.3 4.0L86.9 0.0L120.8 0.0L128.5 2.6L135.0 6.0L142.9 12.5L148.6 20.5L152.6 30.5L155.1 43.0L156.3 62.5L155.4 78.0L152.0 93.0L146.5 106.0L142.8 112.0L138.5 117.5L133.5 122.6L128.0 127.1L122.5 130.5L116.5 133.3L110.5 135.1L104.5 136.0Z" fill="#ffce00"/><path d="M105.5 133.5L97.0 133.3L89.0 130.5L81.0 125.1L73.5 117.0L67.8 108.0L63.4 97.5L60.5 86.0L59.0 73.0L58.8 55.0L59.8 40.5L61.8 30.0L65.4 21.0L71.0 12.9L78.5 6.5L87.5 2.1L97.2 0.0L109.5 0.2L121.5 2.6L131.5 6.7L139.5 12.5L145.5 19.7L150.0 29.0L153.0 40.3L154.6 54.0L154.7 69.5L153.0 83.0L149.2 96.0L143.5 107.4L135.8 117.5L126.5 125.4L121.5 128.5L116.0 131.0L105.5 133.5Z" fill="#ffc800"/><path d="M105.5 131.0L97.0 130.8L89.0 128.0L81.0 122.4L74.0 114.6L68.1 105.0L64.0 94.6L61.3 83.0L60.0 70.0L60.1 53.5L61.3 40.0L63.6 30.0L67.5 21.2L73.4 13.5L81.0 7.5L90.0 3.6L99.5 2.0L111.5 2.7L122.5 5.3L132.0 9.8L139.5 15.9L145.0 23.3L149.1 32.5L151.9 44.0L153.2 57.5L153.1 71.5L151.0 84.4L147.1 96.5L141.5 107.0L134.0 116.3L125.4 123.5L115.5 128.6L105.5 131.0Z" fill="#ffc100"/><path d="M105.5 128.5L97.5 128.4L89.5 125.7L82.0 120.5L75.0 112.9L69.5 104.0L65.2 93.5L62.5 82.1L61.2 69.5L61.3 54.5L62.6 41.5L65.0 31.5L68.8 23.0L74.5 15.5L81.5 9.8L90.0 5.9L99.5 4.2L110.5 4.8L121.0 7.3L130.0 11.5L137.6 17.5L143.3 25.0L147.5 34.0L150.3 45.0L151.7 58.0L151.6 71.0L149.5 83.5L145.7 95.0L140.4 105.0L133.0 114.3L124.5 121.3L115.0 126.2L105.5 128.5Z" fill="#ffbb00"/><path d="M104.5 126.0L97.0 125.7L89.5 123.0L82.0 117.6L75.5 110.3L70.2 101.5L66.2 91.5L63.5 80.0L62.3 68.0L62.6 54.5L64.0 42.2L66.6 32.5L70.5 24.2L76.0 17.2L83.0 11.6L91.0 8.0L100.0 6.5L110.5 7.2L120.5 9.7L129.2 14.0L136.5 20.0L142.0 27.3L146.2 36.5L148.9 47.5L150.2 60.0L149.9 72.0L147.6 84.0L143.7 95.0L138.3 104.5L131.1 113.0L123.0 119.5L114.0 123.9L104.5 126.0Z" fill="#ffb400"/><path d="M107.0 123.0L99.0 123.4L92.0 121.5L85.0 117.2L78.2 110.5L72.5 102.0L68.2 92.5L65.3 82.0L63.7 70.5L63.7 58.0L64.9 46.0L67.3 36.0L71.1 27.5L76.5 20.0L83.0 14.4L90.5 10.7L99.0 8.9L109.0 9.4L118.5 11.7L127.0 15.7L134.0 21.2L139.5 28.0L144.0 36.8L147.0 47.0L148.5 58.0L148.5 69.5L146.7 80.5L143.3 91.0L138.4 100.5L132.0 108.8L124.5 115.5L116.0 120.4L107.0 123.0Z" fill="#ffad00"/><path d="M104.5 120.5L97.5 120.3L90.5 117.8L83.7 113.0L77.5 106.1L72.5 97.9L68.5 88.1L66.0 77.8L64.9 67.0L65.2 55.5L66.9 44.5L69.6 35.5L73.7 27.5L79.0 20.9L85.5 15.8L93.0 12.5L100.5 11.3L109.7 12.0L118.6 14.5L126.5 18.7L133.5 24.6L139.0 31.9L143.0 40.4L145.8 50.5L146.9 61.0L146.5 71.5L144.4 82.0L140.6 92.0L135.5 100.7L129.0 108.4L121.4 114.5L113.0 118.7L104.5 120.5Z" fill="#ffa600"/><path d="M105.0 117.5L98.0 117.4L91.5 115.2L85.0 110.8L79.1 104.5L74.0 96.5L70.1 87.5L67.6 78.0L66.3 67.0L66.6 56.0L68.2 46.5L70.7 38.5L74.6 30.5L79.5 24.0L86.0 18.6L93.0 15.2L100.0 14.0L109.0 14.6L117.5 17.1L125.0 21.1L131.3 26.5L136.9 33.5L140.8 41.0L143.9 51.0L145.1 60.5L144.8 70.5L142.8 80.5L139.4 89.5L134.5 98.0L128.2 105.5L121.0 111.4L113.5 115.4L105.0 117.5Z" fill="#ff9d00"/><path d="M104.0 115.5L97.5 115.2L91.0 112.8L85.0 108.5L79.5 102.4L74.6 94.5L71.0 85.7L68.6 76.0L67.6 66.5L67.9 56.5L69.5 47.0L72.3 38.5L76.2 31.0L81.0 24.9L87.0 20.1L93.5 17.1L100.5 15.8L109.0 16.5L117.0 18.9L124.3 23.0L130.5 28.3L135.7 35.0L139.7 43.0L142.4 52.0L143.5 61.5L143.1 71.0L141.1 80.5L137.5 89.5L132.5 97.7L126.5 104.6L119.5 110.1L112.0 113.8L104.0 115.5Z" fill="#ff9500"/><path d="M104.0 113.5L97.5 113.2L91.5 111.0L85.5 106.7L80.4 101.0L75.7 93.5L72.2 85.0L69.9 76.0L68.9 66.5L69.2 57.0L70.7 48.0L73.4 39.5L77.0 32.5L82.0 26.2L87.5 21.8L94.0 18.8L100.5 17.7L108.5 18.3L116.5 20.7L123.5 24.6L129.5 29.9L134.5 36.4L138.3 44.0L140.8 52.5L141.9 61.5L141.4 71.0L139.5 80.0L136.1 88.5L131.3 96.5L125.5 103.1L118.6 108.5L111.5 111.9L104.0 113.5Z" fill="#ff8c00"/><path d="M103.5 111.5L97.5 111.2L91.5 108.9L86.0 104.8L80.8 99.0L76.5 91.8L73.2 83.5L71.0 74.5L70.2 65.5L70.6 56.5L72.1 48.0L74.8 40.0L78.6 33.0L83.1 27.5L88.5 23.3L94.5 20.6L101.0 19.6L108.5 20.3L116.0 22.6L122.5 26.2L128.5 31.5L133.4 38.0L137.0 45.5L139.4 54.0L140.2 62.5L139.7 71.5L137.8 80.0L134.5 88.0L129.9 95.5L124.0 102.1L117.5 106.9L110.5 110.1L103.5 111.5Z" fill="#ff8300"/><path d="M101.5 109.5L96.0 108.7L90.5 106.1L85.0 101.5L80.5 95.7L76.8 89.0L73.9 81.0L72.1 72.5L71.5 64.0L72.1 55.5L73.7 47.5L76.5 40.0L80.0 33.8L84.5 28.6L89.5 24.8L95.5 22.3L101.5 21.5L109.0 22.3L116.0 24.7L122.5 28.6L128.0 33.7L132.5 40.0L135.9 47.5L137.9 55.5L138.6 64.0L137.8 72.5L135.6 81.0L132.0 89.0L127.5 95.7L121.8 101.5L115.5 105.8L108.5 108.6L101.5 109.5Z" fill="#ff7b00"/><path d="M105.5 107.1L99.5 107.3L94.0 105.7L88.8 102.5L84.0 97.7L79.8 91.5L76.5 84.3L74.3 76.5L73.1 68.0L73.1 59.5L74.2 51.5L76.4 44.0L79.5 37.5L83.6 32.0L88.5 27.6L94.0 24.8L100.0 23.5L107.0 23.9L113.5 25.7L119.8 29.0L125.2 33.5L129.7 39.0L133.2 45.5L135.5 52.5L136.7 60.5L136.6 68.5L135.2 76.5L132.5 84.0L128.7 91.0L123.8 97.0L118.0 102.0L112.0 105.2L105.5 107.1Z" fill="#ff7200"/><path d="M104.5 105.0L99.0 105.0L94.0 103.5L89.0 100.3L84.5 95.6L80.5 89.5L77.5 82.6L75.4 75.0L74.4 67.0L74.6 59.0L75.7 51.5L78.0 44.2L81.2 38.0L85.0 33.0L89.9 29.0L95.0 26.5L100.5 25.5L107.0 26.0L113.5 27.9L119.5 31.2L124.5 35.5L128.8 41.0L131.8 47.0L134.0 54.0L135.0 61.5L134.7 69.5L133.2 77.0L130.5 84.0L126.8 90.5L122.0 96.1L116.5 100.5L110.5 103.6L104.5 105.0Z" fill="#ff6800"/><path d="M106.0 102.5L100.5 102.9L95.5 101.8L91.0 99.4L86.5 95.3L82.5 89.7L79.5 83.5L77.2 76.0L76.0 68.5L75.9 61.0L76.8 53.5L78.8 46.5L81.6 40.5L85.2 35.5L89.6 31.5L94.5 28.8L100.0 27.6L106.0 27.9L112.0 29.5L117.5 32.3L122.5 36.3L126.5 41.1L129.8 47.0L132.0 53.5L133.1 60.5L133.1 67.5L132.0 74.5L129.6 81.5L126.5 87.5L122.3 93.0L117.3 97.5L112.0 100.6L106.0 102.5Z" fill="#fe5c00"/><path d="M104.0 100.5L99.0 100.5L94.5 99.0L90.0 96.0L86.2 92.0L82.6 86.5L80.1 80.5L78.2 73.5L77.4 66.5L77.5 59.5L78.5 53.0L80.5 46.6L83.3 41.0L87.0 36.2L91.0 32.9L95.5 30.7L100.5 29.7L106.5 30.1L112.0 31.8L117.1 34.5L121.8 38.5L125.7 43.5L128.6 49.0L130.5 55.5L131.4 62.0L131.1 69.0L129.8 75.5L127.3 82.0L124.0 87.7L119.9 92.5L115.0 96.5L109.5 99.2L104.0 100.5Z" fill="#fe4f00"/><path d="M105.0 98.0L100.0 98.2L96.0 97.2L91.5 94.6L87.8 91.0L84.3 86.0L81.6 80.0L79.8 73.5L79.0 67.0L79.0 60.5L79.9 54.0L81.7 48.0L84.5 42.5L87.5 38.5L91.5 35.0L96.0 32.8L100.5 31.9L106.0 32.3L111.0 33.7L115.5 36.0L120.0 39.6L123.6 44.0L126.5 49.2L128.4 55.0L129.4 61.0L129.3 67.5L128.2 74.0L126.1 80.0L123.0 85.5L119.4 90.0L115.0 93.8L110.0 96.6L105.0 98.0Z" fill="#fd4300"/><path d="M105.0 95.6L100.5 95.9L96.5 94.9L92.5 92.7L89.0 89.4L85.8 85.0L83.2 79.5L81.5 73.5L80.6 67.0L80.5 61.0L81.4 55.0L83.0 49.4L85.5 44.3L88.5 40.3L92.3 37.0L96.2 35.0L100.5 34.1L105.5 34.4L110.5 35.9L115.0 38.3L118.8 41.5L122.1 45.5L124.6 50.0L126.5 55.5L127.4 61.0L127.4 67.0L126.4 73.0L124.5 78.5L121.9 83.5L118.5 87.9L114.4 91.5L110.0 94.0L105.0 95.6Z" fill="#fd3700"/><path d="M105.0 93.0L100.5 93.3L97.0 92.6L93.5 90.7L90.0 87.5L87.0 83.3L84.7 78.5L83.1 73.0L82.2 67.0L82.2 61.0L83.0 55.5L84.5 50.5L86.7 46.0L89.5 42.1L93.0 39.1L96.5 37.3L100.5 36.5L105.0 36.7L109.5 38.0L113.5 40.0L117.5 43.3L120.5 47.0L123.0 51.5L124.6 56.5L125.4 61.5L125.3 67.0L124.5 72.0L122.9 77.0L120.3 82.0L117.2 86.0L113.5 89.3L109.5 91.6L105.0 93.0Z" fill="#fc2b00"/><path d="M104.0 90.6L100.5 90.7L97.0 89.9L93.5 87.8L90.7 85.0L88.0 81.1L86.0 76.7L84.6 71.5L83.9 66.5L84.6 56.5L86.0 51.6L88.0 47.5L90.5 44.1L93.5 41.5L97.0 39.6L100.5 38.9L105.0 39.2L109.0 40.3L112.5 42.2L116.0 45.0L118.8 48.5L121.0 52.5L122.5 57.0L123.3 62.0L123.2 67.0L122.3 72.0L120.5 76.9L118.2 81.0L115.4 84.5L111.8 87.5L108.0 89.5L104.0 90.6Z" fill="#fb1f00"/><path d="M102.0 88.0L99.0 87.7L96.0 86.5L93.0 84.2L90.5 81.2L87.0 73.5L85.6 64.0L86.7 55.5L90.1 48.0L92.5 45.2L95.5 43.0L98.5 41.8L101.5 41.4L105.5 41.8L109.0 43.1L112.5 45.2L115.5 48.0L118.0 51.5L119.6 55.0L120.7 59.0L121.1 63.5L120.8 68.0L119.8 72.5L118.0 76.8L115.6 80.5L112.8 83.5L109.5 85.9L106.0 87.4L102.0 88.0Z" fill="#fb1200"/><path d="M103.0 85.1L100.0 85.0L97.5 84.3L95.0 82.7L92.5 80.1L89.0 73.5L87.5 65.5L88.2 57.5L91.0 50.6L95.5 45.9L98.0 44.6L101.0 44.0L104.5 44.3L107.5 45.3L113.0 49.0L117.0 55.0L118.8 62.5L117.9 70.5L116.5 74.3L114.5 77.8L109.5 82.7L106.5 84.2L103.0 85.1Z" fill="#fa0600"/><path d="M102.5 82.0L100.0 81.9L97.5 81.0L93.6 77.5L90.8 72.0L89.5 65.0L90.1 58.5L92.5 52.5L96.5 48.4L101.0 46.9L106.5 47.9L111.5 51.3L114.9 56.5L116.3 63.0L115.4 70.0L112.5 76.0L108.0 80.2L102.5 82.0Z" fill="#f40000"/><path d="M103.5 78.5L99.5 78.4L96.0 76.2L93.1 71.5L91.8 66.0L92.0 60.0L93.9 55.0L97.0 51.5L101.0 50.0L105.5 50.7L109.5 53.4L112.3 57.5L113.6 62.5L113.1 68.0L111.0 73.0L107.5 76.8L103.5 78.5Z" fill="#e80000"/><path d="M102.0 75.0L99.0 74.4L96.5 72.1L94.8 68.5L94.1 64.0L94.6 60.0L96.2 56.5L98.5 54.2L101.5 53.4L105.0 54.2L108.0 56.5L110.0 60.0L110.6 63.5L110.0 67.8L108.1 71.5L105.5 73.9L102.0 75.0Z" fill="#db0000"/><path d="M102.5 70.6L100.5 70.5L99.0 69.6L97.7 67.5L97.0 65.0L97.0 62.5L97.8 60.0L99.0 58.4L101.0 57.4L103.0 57.7L105.0 58.9L106.2 60.5L107.0 63.0L106.9 65.5L106.0 67.8L104.5 69.6L102.5 70.6Z" fill="#cf0000"/><mask id="m7" maskUnits="userSpaceOnUse" x="-10" y="-10" width="240" height="210"><rect x="-10" y="-10" width="240" height="210" fill="#fff"/><rect x="-4.8" y="-3.8" width="9.6" height="7.6" fill="#000" transform="translate(71.0266,89.5) rotate(68.4398)"/></mask><path d="M106.5 117.1L102.5 117.5L98.5 117.3L96.0 116.8L92.0 115.3L86.5 111.9L83.0 108.7L79.7 105.0L76.8 101.0L74.2 96.5L70.3 87.5L67.7 78.0L66.5 68.5L66.3 63.0L66.6 57.0L68.2 47.0L70.8 38.5L74.8 30.5L77.2 27.0L79.7 24.0L82.5 21.4L86.0 18.7L92.0 15.8L95.5 14.7L99.5 14.2L104.0 14.2L108.5 14.7L116.0 16.7L120.5 18.7L124.0 20.7L127.5 23.2L130.5 26.0L133.8 29.5L136.3 33.0L140.2 40.0L141.8 44.0L143.3 49.0L144.3 54.0L144.9 59.0L144.8 69.0L143.2 78.5L141.7 83.5L139.7 88.5L135.3 96.5L132.8 100.0L128.9 104.5L125.5 107.8L121.5 110.9L118.5 112.8L114.5 114.8L110.5 116.2L106.5 117.1Z" fill="none" stroke="#3838a4" stroke-width="1.0" mask="url(#m7)"/><text x="0" y="3.4" font-size="9.5" text-anchor="middle" font-family="Liberation Sans" style="fill:#3838a4;stroke:#3838a4;stroke-width:0.3" transform="translate(71.0266,89.5) rotate(68.4398)">25</text></g><rect x="37" y="20.5" width="217" height="186" fill="none" stroke="#333" stroke-width="1"/><rect x="258.6" y="20.5" width="9" height="186" fill="url(#cb)" stroke="#333" stroke-width="1"/><line x1="265.1" x2="267.6" y1="57.7" y2="57.7" stroke="#222" stroke-width="1"/><line x1="265.1" x2="267.6" y1="94.9" y2="94.9" stroke="#222" stroke-width="1"/><line x1="265.1" x2="267.6" y1="132.1" y2="132.1" stroke="#222" stroke-width="1"/><line x1="265.1" x2="267.6" y1="169.3" y2="169.3" stroke="#222" stroke-width="1"/><text x="270.5" y="25.0" font-size="10.8" text-anchor="start" font-family="Liberation Sans">32.0</text><text x="270.5" y="62.2" font-size="10.8" text-anchor="start" font-family="Liberation Sans">26.6</text><text x="270.5" y="99.4" font-size="10.8" text-anchor="start" font-family="Liberation Sans">21.2</text><text x="270.5" y="136.6" font-size="10.8" text-anchor="start" font-family="Liberation Sans">15.8</text><text x="270.5" y="173.8" font-size="10.8" text-anchor="start" font-family="Liberation Sans">10.4</text><text x="270.5" y="211.0" font-size="10.8" text-anchor="start" font-family="Liberation Sans">5.0</text><text x="302.0" y="15.2" font-size="11" text-anchor="end" font-family="Liberation Sans">temperature(°C)</text><text x="32.1" y="211.0" font-size="10.8" text-anchor="end" font-family="Liberation Sans">0</text><text x="32.1" y="180.0" font-size="10.8" text-anchor="end" font-family="Liberation Sans">20</text><text x="32.1" y="149.0" font-size="10.8" text-anchor="end" font-family="Liberation Sans">40</text><text x="32.1" y="118.0" font-size="10.8" text-anchor="end" font-family="Liberation Sans">60</text><text x="32.1" y="87.0" font-size="10.8" text-anchor="end" font-family="Liberation Sans">80</text><text x="32.1" y="56.0" font-size="10.8" text-anchor="end" font-family="Liberation Sans">100</text><text x="32.1" y="25.0" font-size="10.8" text-anchor="end" font-family="Liberation Sans">120</text><text x="37.0" y="220.2" font-size="11" text-anchor="middle" font-family="Liberation Sans">−70</text><text x="91.2" y="220.2" font-size="11" text-anchor="middle" font-family="Liberation Sans">−35</text><text x="145.5" y="220.2" font-size="11" text-anchor="middle" font-family="Liberation Sans">0</text><text x="199.8" y="220.2" font-size="11" text-anchor="middle" font-family="Liberation Sans">35</text><text x="254.0" y="220.2" font-size="11" text-anchor="middle" font-family="Liberation Sans">70</text><text x="145.0" y="232.4" font-size="11.3" text-anchor="middle" font-family="Liberation Sans">diameter(mm)</text><text transform="translate(11.8,114) rotate(-90)" font-size="11.5" text-anchor="middle" font-family="Liberation Sans">height(mm)</text><text x="145.0" y="253.7" font-size="18.3" text-anchor="middle" font-family="Liberation Serif">day 12</text></g>
<g transform="translate(600,514)"><g transform="translate(37,20.5)" clip-path="url(#pc)"><rect x="0" y="0" width="217" height="186" fill="#00cf90"/><path d="M214.5 186.0L0.0 186.0L0.0 0.0L217.0 0.0L217.0 184.2L214.5 186.0Z" fill="#00d18a"/><path d="M208.5 186.0L0.0 186.0L0.0 0.0L217.0 0.0L217.0 178.8L208.5 186.0Z" fill="#00d384"/><path d="M201.5 186.0L0.0 186.0L0.0 0.0L217.0 0.0L217.0 172.6L201.5 186.0Z" fill="#00d57e"/><path d="M194.0 186.0L5.0 186.0L0.0 181.6L0.0 0.0L217.0 0.0L217.0 165.3L205.5 174.3L194.0 186.0Z" fill="#00d778"/><path d="M185.5 186.0L17.1 186.0L9.0 177.8L0.0 170.4L0.0 3.4L2.0 0.0L212.0 0.0L217.0 7.6L217.0 156.1L208.5 161.9L201.0 168.3L194.0 175.6L185.5 186.0Z" fill="#1fda6f"/><path d="M176.5 186.0L30.4 186.0L22.0 174.8L14.5 166.3L7.5 159.8L0.0 154.3L0.0 18.8L8.5 0.0L205.4 0.0L212.0 13.5L217.0 22.1L217.0 143.4L206.5 149.9L198.5 156.5L189.5 167.4L176.5 186.0Z" fill="#3fdc67"/><path d="M167.0 186.0L43.0 186.0L32.2 168.5L24.5 154.5L12.1 140.0L0.0 124.0L0.0 52.1L3.5 41.1L10.2 13.0L14.0 0.0L199.6 0.0L212.0 37.3L217.0 50.3L217.0 117.7L185.7 154.5L176.9 170.5L167.0 186.0Z" fill="#5edf5e"/><path d="M157.5 186.0L53.5 186.0L43.2 169.5L35.9 154.5L28.1 144.5L22.2 135.0L17.3 124.0L14.2 112.5L12.8 102.0L12.3 88.5L13.8 32.5L15.4 15.5L18.8 0.0L194.5 0.0L198.0 12.0L200.7 25.0L202.7 40.0L204.3 59.0L204.9 70.0L204.8 80.5L203.7 92.5L201.9 103.5L197.9 118.0L191.8 131.5L184.8 143.0L176.2 154.5L167.8 171.0L161.4 181.0L157.5 186.0Z" fill="#73e055"/><path d="M148.5 186.0L62.5 186.0L55.5 176.5L48.7 165.5L43.2 154.5L34.7 143.5L28.9 134.0L24.2 123.0L21.2 111.5L20.1 103.0L19.5 93.0L20.0 58.0L19.3 27.5L20.4 13.0L23.1 0.0L189.9 0.0L192.7 10.0L194.7 21.0L196.0 33.0L196.7 48.0L197.3 68.0L196.9 80.0L195.6 94.0L193.3 107.0L188.8 122.0L182.1 136.0L176.4 145.0L169.2 154.5L164.7 163.5L159.5 172.1L154.0 179.6L148.5 186.0Z" fill="#7ee14b"/><path d="M139.0 186.0L70.8 186.0L65.3 180.0L59.9 173.0L54.1 164.0L49.0 154.5L41.3 145.0L35.9 137.0L31.2 128.0L27.9 119.0L25.7 109.5L24.5 98.5L24.1 86.0L24.5 58.0L23.4 24.5L24.4 12.0L27.0 0.0L185.7 0.0L188.4 9.5L190.3 20.5L191.4 32.0L191.9 47.0L192.2 68.5L191.7 81.0L190.1 96.0L187.6 109.0L182.3 125.0L174.6 139.5L163.4 154.5L158.7 163.0L153.0 171.3L146.0 179.5L139.0 186.0Z" fill="#88e241"/><path d="M128.0 186.0L79.3 186.0L72.0 179.8L64.5 171.2L58.7 163.0L53.8 154.5L44.1 142.5L37.2 131.5L33.3 123.0L30.7 114.5L28.9 105.0L28.0 95.0L28.0 59.0L26.8 24.0L28.0 11.5L30.7 0.0L181.9 0.0L185.2 12.0L187.1 25.0L188.0 39.0L188.3 65.5L188.0 78.0L186.9 90.5L185.1 101.5L182.6 112.0L178.4 124.0L172.9 135.0L166.2 145.0L158.3 154.5L151.9 164.5L146.5 171.2L140.5 177.2L133.5 182.8L128.0 186.0Z" fill="#93e337"/><path d="M113.5 186.0L90.6 186.0L84.0 183.0L77.5 178.5L72.5 173.9L67.5 168.3L58.1 154.5L47.7 142.0L41.8 133.0L37.5 124.5L34.7 117.0L32.7 109.0L31.4 100.0L30.8 90.0L31.0 59.5L29.8 24.5L31.1 11.5L34.1 0.0L178.2 0.0L181.8 12.0L183.9 25.5L184.8 40.0L185.1 67.0L184.5 80.5L183.1 93.5L180.8 105.5L177.6 116.5L173.0 127.5L167.0 138.0L144.0 167.2L137.0 173.8L129.5 179.2L121.5 183.4L113.5 186.0Z" fill="#9de42d"/><path d="M103.5 182.5L96.0 182.3L88.5 180.1L81.5 176.2L74.5 170.4L68.5 163.7L62.0 154.5L54.2 145.5L48.4 138.0L42.6 128.5L38.4 119.0L35.4 108.0L33.7 95.5L33.5 58.5L32.4 31.5L32.7 22.5L33.6 14.5L35.1 7.0L37.4 0.0L174.7 0.0L178.6 12.0L180.9 25.5L181.9 41.0L182.3 67.0L181.6 81.5L179.8 95.5L177.3 107.5L173.7 118.5L168.6 129.5L161.9 140.0L143.7 161.5L138.0 167.3L130.0 173.5L121.5 178.1L112.5 181.2L103.5 182.5Z" fill="#a8e523"/><path d="M103.5 178.0L96.5 177.8L89.5 175.9L82.5 172.1L76.0 166.8L71.0 161.5L65.7 154.5L57.7 145.5L51.4 137.5L45.4 128.0L40.8 118.0L37.7 107.0L36.1 94.5L35.8 58.5L34.9 34.0L35.9 17.0L37.4 9.5L39.5 2.5L40.6 0.0L171.3 0.0L175.5 11.5L178.1 25.0L179.3 40.5L179.8 65.0L179.2 79.5L177.6 93.0L175.0 105.5L171.5 116.5L166.2 128.0L159.5 138.5L152.5 146.9L136.5 163.4L129.0 169.3L121.0 173.7L112.5 176.6L103.5 178.0Z" fill="#b3e619"/><path d="M102.0 174.0L95.5 173.6L89.0 171.5L82.5 167.8L76.5 162.8L60.6 145.0L53.5 136.1L47.1 126.0L42.7 116.0L39.7 105.0L38.2 93.0L37.1 35.5L38.2 18.5L39.7 11.0L41.7 4.5L43.7 0.0L168.0 0.0L172.3 10.5L175.2 23.0L176.8 37.0L177.4 56.5L177.3 73.5L175.9 88.5L173.3 102.5L169.4 115.0L164.0 126.6L156.9 137.5L149.0 146.6L134.5 160.5L127.0 166.1L119.0 170.3L110.5 172.9L102.0 174.0Z" fill="#bde70f"/><path d="M105.0 170.0L98.0 170.1L91.5 168.7L85.0 165.5L79.0 160.9L65.0 146.4L56.7 136.5L50.0 126.3L45.1 116.0L42.7 108.5L41.2 101.0L39.8 83.0L39.3 30.0L40.5 18.5L43.2 8.0L46.7 0.0L164.7 0.0L169.1 9.5L172.2 20.5L174.1 33.0L175.1 48.5L175.3 68.5L174.4 83.0L172.0 98.0L168.3 111.0L164.2 121.0L158.8 130.5L152.0 139.5L144.0 147.8L131.5 158.7L124.0 163.8L114.5 168.0L105.0 170.0Z" fill="#c8e805"/><path d="M104.0 166.5L97.5 166.5L91.5 165.1L85.5 162.1L79.5 157.4L67.5 145.6L58.5 135.0L51.8 125.0L46.9 114.5L44.7 107.5L43.1 100.0L41.7 81.5L41.3 31.5L42.6 20.0L45.2 10.0L49.8 0.0L161.5 0.0L166.1 9.0L169.5 19.5L171.7 31.5L173.0 46.0L173.3 66.5L172.6 80.5L170.3 95.5L166.7 109.0L162.3 119.5L157.0 128.8L150.4 137.5L142.5 145.7L129.0 156.6L122.0 161.1L113.0 164.8L104.0 166.5Z" fill="#d2e700"/><path d="M105.0 163.1L97.5 163.1L91.0 161.4L84.5 157.8L77.0 151.6L67.7 142.5L59.5 132.7L53.5 123.5L48.9 114.0L46.6 107.0L45.0 99.5L43.4 81.5L43.2 33.5L44.3 22.5L46.7 13.0L49.5 6.0L52.9 0.0L158.2 0.0L163.1 8.5L166.8 18.5L169.4 30.0L170.8 43.5L171.5 64.0L170.9 78.0L168.9 92.5L165.4 106.0L161.5 116.1L156.4 125.5L150.0 134.3L142.5 142.3L133.0 150.2L122.0 157.5L113.5 161.2L105.0 163.1Z" fill="#dde600"/><path d="M103.0 160.0L96.5 159.8L90.0 157.7L83.0 153.3L76.0 147.6L67.5 139.0L60.2 130.0L54.5 121.0L50.3 112.0L48.1 105.0L46.5 97.5L45.1 79.0L45.0 35.0L46.1 24.5L48.4 15.0L51.7 7.0L56.1 0.0L154.8 0.0L160.3 8.5L164.3 18.0L167.1 29.0L168.8 42.0L169.7 61.0L169.2 76.0L167.2 91.0L163.8 104.5L159.6 115.0L154.5 124.3L148.0 133.0L140.3 141.0L130.5 148.9L119.5 155.4L111.5 158.5L103.0 160.0Z" fill="#e8e400"/><path d="M106.0 156.6L98.5 156.9L92.0 155.4L84.5 151.3L76.5 145.0L67.5 135.7L60.0 126.0L54.2 116.0L50.4 106.0L48.0 95.5L46.9 83.0L46.5 46.0L46.9 33.5L48.3 23.5L50.7 15.0L54.4 7.0L59.3 0.0L151.3 0.0L155.0 4.7L158.3 10.0L163.2 22.0L165.5 31.7L167.0 43.0L167.8 57.0L167.8 70.5L166.9 81.5L165.1 92.0L162.6 101.5L159.4 110.5L155.2 119.0L150.3 126.5L144.5 133.5L137.5 140.3L129.5 146.5L121.5 151.3L113.0 154.9L106.0 156.6Z" fill="#f2e300"/><path d="M106.0 153.5L98.5 153.9L92.0 152.3L84.5 148.3L76.5 141.9L67.9 133.0L60.5 123.0L55.3 113.5L51.6 103.5L49.4 93.0L48.4 80.5L48.1 46.5L48.8 33.0L50.5 23.1L53.3 14.5L57.5 6.6L62.6 0.0L147.6 0.0L152.1 5.0L156.1 11.0L159.4 18.0L162.0 25.5L164.1 35.0L165.4 45.5L166.2 58.5L166.1 71.0L165.1 81.5L163.3 91.5L160.8 101.0L157.6 109.5L153.5 117.6L148.5 125.2L142.8 132.0L136.0 138.4L128.5 144.1L121.0 148.5L113.5 151.7L106.0 153.5Z" fill="#fde100"/><path d="M101.5 151.0L96.0 150.6L90.0 148.5L83.5 144.7L77.0 139.4L70.0 132.2L63.6 124.0L58.7 116.0L55.1 108.0L52.8 101.0L51.3 94.0L49.8 76.0L49.9 41.0L50.8 31.5L52.6 23.0L55.0 16.2L58.0 10.2L61.6 5.0L66.1 0.0L143.7 0.0L150.4 7.0L155.8 15.5L159.8 25.5L162.5 37.0L164.2 52.0L164.5 68.5L163.2 82.5L160.3 96.0L156.5 107.0L151.5 116.9L145.5 125.5L138.0 133.5L129.0 140.8L119.5 146.3L110.5 149.7L101.5 151.0Z" fill="#ffdc00"/><path d="M103.0 148.0L97.0 147.9L91.5 146.3L85.5 143.1L79.0 138.2L72.2 131.5L66.0 123.8L61.0 116.0L57.1 108.0L54.7 101.0L53.1 94.0L51.4 77.5L51.4 44.5L52.2 35.0L53.6 27.0L56.2 19.0L59.6 12.0L64.3 5.5L69.9 0.0L139.4 0.0L146.5 6.2L152.3 14.0L156.7 23.0L160.0 34.0L162.2 48.0L163.0 64.5L162.1 78.0L159.8 91.0L156.4 102.0L151.9 112.0L146.0 121.2L139.0 129.3L130.5 136.7L121.0 142.6L112.0 146.3L103.0 148.0Z" fill="#ffd500"/><path d="M104.5 145.0L97.5 145.1L90.5 143.0L83.0 138.5L75.5 131.8L68.0 123.1L62.1 114.0L57.8 104.5L54.9 94.5L53.2 82.0L52.6 66.0L53.0 45.0L54.6 31.5L57.3 22.0L61.5 13.3L67.0 6.0L73.9 0.0L134.7 0.0L143.2 6.5L150.2 15.0L155.4 25.5L158.9 37.5L160.3 46.5L161.2 56.5L161.3 66.5L160.8 75.5L159.4 84.5L157.4 93.0L154.7 101.0L151.5 108.3L147.4 115.5L142.6 122.0L137.0 128.0L131.0 133.3L124.5 137.7L117.5 141.4L111.0 143.8L104.5 145.0Z" fill="#ffce00"/><path d="M105.5 142.0L98.0 142.3L91.0 140.3L83.6 136.0L76.3 129.5L69.0 120.9L63.0 111.5L58.9 102.0L56.1 91.5L54.4 77.5L54.1 59.0L54.8 42.5L56.7 30.5L60.0 20.9L64.8 12.5L71.0 5.5L78.4 0.0L129.2 0.0L131.0 0.9L136.0 3.9L140.6 7.5L144.5 11.5L148.3 16.5L153.9 27.5L157.7 41.0L159.7 58.5L159.7 67.5L159.1 76.0L157.7 84.5L155.7 92.5L153.1 100.0L149.9 107.0L146.0 113.7L141.5 119.8L136.3 125.5L130.5 130.6L124.5 134.8L118.0 138.3L111.5 140.7L105.5 142.0Z" fill="#ffc800"/><path d="M102.0 139.5L97.0 139.3L92.0 137.9L87.0 135.3L81.5 131.3L75.9 126.0L70.6 119.5L66.2 113.0L62.6 106.0L58.3 93.5L56.1 79.0L55.6 58.0L56.9 39.5L59.7 27.5L64.2 17.5L70.8 9.0L79.0 2.5L83.8 0.0L122.4 0.0L131.5 4.1L139.5 10.0L146.1 17.5L151.2 26.5L155.0 37.5L157.4 50.5L158.2 64.5L157.2 77.5L154.7 89.5L150.5 101.0L145.2 111.0L138.5 119.8L130.0 127.8L120.7 134.0L111.5 137.9L102.0 139.5Z" fill="#ffc100"/><path d="M103.5 136.5L96.0 136.2L88.5 133.3L80.5 127.3L73.0 119.2L66.9 110.0L62.2 100.0L59.2 89.5L57.5 77.5L57.0 62.0L57.8 46.0L59.7 34.5L62.9 25.0L68.0 16.0L74.5 8.9L82.5 3.4L91.4 0.0L112.4 0.0L116.0 0.8L127.5 4.9L136.8 11.0L144.2 19.0L150.0 29.0L154.0 41.0L156.1 54.5L156.4 69.0L154.5 83.0L150.3 96.5L144.0 108.8L135.6 119.5L125.5 128.1L120.0 131.4L114.5 133.9L109.0 135.6L103.5 136.5Z" fill="#ffbb00"/><path d="M104.5 133.5L96.5 133.4L92.5 132.2L88.5 130.3L80.5 124.1L72.6 115.0L66.6 105.0L62.5 94.7L59.9 83.5L58.6 70.0L58.7 54.5L60.2 41.5L63.0 30.5L67.2 21.5L73.5 13.2L81.0 7.1L89.5 3.1L99.0 1.5L110.5 2.2L121.5 5.1L131.0 10.0L139.0 16.6L145.4 25.0L150.1 35.0L153.4 47.0L154.8 60.0L154.4 73.0L152.0 85.5L147.5 97.9L141.5 108.5L133.6 118.0L124.5 125.6L114.5 130.9L104.5 133.5Z" fill="#ffb400"/><path d="M104.5 130.5L96.5 130.4L89.0 127.5L81.2 121.5L74.0 113.0L68.3 103.5L64.0 93.0L61.4 81.5L60.1 69.0L60.3 55.0L61.8 42.5L64.7 32.0L69.0 23.1L75.0 15.2L82.0 9.5L90.0 5.7L99.0 4.0L110.0 4.8L120.5 7.6L129.5 12.2L137.5 18.8L143.8 27.0L148.5 36.6L151.7 48.0L153.2 60.0L152.7 72.5L150.3 84.5L146.0 96.1L140.0 106.5L132.5 115.5L123.5 123.0L114.0 128.1L104.5 130.5Z" fill="#ffad00"/><path d="M103.5 127.5L96.0 127.2L89.0 124.2L81.8 118.5L75.0 110.4L69.5 100.9L65.4 90.5L62.7 79.0L61.6 67.0L62.0 54.5L63.7 43.0L66.7 33.0L71.0 24.5L76.9 17.0L83.5 11.6L91.3 8.0L99.5 6.6L110.0 7.5L120.0 10.4L128.7 15.0L136.4 21.5L142.5 29.5L147.1 39.0L150.2 50.0L151.5 61.5L150.9 73.0L148.5 84.0L144.0 95.2L138.0 105.1L130.3 114.0L121.5 120.9L112.5 125.5L103.5 127.5Z" fill="#ffa600"/><path d="M105.5 124.0L98.5 124.4L91.5 122.3L85.0 117.9L78.2 110.5L72.2 101.0L67.6 90.5L64.7 79.5L63.3 67.5L63.6 55.0L65.2 45.5L68.2 35.5L72.7 26.5L78.1 19.5L84.5 14.2L92.0 10.6L99.0 9.4L109.0 10.1L118.0 12.6L126.0 16.6L134.0 23.1L140.8 31.5L145.4 40.5L148.4 50.5L149.6 60.0L149.4 70.5L147.3 81.0L143.3 91.5L137.4 101.5L130.3 110.0L123.0 116.4L114.5 121.3L105.5 124.0Z" fill="#ff9d00"/><path d="M104.5 122.5L97.5 122.6L91.0 120.3L84.5 115.6L78.2 108.5L72.7 99.5L68.5 89.6L65.7 79.0L64.3 68.0L64.5 57.0L66.0 46.5L69.0 36.5L73.2 28.0L78.4 21.0L84.5 15.8L91.5 12.3L99.0 10.9L108.5 11.5L117.5 14.0L126.0 18.4L133.4 24.5L139.4 32.0L143.9 40.5L146.9 50.0L148.3 60.5L148.0 71.0L145.9 81.0L142.1 91.0L136.5 100.5L129.5 108.9L121.5 115.6L113.0 120.2L104.5 122.5Z" fill="#ff9500"/><path d="M104.0 121.0L97.5 121.0L91.0 118.7L84.5 114.0L78.5 107.1L73.3 98.5L69.1 88.5L66.4 78.0L65.2 67.5L65.4 57.0L67.0 46.5L69.9 37.0L74.0 28.8L79.0 22.2L85.0 17.0L92.0 13.6L99.0 12.3L108.5 12.9L117.4 15.5L125.5 19.7L132.5 25.5L138.5 33.0L142.9 41.5L145.8 51.0L147.1 61.0L146.7 71.5L144.5 81.4L140.7 91.0L135.3 100.0L128.5 108.0L120.5 114.6L112.5 118.9L104.0 121.0Z" fill="#ff8c00"/><path d="M103.5 119.5L97.0 119.3L90.5 116.8L84.3 112.0L78.5 105.1L73.5 96.5L69.7 87.0L67.3 77.0L66.2 66.5L66.5 56.5L68.1 46.5L71.0 37.2L75.0 29.4L80.0 22.9L86.0 18.0L92.5 14.9L99.5 13.7L108.5 14.4L117.4 17.0L125.0 21.1L132.0 27.0L137.5 34.0L141.9 42.5L144.6 51.5L145.8 61.5L145.4 71.5L143.1 81.5L139.2 91.0L134.0 99.6L127.1 107.5L119.5 113.6L111.5 117.6L103.5 119.5Z" fill="#ff8300"/><path d="M102.0 118.0L96.0 117.5L90.0 114.9L84.0 109.9L78.4 103.0L74.0 95.0L70.3 85.5L68.0 75.5L67.1 65.5L67.6 55.5L69.3 46.0L72.1 37.5L76.0 30.0L81.0 23.7L86.9 19.0L93.5 16.1L100.0 15.1L109.0 16.0L117.2 18.5L125.0 22.9L131.4 28.5L137.0 35.8L141.0 44.0L143.5 53.0L144.5 62.5L143.9 72.5L141.6 82.0L137.5 91.5L132.0 100.0L125.1 107.5L117.6 113.0L110.0 116.5L102.0 118.0Z" fill="#ff7b00"/><path d="M105.0 116.0L98.5 116.3L92.5 114.5L86.5 110.5L81.0 104.5L76.0 96.6L72.2 88.0L69.6 78.5L68.3 68.5L68.3 58.5L69.7 49.0L72.3 40.0L76.0 32.3L80.6 26.0L86.4 21.0L92.5 17.9L99.0 16.6L107.5 17.2L115.5 19.4L123.0 23.3L129.5 28.6L134.8 35.0L139.0 42.8L141.8 51.5L143.1 60.5L142.9 70.0L141.1 79.0L137.7 88.0L133.0 96.3L127.0 103.6L120.0 109.7L112.5 113.9L105.0 116.0Z" fill="#ff7200"/><path d="M103.0 114.5L97.0 114.3L91.5 112.2L85.8 108.0L80.5 101.8L76.0 94.1L72.5 85.3L70.2 76.0L69.2 66.5L69.5 57.0L71.0 48.0L73.5 40.0L77.3 32.5L82.0 26.5L87.5 22.0L93.5 19.2L99.5 18.2L107.5 18.8L115.5 21.1L122.8 25.0L129.0 30.2L134.3 37.0L138.1 44.5L140.7 53.0L141.8 62.0L141.3 71.5L139.2 80.5L135.7 89.0L130.7 97.0L124.5 104.0L117.5 109.5L110.5 112.9L103.0 114.5Z" fill="#ff6800"/><path d="M105.0 112.5L98.5 112.8L93.0 111.2L87.5 107.6L82.5 102.3L78.0 95.4L74.3 87.0L71.7 78.0L70.4 68.5L70.4 59.5L71.6 50.5L74.0 42.0L77.5 34.6L82.0 28.5L87.0 24.1L93.0 21.0L99.0 19.8L107.0 20.3L114.5 22.4L121.5 26.0L127.5 30.9L132.5 37.0L136.3 44.0L139.0 52.0L140.3 60.5L140.1 69.5L138.4 78.0L135.3 86.5L131.0 94.1L125.5 100.9L119.0 106.5L112.0 110.5L105.0 112.5Z" fill="#fe5c00"/><path d="M102.0 111.0L96.5 110.6L91.0 108.2L86.0 104.1L81.4 98.5L77.4 91.5L74.2 83.0L72.2 74.5L71.4 65.5L71.7 57.0L73.2 48.5L75.7 41.0L79.1 34.5L83.5 29.0L88.5 24.9L94.0 22.4L100.0 21.4L107.5 22.1L115.0 24.4L121.5 28.0L127.3 33.0L131.9 39.0L135.5 46.0L137.9 54.0L138.9 62.5L138.3 71.5L136.3 80.0L132.9 88.0L128.1 95.5L122.5 101.6L116.0 106.5L109.0 109.7L102.0 111.0Z" fill="#fe4f00"/><path d="M103.0 109.0L97.5 108.9L92.5 107.1L87.5 103.5L82.7 98.0L78.6 91.0L75.6 83.5L73.5 75.0L72.6 66.5L72.8 58.5L74.0 50.5L76.3 43.0L79.5 36.5L83.6 31.0L88.5 26.8L94.0 24.1L99.5 23.1L107.0 23.7L114.0 25.8L120.5 29.4L125.9 34.0L130.5 39.8L134.0 46.5L136.3 54.0L137.3 62.0L136.9 70.5L135.1 78.5L132.0 86.3L127.6 93.5L122.0 99.8L116.0 104.4L109.5 107.6L103.0 109.0Z" fill="#fd4300"/><path d="M103.5 107.0L98.0 107.0L93.4 105.5L88.5 102.2L84.0 97.3L80.0 90.8L76.9 83.5L74.8 75.5L73.8 67.0L74.0 59.0L75.2 51.0L77.5 43.5L80.5 37.5L84.5 32.3L89.0 28.4L94.0 25.9L99.5 24.9L106.5 25.4L113.0 27.3L119.1 30.5L124.5 35.0L129.0 40.5L132.4 47.0L134.6 54.0L135.7 61.5L135.4 69.5L133.9 77.0L131.1 84.5L127.0 91.5L121.9 97.5L116.0 102.3L110.0 105.4L103.5 107.0Z" fill="#fd3700"/><path d="M103.0 105.0L98.0 105.0L93.5 103.4L89.0 100.4L84.5 95.4L80.9 89.5L78.0 82.5L76.0 74.7L75.1 66.5L75.2 59.0L76.4 51.5L78.5 44.7L81.5 38.7L85.0 34.0L89.5 30.1L94.5 27.6L99.5 26.7L106.0 27.2L112.5 29.1L118.5 32.3L123.5 36.5L127.8 42.0L131.0 48.0L133.1 55.0L134.0 62.0L133.7 69.5L132.1 77.0L129.4 84.0L125.5 90.6L120.5 96.3L115.0 100.7L109.0 103.6L103.0 105.0Z" fill="#fc2b00"/><path d="M101.0 103.0L96.5 102.4L92.0 100.3L88.0 97.0L84.0 91.9L80.8 86.0L78.5 79.5L76.9 72.0L76.3 64.5L76.7 57.5L78.0 50.7L80.2 44.5L83.0 39.2L86.5 34.9L90.7 31.5L95.0 29.5L100.0 28.6L106.5 29.2L112.5 31.2L118.0 34.3L122.8 38.5L126.9 44.0L129.8 50.0L131.6 56.5L132.3 63.5L131.7 71.0L130.0 78.0L127.0 84.8L123.0 90.8L118.5 95.6L113.0 99.5L107.0 102.1L101.0 103.0Z" fill="#fb1f00"/><path d="M103.5 100.5L98.5 100.6L94.5 99.4L90.5 96.8L86.5 92.6L83.0 87.0L80.5 81.0L78.7 74.0L77.8 67.0L77.9 60.0L78.8 53.5L80.6 47.5L83.2 42.0L86.5 37.4L90.5 33.9L95.0 31.6L99.5 30.7L105.5 31.1L111.0 32.7L116.0 35.3L120.5 39.0L124.3 43.5L127.4 49.0L129.4 55.0L130.4 61.5L130.2 68.5L128.9 75.0L126.5 81.5L123.4 87.0L119.4 92.0L114.5 96.1L109.0 99.1L103.5 100.5Z" fill="#fb1200"/><path d="M104.0 98.0L99.5 98.3L95.5 97.4L91.5 95.0L88.0 91.5L84.6 86.5L82.0 80.6L80.2 74.0L79.3 67.5L79.3 61.0L80.1 54.5L81.9 48.5L84.3 43.5L87.5 39.0L91.0 35.9L95.0 33.8L99.5 32.8L105.0 33.2L110.0 34.6L114.7 37.0L119.1 40.5L122.9 45.0L125.6 50.0L127.5 55.5L128.4 61.5L128.3 68.0L127.2 74.0L125.0 80.0L122.0 85.5L118.3 90.0L114.0 93.8L109.0 96.6L104.0 98.0Z" fill="#fa0600"/><path d="M103.5 95.6L99.0 95.7L95.5 94.7L92.0 92.6L88.5 89.0L85.5 84.3L83.2 79.0L81.6 73.0L80.9 67.0L80.8 61.0L81.6 55.5L83.1 50.0L85.5 45.0L88.4 41.0L91.7 38.0L95.5 36.0L99.5 35.1L104.5 35.4L109.5 36.9L114.0 39.2L118.0 42.5L121.3 46.5L123.8 51.0L125.5 56.0L126.4 61.5L126.3 67.5L125.3 73.0L123.4 78.5L120.5 83.8L117.0 88.1L113.0 91.6L108.5 94.1L103.5 95.6Z" fill="#f40000"/><path d="M101.5 93.0L98.0 92.8L94.5 91.4L91.4 89.0L88.5 85.5L86.0 81.0L84.1 76.0L82.9 70.5L82.5 65.0L83.5 54.8L85.0 50.2L87.1 46.0L89.8 42.5L93.0 39.8L96.5 38.2L100.0 37.6L104.5 37.9L109.0 39.3L113.0 41.5L117.0 44.9L120.0 48.8L122.1 53.0L123.6 58.0L124.2 63.0L123.9 68.5L122.6 74.0L120.6 79.0L117.8 83.5L114.5 87.1L110.5 90.2L106.0 92.2L101.5 93.0Z" fill="#e80000"/><path d="M101.5 90.0L98.5 89.9L95.5 88.8L92.5 86.6L89.9 83.5L87.6 79.5L85.9 75.0L84.3 65.0L85.2 56.0L86.5 51.8L88.5 47.8L91.0 44.6L93.5 42.5L96.5 40.9L100.0 40.3L104.0 40.6L108.0 41.8L111.5 43.6L115.0 46.6L117.7 50.0L119.8 54.0L121.2 58.5L121.7 63.0L121.5 68.0L120.3 73.0L118.5 77.5L116.0 81.5L113.0 84.8L109.5 87.4L105.5 89.3L101.5 90.0Z" fill="#db0000"/><path d="M102.5 86.5L99.5 86.7L97.0 86.0L94.5 84.5L91.9 82.0L88.2 75.0L86.4 66.0L87.0 57.5L90.0 50.0L92.0 47.3L94.5 45.1L97.0 43.9L100.0 43.3L103.5 43.6L107.0 44.6L110.0 46.2L113.0 48.6L115.3 51.5L117.2 55.0L119.0 62.5L118.0 71.0L114.6 78.5L112.0 81.6L109.0 84.0L106.0 85.6L102.5 86.5Z" fill="#cf0000"/><path d="M103.0 82.5L98.0 82.4L94.0 79.7L90.6 74.0L88.9 67.0L89.0 60.0L91.1 53.5L95.0 48.6L99.5 46.8L105.5 47.7L110.5 50.9L114.2 56.0L115.8 62.0L115.3 69.0L112.5 75.5L108.4 80.0L103.0 82.5Z" fill="#c30000"/><path d="M101.0 78.0L97.5 77.3L94.5 74.3L92.5 70.0L91.6 64.5L92.1 59.5L94.0 55.0L96.5 52.3L100.0 51.0L104.5 51.9L108.3 54.5L110.9 58.5L112.0 63.5L111.2 69.0L108.9 73.5L105.5 76.6L101.0 78.0Z" fill="#b70000"/><path d="M102.0 70.7L100.0 70.9L98.2 70.0L96.8 68.0L96.1 65.5L96.1 62.5L96.8 60.0L98.0 58.4L100.0 57.4L102.0 57.7L104.0 58.8L105.4 60.5L106.1 62.5L106.1 65.0L105.4 67.5L104.0 69.4L102.0 70.7Z" fill="#aa0000"/><mask id="m8" maskUnits="userSpaceOnUse" x="-10" y="-10" width="240" height="210"><rect x="-10" y="-10" width="240" height="210" fill="#fff"/><rect x="-4.8" y="-3.8" width="9.6" height="7.6" fill="#000" transform="translate(66.5411,86.5) rotate(74.552)"/></mask><path d="M103.5 124.1L100.0 124.3L96.5 123.9L93.0 122.8L90.0 121.3L87.0 119.3L83.5 116.3L80.8 113.5L77.2 109.0L74.3 104.5L71.8 100.0L69.7 95.5L67.3 89.0L64.7 79.0L63.7 72.5L63.3 66.5L63.7 55.5L65.3 45.5L67.7 37.0L69.8 32.0L72.2 27.5L75.3 23.0L77.8 20.0L80.0 17.8L84.0 14.7L87.5 12.6L91.0 11.1L94.0 10.2L98.5 9.6L104.0 9.6L108.5 10.2L113.0 11.1L118.0 12.8L122.5 14.8L126.5 17.2L130.0 19.7L134.2 23.5L137.8 27.5L140.3 31.0L143.2 36.0L145.2 40.5L146.8 45.0L148.2 50.5L149.3 57.0L149.6 62.0L149.4 68.5L148.8 73.5L147.8 78.5L146.2 84.0L144.3 89.0L141.3 95.0L135.8 103.5L132.9 107.0L127.5 112.4L120.5 117.9L116.0 120.4L111.5 122.3L108.0 123.4L103.5 124.1Z" fill="none" stroke="#3838a4" stroke-width="1.0" mask="url(#m8)"/><text x="0" y="3.4" font-size="9.5" text-anchor="middle" font-family="Liberation Sans" style="fill:#3838a4;stroke:#3838a4;stroke-width:0.3" transform="translate(66.5411,86.5) rotate(74.552)">25</text></g><rect x="37" y="20.5" width="217" height="186" fill="none" stroke="#333" stroke-width="1"/><rect x="258.6" y="20.5" width="9" height="186" fill="url(#cb)" stroke="#333" stroke-width="1"/><line x1="265.1" x2="267.6" y1="57.7" y2="57.7" stroke="#222" stroke-width="1"/><line x1="265.1" x2="267.6" y1="94.9" y2="94.9" stroke="#222" stroke-width="1"/><line x1="265.1" x2="267.6" y1="132.1" y2="132.1" stroke="#222" stroke-width="1"/><line x1="265.1" x2="267.6" y1="169.3" y2="169.3" stroke="#222" stroke-width="1"/><text x="270.5" y="25.0" font-size="10.8" text-anchor="start" font-family="Liberation Sans">32.0</text><text x="270.5" y="62.2" font-size="10.8" text-anchor="start" font-family="Liberation Sans">26.6</text><text x="270.5" y="99.4" font-size="10.8" text-anchor="start" font-family="Liberation Sans">21.2</text><text x="270.5" y="136.6" font-size="10.8" text-anchor="start" font-family="Liberation Sans">15.8</text><text x="270.5" y="173.8" font-size="10.8" text-anchor="start" font-family="Liberation Sans">10.4</text><text x="270.5" y="211.0" font-size="10.8" text-anchor="start" font-family="Liberation Sans">5.0</text><text x="302.0" y="15.2" font-size="11" text-anchor="end" font-family="Liberation Sans">temperature(°C)</text><text x="32.1" y="211.0" font-size="10.8" text-anchor="end" font-family="Liberation Sans">0</text><text x="32.1" y="180.0" font-size="10.8" text-anchor="end" font-family="Liberation Sans">20</text><text x="32.1" y="149.0" font-size="10.8" text-anchor="end" font-family="Liberation Sans">40</text><text x="32.1" y="118.0" font-size="10.8" text-anchor="end" font-family="Liberation Sans">60</text><text x="32.1" y="87.0" font-size="10.8" text-anchor="end" font-family="Liberation Sans">80</text><text x="32.1" y="56.0" font-size="10.8" text-anchor="end" font-family="Liberation Sans">100</text><text x="32.1" y="25.0" font-size="10.8" text-anchor="end" font-family="Liberation Sans">120</text><text x="37.0" y="220.2" font-size="11" text-anchor="middle" font-family="Liberation Sans">−70</text><text x="91.2" y="220.2" font-size="11" text-anchor="middle" font-family="Liberation Sans">−35</text><text x="145.5" y="220.2" font-size="11" text-anchor="middle" font-family="Liberation Sans">0</text><text x="199.8" y="220.2" font-size="11" text-anchor="middle" font-family="Liberation Sans">35</text><text x="254.0" y="220.2" font-size="11" text-anchor="middle" font-family="Liberation Sans">70</text><text x="145.0" y="232.4" font-size="11.3" text-anchor="middle" font-family="Liberation Sans">diameter(mm)</text><text transform="translate(11.8,114) rotate(-90)" font-size="11.5" text-anchor="middle" font-family="Liberation Sans">height(mm)</text><text x="145.0" y="253.7" font-size="18.3" text-anchor="middle" font-family="Liberation Serif">day 14</text></g>
</svg></body></html>
